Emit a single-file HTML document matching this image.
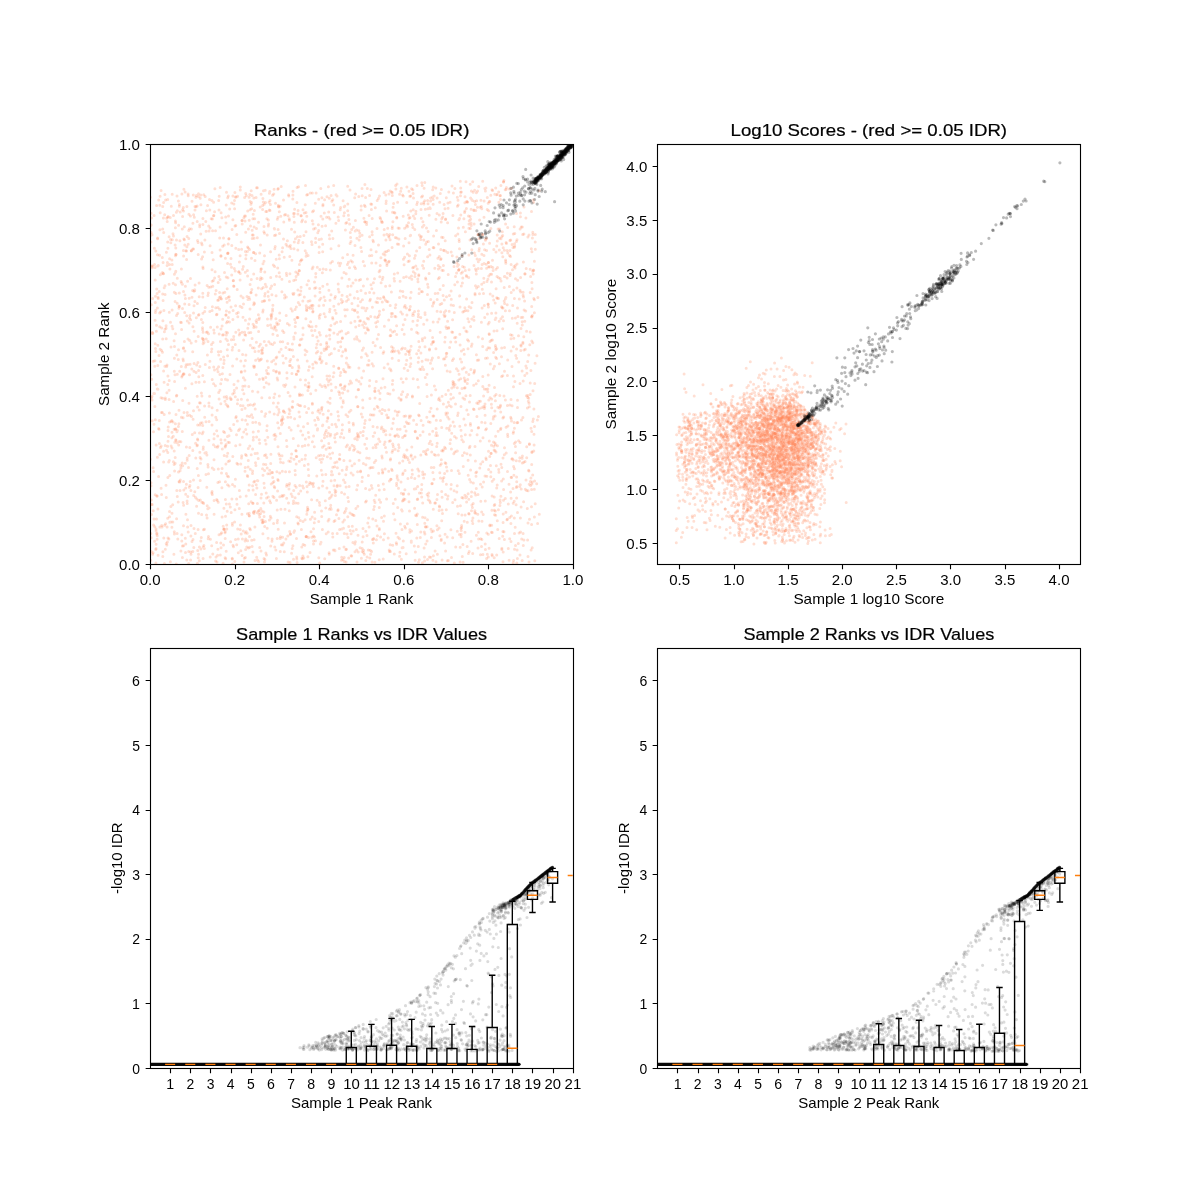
<!DOCTYPE html>
<html><head><meta charset="utf-8"><title>IDR plots</title><style>html,body{margin:0;padding:0;background:#fff;overflow:hidden}svg{display:block}text{font-family:"Liberation Sans",sans-serif}</style></head><body><svg width="1200" height="1200" viewBox="0 0 1200 1200" font-family="'Liberation Sans', sans-serif" fill="#000"><rect width="1200" height="1200" fill="#fff"/><defs><clipPath id="ca1"><rect x="150.00" y="144.00" width="422.73" height="420.00"/></clipPath><clipPath id="ca2"><rect x="657.27" y="144.00" width="422.73" height="420.00"/></clipPath><clipPath id="ca3"><rect x="150.00" y="648.00" width="422.73" height="420.00"/></clipPath><clipPath id="ca4"><rect x="657.27" y="648.00" width="422.73" height="420.00"/></clipPath></defs><g clip-path="url(#ca1)"><g fill="none" stroke="#ff7f50" stroke-opacity="0.25" stroke-width="3.0" stroke-linecap="round"><path d="M417.3 437.8h0M175.5 429.6h0M302.9 555.9h0M323.8 455.4h0M189.2 298.2h0M359.7 236.5h0M398.9 239h0M182.2 463h0M372.1 561.9h0M274 497.6h0M457.8 234.1h0M482.2 486.9h0M206.9 454.9h0M206.4 332.3h0M306.6 310h0M476.6 287.9h0M269.3 210.1h0M306.6 412.6h0M431.4 537.5h0M347.9 391.1h0M530.2 382.9h0M193.5 410.8h0M315.3 228.3h0M162.7 229h0M161.7 328.1h0M532.8 342.7h0M501.5 356.8h0M502.9 417.9h0M164.7 525.3h0M530.9 370.6h0M407.4 457.4h0M189.5 374.7h0M274.7 487.8h0M326.9 488.1h0M433.9 467.4h0M365.1 222.1h0M338.4 416.1h0M275.5 203.2h0M528 522.9h0M511.4 515.9h0M418.8 274.8h0M170.5 322.3h0M274.5 235.4h0M442.1 559.9h0M513.8 338.2h0M459.4 534.6h0M441.1 258.8h0M444.6 316.6h0M218.2 282.5h0M358.1 389.7h0M188.7 230.5h0M298.2 371.2h0M264 226.6h0M415.1 560.3h0M226.5 396.6h0M221.9 217.8h0M270.6 502.8h0M167.8 452.5h0M163.7 232.6h0M276.4 558.6h0M465.4 231.7h0M298.9 294.9h0M355.5 268.4h0M504 396h0M243.9 393.7h0M268.5 373.7h0M344 547.1h0M155.5 348.6h0M405.1 305.5h0M377.6 298.2h0M402.6 437.4h0M310.8 306.1h0M431.7 452.1h0M228.2 244.1h0M163.1 262.4h0M356.3 529.4h0M476.4 535.2h0M341.9 407.1h0M492.6 190.5h0M336.5 426.8h0M261 550.9h0M365.7 310.8h0M318.1 340.9h0M316.2 457.8h0M511.1 351.1h0M176 414.5h0M344.2 206.7h0M193.8 547.5h0M307.5 507.2h0M380.2 265.4h0M266.2 345.3h0M413.2 209.8h0M370.6 554.2h0M474.7 201.5h0M434.8 268.3h0M268.6 224.1h0M504.2 287.6h0M413.4 215.9h0M309.1 484.4h0M448 495.9h0M255 351.5h0M303 328h0M483.4 244.1h0M332.6 453.1h0M262.1 278.5h0M474.5 370.3h0M212.1 491.5h0M520.8 350.6h0M341.6 433.5h0M181.4 322.6h0M151 482.7h0M333.3 549.9h0M512.4 458.8h0M419.3 289.1h0M386.2 201.1h0M330.2 435.9h0M231 399.1h0M365.6 488.4h0M397.7 507.6h0M425.9 279.2h0M293.3 503.5h0M223.5 545h0M459.7 393.3h0M205.2 307.5h0M531.6 489.5h0M452.7 502.6h0M529 562h0M161.1 488.3h0M476.3 488.4h0M247.7 476.4h0M252.9 552.1h0M254 302.7h0M504.6 303.5h0M304.3 212.9h0M500.3 406.5h0M402.5 195.1h0M407.5 423.6h0M199.5 432.9h0M421.3 218.2h0M514.5 549.2h0M347 534h0M362.1 307.8h0M484.7 317.5h0M154.8 526.8h0M305.1 519.8h0M215.4 385.8h0M187.8 496.5h0M174.4 358.3h0M300.2 236.5h0M353 283.1h0M367.4 365h0M343.9 460.6h0M349.9 447.8h0M307.8 386.7h0M202.6 329.7h0M356.9 436.9h0M529.4 443.8h0M361.2 206h0M338.6 420.1h0M354.6 310.7h0M395.1 351h0M330.7 505.2h0M413.2 378.7h0M192 297.2h0M245 471.2h0M427.1 541.1h0M234.7 486.3h0M325.8 507.9h0M444.6 447.3h0M315.7 277.1h0M252.7 417.4h0M199.1 382.2h0M493.2 419h0M236.5 434.7h0M418.2 362.3h0M194.9 301.5h0M509.1 560.3h0M273.9 397.4h0M425.1 314.6h0M412.7 267.7h0M510.5 256.4h0M374.5 278.7h0M486.6 558.6h0M290 562.4h0M520.4 213.1h0M195.3 533.5h0M437.1 198.1h0M192.6 290.5h0M341.7 557.3h0M238.7 249.6h0M371.2 467.4h0M254.3 326.1h0M240.3 187.1h0M256.1 320.7h0M515.4 446.5h0M379.9 399.2h0M269.6 397.7h0M456.6 273.1h0M292.3 367.4h0M315.1 296h0M430.7 299.5h0M340.7 263.2h0M526 480.1h0M497.2 235h0M280.6 462.2h0M354.7 197.7h0M335.1 434.7h0M402 529.6h0M482.1 264.5h0M347.8 286.2h0M482.8 376.5h0M327 196.8h0M524 206.9h0M194 528.6h0M391.1 370.8h0M421.2 203.7h0M327 376.1h0M194.8 491.8h0M491.4 532.2h0M522.8 317.2h0M375 388.3h0M532.8 232.3h0M280.3 341.8h0M443.3 270.4h0M263 475.2h0M453.5 358.8h0M513.2 503.2h0M156.8 534.1h0M175.4 227.8h0M522.9 343.5h0M278.3 188.6h0M412.9 321.2h0M493.6 352.5h0M317.1 500.3h0M305.4 439.1h0M422.4 367.1h0M270.7 463.4h0M411.1 292.3h0M439.7 202.3h0M409.4 310h0M205.3 364.5h0M278.3 205.3h0M468.6 341.1h0M173.5 215.4h0M338.6 304h0M301.9 459.4h0M418.8 476.1h0M280.8 216.2h0M291 248.5h0M240.8 361.1h0M375.3 207.8h0M306.7 195.1h0M237.8 316.8h0M503.1 522.4h0M527.8 395.5h0M356.9 238.2h0M301.9 259.8h0M197.1 205.9h0M202.1 422.7h0M348.3 299.5h0M169.2 380.6h0M512.1 244.6h0M313.4 486.6h0M506.1 427.2h0M256.9 319.7h0M369.5 255.7h0M395.6 185.4h0M348.4 262.3h0M256.1 327h0M185.4 388.2h0M279.7 276.7h0M238.3 552.8h0M321 216.2h0M267.3 361.1h0M169.8 475.6h0M463.1 562.3h0M277.7 422.7h0M249.8 194.6h0M510.1 275.5h0M523.9 234h0M347.7 186.3h0M481.8 208.8h0M489.2 201.8h0M425 312.8h0M308.7 383.1h0M383.4 309.7h0M531.3 248.8h0M406.3 378.7h0M190.1 364.2h0M468.9 255h0M258.9 319.6h0M262.9 519.9h0M246.2 531.8h0M265.8 454.7h0M395.9 189.1h0M514.7 246.1h0M441.6 237.2h0M317.5 417.4h0M457.3 451.1h0M312.4 441.7h0M244.5 216.1h0M466.4 275.4h0M468.8 499.3h0M183.9 189.2h0M182.3 229h0M500.5 429.6h0M303 521.4h0M468.9 374.4h0M204.5 529.3h0M247.2 533.3h0M450.9 489h0M314.9 330.5h0M514.6 243.7h0M397.3 244.1h0M322.8 286.3h0M445.1 534.3h0M306.4 308.3h0M295.4 238.8h0M228.3 195.9h0M323 204.5h0M365.5 323.8h0M478 547.9h0M464.2 521.2h0M393.4 390.1h0M394.6 331.3h0M505.4 400h0M523.1 295.3h0M362.2 195.8h0M277.6 490.9h0M360.6 470.9h0M462.6 266.4h0M253.5 365.9h0M406.7 202.4h0M420.8 532h0M155.3 419.8h0M499.6 229.1h0M442.8 216.9h0M280.3 551.5h0M439.6 507.1h0M225.4 499.4h0M160.8 311.8h0M272.9 334.2h0M400.3 290.9h0M526.7 457.8h0M379.8 411.1h0M342.1 295.2h0M354.9 544.1h0M403.6 246.1h0M328.7 212.1h0M417.3 514.1h0M291.5 229.3h0M465 380.3h0M364.9 184.4h0M322.1 360.9h0M453.4 397.7h0M174.2 451h0M431 408.3h0M432.6 337.5h0M289.2 427.5h0M226.5 192.3h0M189.7 415.3h0M316.3 353h0M343.8 215.8h0M343 559.6h0M494.5 387.4h0M220.3 555h0M372.4 307.2h0M234.3 268.5h0M264.7 526.6h0M185.4 286.3h0M159.7 454.4h0M438.5 357.6h0M385 252.1h0M431.5 360.3h0M492.2 555.7h0M352 465.7h0M340.2 375.4h0M162.4 412.6h0M404.2 334.3h0M446 326.7h0M151.7 379.2h0M439.9 535.8h0M159.4 443.4h0M229.4 442.4h0M533.8 298.4h0M198.6 370.6h0M323.2 414.3h0M442.1 396.2h0M242.6 269.2h0M470.4 228.5h0M363.4 463.4h0M494.1 449.9h0M447.7 417.1h0M388.5 417.6h0M377.4 535.7h0M480.5 554.7h0M288.6 194.7h0M484.1 263.5h0M264 558.4h0M514.2 422.6h0M253.6 304.8h0M200.2 198.3h0M473.8 373.1h0M252.6 485.8h0M446.2 356.4h0M493.8 479.3h0M189.8 447.4h0M531.7 431.5h0M353.4 425.1h0M497 330.8h0M317.3 267.2h0M264 301h0M344.8 205.9h0M232.5 484.4h0M233.7 336.4h0M186.9 206.4h0M223.5 334.8h0M456.6 451.3h0M426.6 241.9h0M436.3 420.3h0M195.9 341.2h0M197 445.8h0M301.4 529.5h0M322.5 486.1h0M258.2 458.4h0M266.5 555.1h0M438.3 278.7h0M259.2 439.7h0M252.1 546.6h0M457.2 485.8h0M503.2 551.9h0M522.1 370.9h0M418 333.3h0M252.2 230.3h0M153.2 361.3h0M447.6 321.3h0M507.4 405.5h0M156.1 548.4h0M407.6 394.5h0M290.5 365.4h0M363.9 307.9h0M236.7 544.7h0M182.6 209.8h0M295.5 322.5h0"/><path d="M449.2 311.3h0M292.3 311h0M197.2 396.3h0M442 510h0M485.4 549.5h0M400.1 429.2h0M346.5 549.2h0M255.6 360.3h0M266.4 286.8h0M225 440.1h0M253.7 511.7h0M358.2 435.1h0M275.2 246.5h0M371.6 551.6h0M513.5 431.7h0M424.1 188.3h0M227.5 484.8h0M392.3 226.8h0M507.4 273.3h0M443.1 295.5h0M463 497.9h0M502.9 531.6h0M445.9 413.1h0M408.2 459.8h0M377.2 200.4h0M424.7 474.2h0M407.7 226.5h0M470.6 470.1h0M411.4 477.5h0M334.3 212.4h0M459.2 241.4h0M457.5 266.2h0M212.4 219h0M293.9 339h0M200.4 403h0M468.1 460.3h0M507.4 375.5h0M432.7 189.7h0M440.3 193.5h0M375.7 322.7h0M398 537.3h0M462.9 544.6h0M213.9 215.6h0M264.4 487.8h0M314.4 536.9h0M322.3 474.7h0M298.7 493.7h0M238.2 312.5h0M510.3 273.6h0M485.9 188.1h0M380 217.4h0M232.1 229.6h0M517.2 323.2h0M223.5 238h0M392.7 545.2h0M196.6 506.3h0M386.7 415h0M183.6 347.8h0M272.6 310.9h0M473.9 210h0M336.9 462.1h0M445.5 448.5h0M381.8 426.9h0M175.4 423.7h0M516.8 486.5h0M169.1 284.2h0M459.8 426.2h0M201.8 502.2h0M298.3 302.4h0M278 217.2h0M351.1 533.8h0M283.6 385.2h0M471.4 191.1h0M276.3 330.2h0M504.5 371.3h0M445.8 394.5h0M335.2 492.6h0M318.6 455.7h0M169.5 516.7h0M317.6 428.7h0M222.1 517.1h0M410.2 235.7h0M281.1 349.3h0M338.4 263h0M253.5 512.6h0M202.8 375.6h0M305.3 385h0M390.6 458.7h0M297.9 371h0M335 489.9h0M199.8 452.3h0M415.3 431.8h0M487.3 197.6h0M370.4 299.3h0M452.6 319.7h0M293.8 337.1h0M201.6 259h0M455.7 546.9h0M405.1 348.4h0M256.1 197.4h0M303.1 544.5h0M228.5 344.4h0M464.3 354.3h0M489.8 456.6h0M152 400h0M531.7 306.4h0M468.2 414.4h0M174.6 381.5h0M203.1 332.2h0M444.6 542.9h0M237.6 196.3h0M190.6 560.1h0M346.1 486.9h0M526.2 268.6h0M410.8 363.7h0M504.9 276.6h0M426.4 454.6h0M406.6 226.9h0M536.7 483.7h0M487.8 389.1h0M199.4 547h0M162 526.9h0M158.1 555.3h0M370.7 316.6h0M355.6 194h0M367.8 523h0M342.9 301.5h0M296.5 374.4h0M249.4 516.1h0M329.8 338.9h0M298.1 425.7h0M156.7 289h0M329.7 454h0M273.6 370.6h0M509.9 405h0M465 532.3h0M407.4 254.1h0M217 562h0M485.5 240.3h0M392.3 192.4h0M417.2 269.1h0M328.7 217.3h0M271.2 484h0M439.3 505.9h0M503.2 513.9h0M232.3 559.1h0M390.5 329.9h0M187.5 519.7h0M159.9 527h0M228.4 317.5h0M261.5 494.2h0M192.3 434.6h0M504.4 276.6h0M443.1 213.5h0M527.4 408.1h0M299.4 344.9h0M305.9 318.7h0M415.8 213.8h0M461 528.2h0M348.7 558.1h0M447.7 252.4h0M319.2 247h0M357.4 339.2h0M393.3 446.7h0M232.2 350.1h0M404.6 257.3h0M464.2 378.1h0M161.6 350.5h0M415.6 515.2h0M312.2 268.8h0M219.7 238h0M355.4 220.5h0M300.8 430.9h0M167.4 262.4h0M337.2 533.5h0M177 196h0M365.6 333h0M532.2 481.9h0M328.2 532.1h0M341.6 331.1h0M198.5 193.8h0M461.9 439.7h0M416.6 332.3h0M220.7 359.3h0M464.4 387.9h0M188.1 194.1h0M349.5 267.7h0M484.9 188.4h0M400.7 191.3h0M279.3 352h0M284.7 386.4h0M256.6 436.9h0M281.5 424.8h0M157.7 266h0M289.7 531.5h0M188.8 238.6h0M252.6 470.9h0M330.6 263h0M202.3 338.2h0M240.3 190h0M427.8 449.5h0M167.9 376h0M375 391.6h0M200.5 463.3h0M433.3 509.3h0M458.2 470.7h0M292.9 293.4h0M530.2 292.6h0M171.9 527.3h0M407.3 351.1h0M493.4 368.7h0M262.6 205.4h0M320 358.9h0M421.4 236.6h0M463.4 441.8h0M356.2 397h0M259.7 517.1h0M413.3 271.7h0M354.1 515.6h0M294.3 222.2h0M470.7 219.2h0M175.2 457.5h0M324.1 313.8h0M294 459.3h0M233.5 546.7h0M293.9 293.2h0M301.2 259.9h0M195 210.1h0M268.3 367.6h0M227.5 380h0M296.9 202.5h0M322.4 272.7h0M153.1 467.7h0M253.8 252.5h0M183.4 373.7h0M317.4 429.9h0M437.4 529.7h0M364.2 327.4h0M280.3 433.5h0M280.4 536.7h0M387.4 417.7h0M409.3 354.5h0M331.4 474.7h0M251.6 414.8h0M446.7 407.1h0M477.1 434.8h0M306 212.5h0M264.9 416.3h0M307.9 556.7h0M198.1 242.6h0M165.6 200.1h0M296.2 451h0M369.2 458.3h0M217.9 482.6h0M151.5 514.5h0M478.2 403.4h0M392.3 195.6h0M495.9 318h0M513 247.4h0M250.4 529.8h0M157.4 457.2h0M340.1 485.7h0M187.6 526.9h0M439.1 510.6h0M177.2 303.3h0M360.5 301.7h0M163.6 202.6h0M250.8 332.5h0M485.5 358.3h0M188.7 563.5h0M350 189.9h0M453.5 305.5h0M193.9 371.3h0M457.3 531.2h0M471.9 504.9h0M150.9 242h0M451.8 388.1h0M326 348.9h0M286.5 440.4h0M522.2 321.7h0M433.4 303.4h0M246.3 195.8h0M391.6 351.8h0M475.4 204.5h0M331.1 195.5h0M462.4 283h0M506.2 453.1h0M332.5 474.8h0M491.1 453.2h0M376.3 381.4h0M200.8 541.1h0M444.3 300h0M358.9 437.1h0M517.5 400.3h0M433.1 199.4h0M310 552.4h0M344.4 520.1h0M168.7 461.9h0M169.9 269.1h0M498.1 431.2h0M524.9 273.7h0M516.6 358.3h0M460.2 547.2h0M404.1 454.7h0M332.6 533.4h0M292.9 195.1h0M263.3 202.1h0M363.6 550.2h0M221.6 532.8h0M509.5 310.8h0M326.1 449.3h0M183 358.9h0M282.7 341.8h0M504.5 347.5h0M474.1 223.9h0M387.9 301.7h0M410.2 349.9h0M315.9 287.8h0M434.2 454.5h0M404.2 368.2h0M307.8 509.3h0M392.1 247.6h0M264.8 272h0M433.4 555.8h0M164.9 194.4h0M374.4 408.9h0M418 281.7h0M387.9 363.9h0M312.3 192.9h0M398.2 450.8h0M233.9 286.3h0M423.7 202.6h0M492.4 340.1h0M254.7 218.7h0M454.1 490.7h0M214.5 370.1h0M210.6 327.3h0M374.3 462.5h0M206 474.6h0M422.2 185.5h0M470.4 423.4h0M297.6 359.9h0M410.6 235.2h0M193.1 419.2h0M284.8 412.6h0M514.3 443.4h0M176.8 395.3h0M167.7 217.3h0M459.1 374.3h0M283.2 419h0M362.4 417h0M166.7 366.6h0M193.5 312.9h0M200.2 480.6h0M231.7 275.1h0M323 481.2h0M247.4 251.5h0M351 241.5h0M210.2 557h0M318.7 230.6h0M267.1 425.7h0M385.2 259.9h0M429.5 349h0M312.5 412.7h0M313.5 541h0M415.9 211.2h0M405 319.4h0M180.2 212h0M288.8 461.1h0M472 344h0M178.9 308.2h0M243.5 304h0M506.4 187.4h0M405.2 457.8h0M227.6 355.8h0M293 191.3h0M169.1 390.3h0M453.7 382.4h0M369.5 489.8h0M296.7 516.8h0M211.4 351.7h0M230.3 507.1h0M169.4 412.9h0M235.7 445.7h0M500.4 195.6h0M200.9 548.9h0M495.2 319.6h0M371.4 485.4h0M383.1 353.3h0M202.5 327.8h0M428.2 496.3h0M461.9 515.1h0M169.5 264.6h0M151.3 304.7h0M464.9 495.2h0M475.8 210.5h0M176.3 564h0M429.5 434.2h0M358 305.7h0M339.2 473.8h0M358.9 230.8h0M289.5 281.5h0M492 189.8h0M490.2 274.2h0M517.7 422.5h0M345.4 229.9h0M385.9 434.8h0M497.7 529.5h0M458.5 264.8h0M239.9 333.3h0M461.4 351.1h0M482.5 234.5h0M342.9 351.8h0M487 281.6h0M381.7 222.3h0M271.6 327.8h0M514.4 468.7h0M373.3 542.9h0M167.7 242h0M372.9 240.2h0M158.3 265.4h0M348.2 332.6h0M352.4 262.1h0M531.5 211.5h0M368.9 360.5h0M199.7 224.8h0M328.6 381.5h0M402.6 348.1h0M486.7 238.4h0M282.7 544.9h0M225.4 379.2h0M378.7 473.3h0M197.2 221.4h0M425.7 244.3h0M479.8 468.1h0M169.3 460.6h0M518.5 335.8h0M307.9 390.4h0M368.9 365.1h0M286.4 273.2h0M168 538.1h0M340.4 385.3h0M443.5 250.3h0M460 307h0"/><path d="M485.3 501h0M475 293.5h0M382.2 458.1h0M373.9 414.9h0M470.3 455.1h0M199.2 409.9h0M339.3 458.9h0M277.5 520.2h0M504.3 250.2h0M398.5 488.2h0M344.8 309.8h0M475.4 461.1h0M250.3 345.3h0M194.1 331.3h0M420.8 239.4h0M405.3 435.6h0M270 210.5h0M160.2 349.2h0M232.9 219.7h0M514 266.5h0M202.9 313.2h0M427 320h0M152.6 298.4h0M157.3 389h0M277.3 219.2h0M155.8 351.4h0M276.7 322.7h0M303.5 426.8h0M381.1 282.7h0M391.4 292h0M386.9 234.2h0M379.5 311.2h0M341.6 302.8h0M467 453.8h0M282.8 355.8h0M325.6 225.7h0M242.6 354.6h0M334.5 348.7h0M188.5 467.6h0M401 481.9h0M409.5 462.5h0M274.2 486.4h0M278.1 229.4h0M358.8 196.6h0M314.6 288.3h0M332 495.1h0M447.1 470.9h0M247.4 424.2h0M165 285.7h0M249.7 528.6h0M350.9 260.7h0M241.9 514.3h0M417.3 499.6h0M263 263.8h0M224.1 360.3h0M525.7 310.9h0M276 371.9h0M527.3 508.5h0M245.2 467.5h0M176.4 396.1h0M347.9 497.4h0M253.1 490.1h0M507.1 277.9h0M202.9 224.5h0M242.6 389.8h0M219.6 292.4h0M391.7 428.8h0M521.2 317.6h0M333.8 306.2h0M480.9 200.2h0M337.4 485.3h0M265.8 377.4h0M192 201.2h0M174.1 340.8h0M516.4 487.6h0M183.6 256h0M246.8 434h0M484 217.2h0M308.5 537.5h0M517.5 512.6h0M500.9 318.8h0M369.4 385.9h0M286.3 296.9h0M299.8 416.8h0M517 239.7h0M305.1 350h0M436 428.6h0M157.5 254.8h0M203.8 194.8h0M511.6 188.2h0M232.3 523.3h0M324.4 437.8h0M395.1 449.2h0M339 291.9h0M216.1 290.5h0M348.9 219.4h0M454.9 188.5h0M367.3 355.7h0M456.3 438h0M279.4 258.8h0M281.9 419.3h0M354.5 463.7h0M476.4 354.8h0M248.3 247.9h0M476.9 416.6h0M275.2 327.5h0M220.4 341.6h0M298.7 366.1h0M378.7 390.7h0M379.3 528.4h0M183.6 545.8h0M392.5 313.6h0M177.1 442.7h0M500.2 278.6h0M328.4 410.7h0M290.6 533.9h0M333.7 205.1h0M265.2 190.3h0M406.3 422h0M151.3 397.8h0M372.1 363.7h0M389.2 441.2h0M257.4 480.6h0M238.2 538.9h0M181.8 377h0M228.9 238.4h0M163.3 273.5h0M502.5 316.7h0M425.9 527h0M213.8 330.1h0M288.8 196h0M158 297.2h0M389.8 234.6h0M446.5 466.9h0M159.2 291.5h0M273.8 193.9h0M309.6 288.5h0M325.1 300.5h0M302.4 394.9h0M329.9 309.2h0M164.2 287.7h0M372.2 218.4h0M164.7 214.8h0M411.2 455h0M371.8 255.6h0M325.3 316.8h0M175.5 284.7h0M259.4 318h0M316.9 337h0M519.8 457.7h0M309.1 386.2h0M158.6 476.6h0M218.9 276.5h0M506.1 242.6h0M464.9 202.7h0M253.1 324.2h0M231.2 512.6h0M228.5 216.1h0M267.2 528.2h0M409.2 416.1h0M233.1 310.4h0M274.1 189.2h0M532.2 547.7h0M192.8 450.4h0M266.2 493.1h0M373.6 538.5h0M338.2 283.9h0M405.9 297.6h0M401.3 493.2h0M351.9 303.4h0M266 444h0M422.4 291.7h0M424.8 182.5h0M474 265.6h0M203 502.4h0M156.6 205.4h0M535.2 503.7h0M464.9 307.8h0M470.2 184.3h0M451.2 484.5h0M225.2 538.4h0M230 374.5h0M297.9 213.9h0M397.1 475.7h0M390.2 305.6h0M441.3 539.2h0M374.3 506.4h0M289.1 409.1h0M388.5 250.6h0M265.8 211.5h0M344.5 494.1h0M423.7 369.6h0M262.6 209.5h0M255.5 462.7h0M296.3 306.9h0M390.3 460.1h0M524 350.1h0M496.1 288.7h0M301.8 546.9h0M466.4 208.5h0M344.3 371.6h0M344.4 212.7h0M280.9 509.2h0M185.7 367h0M469.3 447.8h0M275.8 234.9h0M454.6 337.8h0M179.4 204.6h0M437.8 322.1h0M422.5 265.6h0M224.2 397h0M192.9 223.2h0M216.6 542.5h0M226.2 205h0M418.8 275.7h0M331.5 390.6h0M262.3 522.8h0M225.9 464h0M449 428h0M176.8 490.5h0M331.1 414.2h0M177.3 374.3h0M308.1 255.5h0M200.5 422.9h0M457.3 387.7h0M471.1 209.3h0M373.4 241.8h0M282.6 330.7h0M392.2 358.3h0M257.3 237.8h0M278.2 529.2h0M289.3 325.1h0M191.5 416.4h0M283.8 222h0M231.5 267.2h0M365.6 197.4h0M361.6 251.4h0M304.8 406.6h0M523.6 501.8h0M471.6 492h0M204.4 381.8h0M393.6 418.7h0M393.6 203.6h0M481.7 511.9h0M528 556.5h0M479 401.3h0M312.3 403.3h0M188.9 214.2h0M418.4 314.2h0M198.4 475.6h0M481.7 284.3h0M501.7 348h0M271.7 361.8h0M257.8 480.7h0M232.7 347.3h0M285.9 538.9h0M384.9 387.3h0M304.9 445.6h0M433.9 247.7h0M224.5 272.4h0M306.2 536.7h0M385.8 261.2h0M465.9 395.8h0M400.4 524h0M359.6 341h0M298.1 210.5h0M441.3 459.7h0M430.3 502.7h0M218.2 502.2h0M162.7 294h0M498.7 192.1h0M321.6 410.2h0M362 481.5h0M249.1 197.2h0M533.6 202.3h0M450.1 202.3h0M173 233.7h0M202.9 218.6h0M307.7 194.5h0M489.8 201.6h0M454.8 284.7h0M360.5 471.7h0M240.2 273.4h0M234.2 392.8h0M271.9 294.8h0M362.2 548.6h0M430.6 201h0M383.2 558.9h0M221.1 212.7h0M409.1 218.3h0M355 551.8h0M219.6 481.7h0M265.4 521.4h0M198.1 529.4h0M335.4 495.5h0M366.7 457.9h0M365.5 502h0M444.6 473.4h0M459.8 334.2h0M483.5 293.4h0M359.6 321.1h0M359.1 460.2h0M371 284.7h0M489.1 385.3h0M350.9 410.2h0M421 369.4h0M372.4 539.5h0M509.4 286.6h0M313.5 528.7h0M289 489h0M432.6 368.8h0M208.9 440.3h0M157.9 389.2h0M365.6 293.3h0M245.4 360.5h0M472.9 518.1h0M509.3 189h0M485.6 238.9h0M403.4 500.6h0M302.7 434.9h0M159 355.4h0M263.5 464.2h0M211.2 218.8h0M269.7 412h0M447.2 371h0M416.6 515.8h0M328.8 443.4h0M337.4 467.7h0M244.9 334.4h0M489.2 322.2h0M410.3 298h0M196.3 317.8h0M274.8 248.7h0M226.5 322.7h0M424.9 533.9h0M396.6 483.3h0M167.6 446.2h0M187.1 236.4h0M287.8 343.5h0M245.1 408.2h0M257.5 559.9h0M499.3 249.9h0M518.6 440.8h0M439.3 256.4h0M391.6 469.3h0M154.8 366.3h0M357.8 506.3h0M449.2 405.4h0M525.3 489.2h0M256.2 484.8h0M433.8 416.1h0M262.7 352.9h0M296.2 463.9h0M388.8 409.8h0M450.4 425.7h0M259.7 443.3h0M328.4 186.7h0M229.3 312.2h0M180.6 465.2h0M488.2 304.6h0M376 447.4h0M287 378.3h0M228 442.3h0M444.8 341.9h0M466.3 372.2h0M484.3 305.5h0M364.6 265.7h0M465.9 330.9h0M288.5 503.1h0M207.6 205.4h0M364.4 205.3h0M529 471h0M179 306.1h0M504.5 447.8h0M501.8 236.8h0M272.9 305.2h0M497 276.5h0M448.5 328.3h0M500.3 502.4h0M290.4 245.4h0M330.3 330.1h0M304.4 465.4h0M364.3 554.2h0M486.8 476.2h0M417.4 202.2h0M365.9 464.7h0M210.4 539.3h0M315.5 540.7h0M514.3 518h0M437.2 443.2h0M221 328.9h0M208.5 536.4h0M286.9 484.6h0M225.2 531.5h0M219.9 390.3h0M184.3 226.8h0M244.6 332.3h0M222.7 246.2h0M409.3 261h0M263.5 190.7h0M398.9 397.9h0M192 541.5h0M279.3 396.1h0M511.2 292.6h0M313.4 483.3h0M240.2 496.8h0M446.7 428.2h0M438.4 455h0M311.1 483.2h0M175 374.7h0M229.6 460.7h0M363.2 431.5h0M392.1 452.2h0M262.3 350.5h0M523.1 533.4h0M162.8 556.6h0M503.6 181.7h0M155.2 494.7h0M385.5 430.7h0M402.8 291.5h0M175.5 333.8h0M370.8 203.9h0M254.8 511.3h0M322.4 529.6h0M242 307.5h0M359.9 452.7h0M287.1 246.1h0M328.1 384.9h0M186.7 315.7h0M163.4 217.9h0M345.4 511.1h0M276.1 295.8h0M460.1 345.1h0M320.7 344.4h0M153.5 431.7h0M236.8 358.9h0M183.8 490h0M401.2 378.7h0M476.2 270.7h0M292.6 407.2h0M294 248.7h0M397.7 273.1h0M530.2 269.3h0"/><path d="M157.1 495.9h0M443.1 237.5h0M275.8 550h0M233.7 424.4h0M512 366.4h0M399.5 297.4h0M176.5 315.5h0M165.3 397.9h0M191.8 369h0M342.2 470.2h0M326.1 269.4h0M538.4 416.4h0M279.4 373.6h0M260.5 359.8h0M411.8 447.1h0M222.5 334.9h0M381.2 388h0M511.1 498.2h0M530.9 478.1h0M212.1 310.4h0M241.4 399.3h0M269.3 299.9h0M423.6 478h0M214 438.8h0M452.9 381.4h0M245.9 354.9h0M452.7 332.3h0M475.8 472.7h0M290.7 359.5h0M296.7 456.4h0M235.3 196.9h0M433.4 530.9h0M412.3 474.3h0M311 531.7h0M384.9 410.5h0M489.9 525.7h0M355.7 279.9h0M343.3 402.8h0M389.6 368.7h0M172 448.1h0M495.7 357.3h0M217.4 447.3h0M357.2 291.5h0M445.5 251.1h0M241.7 455.7h0M163.6 451.2h0M249.5 249.4h0M402.4 313.9h0M195 206.6h0M175.7 439.7h0M535.2 242.1h0M480.1 207.3h0M260.7 277.8h0M502.3 231.7h0M335 520.4h0M268.3 220h0M362.3 350.3h0M494.7 396.1h0M419.3 234.9h0M389.9 394h0M521.7 539h0M523.8 462.3h0M168.9 539.1h0M163.9 310.6h0M337 196.1h0M334.7 323.7h0M254.5 303.7h0M203.4 529.8h0M330.4 447.7h0M503.5 320.7h0M322.7 251.7h0M206.2 339h0M481.7 422.3h0M437.1 311.2h0M184.7 303.9h0M208.9 403.1h0M365.8 560.6h0M395.3 237.6h0M490 341.5h0M241.6 249.2h0M322 407.2h0M320.7 455.3h0M418.6 415h0M494.8 194.2h0M427.5 294.4h0M197.5 439.1h0M232.9 196.1h0M270.4 288.5h0M167.9 248.2h0M286.9 372.7h0M257.4 187.8h0M185.7 494.3h0M277.7 268.1h0M271.7 472.4h0M451.7 433.2h0M475.5 268.9h0M443.3 285.5h0M493.8 446.2h0M361.8 377.8h0M444.2 250.4h0M463 398.1h0M347.2 309.7h0M383.2 254h0M333.7 185.5h0M202.9 267h0M299 368h0M517.9 316.5h0M235.8 417.7h0M489.6 243.3h0M159.8 205.2h0M175.8 271.3h0M191.4 229h0M326.6 342.6h0M496.7 297.8h0M461 406.5h0M537.6 523.4h0M239.3 508.4h0M520.7 292.1h0M415.1 273.6h0M252.7 503.3h0M495.8 349.8h0M165.1 294.4h0M224.2 455.4h0M338.1 509.7h0M152.2 266.1h0M461.2 273.3h0M482.6 234.6h0M282.6 247.8h0M362.1 235.2h0M367 308.2h0M220.5 296.8h0M453.2 385h0M365.2 206.6h0M469.1 306.7h0M476.4 192.7h0M175.6 272.1h0M188.2 531.9h0M416.8 537.9h0M520 383.6h0M293.7 280.5h0M290.4 461.4h0M499.2 538.4h0M155.7 310.2h0M258.4 431.2h0M183.9 238.9h0M329.2 554.3h0M235 225.9h0M298.1 503.3h0M249.1 515.5h0M222.9 367.4h0M226 444.6h0M298 317.4h0M342.7 257.7h0M377.6 302.4h0M385.3 300h0M283.5 238.9h0M251.1 292.2h0M327.8 402h0M157.8 345.3h0M274.6 266.6h0M483.6 482.1h0M511.8 459h0M221.3 299h0M161.4 412.4h0M417.7 499.1h0M240.7 464.1h0M315.8 390.3h0M169.6 258.7h0M248.4 548h0M368.3 549.9h0M430.1 330.4h0M483.6 406.4h0M342.7 393.1h0M269.1 202.3h0M305.5 379.9h0M397.6 202.3h0M497.2 484.9h0M352.1 445.2h0M318.4 419.4h0M403.6 493.5h0M235.3 344.6h0M264 483.3h0M462.3 369.1h0M268.3 226h0M418.8 341.6h0M433.2 204.2h0M238.9 271.8h0M227.1 302.2h0M218.3 351.7h0M308.4 307.4h0M467.6 202.1h0M496.4 194.8h0M295.3 474.8h0M520.6 531.9h0M211.5 344.4h0M340.7 346.8h0M274.9 434.2h0M313 311.3h0M249.6 319.1h0M261 498.1h0M250.9 204.2h0M340.7 398.1h0M325.3 500.7h0M212 252.6h0M361.3 413.9h0M390.4 369.2h0M220.8 351.5h0M223.9 363.5h0M289.8 256.6h0M481.8 254.2h0M226.9 398.7h0M513.3 459.9h0M243.3 531h0M160.1 196.2h0M497.5 267.6h0M309.3 366.7h0M516.5 213.6h0M383.6 296.8h0M422.5 340.7h0M345.7 350.8h0M333.9 372.8h0M346 414.8h0M452.3 255.7h0M268.9 383.9h0M298.3 445.8h0M254.1 539.7h0M251.5 258.3h0M396.6 544.2h0M307.7 423.4h0M470.2 395.4h0M417.8 468.9h0M358.6 389.6h0M155.8 549.5h0M505.6 223.9h0M409 191.2h0M466.8 409.9h0M156.3 384.5h0M385.9 240h0M156.5 325.2h0M384.9 260h0M365.9 353.8h0M185.3 463.3h0M394.2 212.5h0M166 485.2h0M487.3 554.3h0M312 305.3h0M264.5 561.9h0M222.7 319.3h0M208.1 466.9h0M520.4 216.7h0M454.5 436.6h0M440.5 420.5h0M255 560.6h0M390.2 544.8h0M358.2 552h0M363.4 552.5h0M198.2 336.6h0M171.8 420.5h0M158.2 298.5h0M395.9 316.7h0M447.6 413.1h0M458.9 219.8h0M336.1 194.7h0M423.5 451.6h0M293.5 213.6h0M337.6 334.3h0M369.8 300.8h0M359.1 280.2h0M255.7 422.2h0M407.8 370.5h0M475.3 255.4h0M183.3 360.8h0M259.8 424.2h0M328.5 346.7h0M308.2 464.3h0M360.6 320.8h0M459.6 218.5h0M253.8 197.9h0M534.1 445h0M499.8 395.4h0M411.8 279.3h0M415.4 552.1h0M464 327.8h0M392.9 221.7h0M481.9 539.4h0M223.7 529.2h0M264.7 296.1h0M363.4 285.9h0M219.6 309.3h0M433.7 341.6h0M534.8 560.8h0M186.6 259.6h0M421.6 489.4h0M379.8 276.7h0M166.5 450.2h0M211.8 348.9h0M247.6 540.8h0M500.9 428.2h0M390.1 239.8h0M402.7 391.8h0M463.3 466.5h0M219.2 196.2h0M504.3 454.8h0M197.3 445.1h0M307.9 509.6h0M508.3 503.9h0M435.2 293.4h0M353.2 531h0M355 245.5h0M282.6 537.2h0M408.5 222.8h0M256.9 488.1h0M430.8 557.2h0M197.7 424.9h0M154.4 248.2h0M403.7 499h0M253.8 482.1h0M279.5 233.5h0M349.1 486.5h0M273.9 329h0M374.9 562.3h0M257.1 278.4h0M471 223h0M161.2 446h0M260.5 244.9h0M470.6 326.4h0M169.3 312.2h0M409 242.8h0M201.4 393.1h0M389.4 480.9h0M337.1 486.5h0M252.5 391.2h0M298.5 186.8h0M532.4 315.5h0M261.8 397.7h0M176.8 354.9h0M397.3 415.2h0M456.9 257.1h0M183.6 505.3h0M340.2 209.7h0M367 535.6h0M475.5 285.7h0M264.3 341.5h0M195.1 285.1h0M322.1 226.3h0M219.9 374.6h0M291.6 454h0M306.5 536.4h0M218 371.8h0M539.3 190.7h0M189 403.3h0M178.5 349.8h0M283.9 495.3h0M209.1 507.9h0M178.9 423.8h0M532.6 270.9h0M364.7 423.5h0M368.6 318.9h0M297.8 273h0M385.5 447.6h0M295 485.4h0M192.7 249.1h0M193.6 214.8h0M253.2 440h0M457.4 282h0M429.2 215.3h0M346.1 562h0M470.9 307.8h0M482.7 181.3h0M512.1 405.8h0M248.4 229h0M344.2 557.6h0M180.3 480h0M385.8 194.9h0M390.1 335.7h0M243.9 217.7h0M324.1 296.9h0M202.6 256.7h0M423.7 261.3h0M172.8 522.1h0M182.3 431.6h0M239 350.4h0M236.6 313.5h0M293.9 216.5h0M183.1 417.7h0M310 300.8h0M504.4 539.4h0M289 349.4h0M207.1 285.5h0M416.7 353.7h0M173.6 401.5h0M155.3 302.5h0M207.8 508.8h0M363 435.4h0M231.8 245.5h0M411.1 346.2h0M242.4 539h0M182.7 465.7h0M206.1 231.3h0M162.3 257.4h0M288 215.8h0M429.9 254.9h0M384.1 192.6h0M417.7 320.6h0M388.2 538h0M188.7 551.6h0M174.3 371.3h0M329.2 329.4h0M431.3 467.4h0M210.1 245.8h0M472.8 523.6h0M175.6 222.7h0M262.9 533.8h0M285.6 214.5h0M268.3 497.1h0M157.4 308.1h0M157.6 237.9h0M396.7 217.3h0M506.4 243.4h0M501 238.7h0M423.7 324.2h0M303 209.7h0M289.4 220.3h0M492.3 532.4h0M259.2 423.2h0M405.6 416.1h0M151 485.7h0M191 554.2h0M240.8 550.7h0M495.2 302.9h0M440.2 465.2h0M154 519h0M440.4 477.9h0M410.8 211.1h0M507.8 436.4h0M321.3 470.2h0M339.3 548.4h0M161.7 525.5h0M180.5 322.3h0M162.5 352.2h0M460.1 562h0M401.3 188.3h0M338 342.3h0"/><path d="M512.5 269.8h0M495.6 347.2h0M315.6 242.6h0M468 348.7h0M406.8 225.3h0M409.4 417.7h0M323.6 305.3h0M244.6 197.5h0M238.7 272h0M165.3 399.5h0M339.9 392.9h0M247.5 400.1h0M458.2 513.7h0M293.3 438.6h0M175.1 301.5h0M377.5 444h0M403.4 259.3h0M289.3 413.8h0M424.8 523.2h0M350.3 380.9h0M264.7 300.7h0M437 213.4h0M439.1 528h0M210.1 228.1h0M484.3 389.1h0M190.2 481.6h0M341.5 560.3h0M502.7 235.6h0M170.9 506.4h0M458.6 270.2h0M308.8 387.5h0M363.2 261.4h0M380 393.3h0M225 532.7h0M167 365h0M429.8 501.1h0M404.3 306.9h0M206.8 487.2h0M515.6 442h0M315.8 273.6h0M377 526.1h0M290.7 417.3h0M181.4 268.9h0M450.7 342h0M209 230.9h0M426 359.7h0M213.7 367h0M297.5 317.7h0M260.9 269.3h0M530.4 481.5h0M313.5 543.9h0M319.7 563h0M458.2 205h0M390.4 440.7h0M352.5 309.4h0M384.3 515.9h0M453.4 192.9h0M360.5 432.5h0M215.5 230.7h0M197.4 303.5h0M185.8 543.9h0M531.9 484h0M218 446.1h0M246 255.1h0M160.3 274.8h0M522.9 417.4h0M173.5 235.9h0M520 555h0M220.7 383.8h0M214.1 514.2h0M255.6 253.7h0M499.5 238.3h0M447.3 560.7h0M224.8 292.3h0M329.6 238.8h0M163.6 461.9h0M427.6 256.7h0M168 430.5h0M195.6 443.2h0M266.5 370.4h0M455.1 384.5h0M466.6 276.6h0M530.6 276.6h0M320.2 335h0M274.2 414h0M213.2 259.7h0M432.4 357.9h0M385 442h0M150.7 560.3h0M425 517.8h0M184.8 245h0M298.2 242.7h0M374.7 432.7h0M300.7 491h0M174.1 464.5h0M486.3 264.3h0M488.8 276.1h0M186.9 246.8h0M367.3 318.2h0M331 294.7h0M302.9 242.5h0M423.9 225.2h0M330 300.3h0M297.1 562.4h0M224.6 432.6h0M468.1 493.7h0M403.1 473h0M234.5 200.6h0M369.6 236.7h0M351.1 555.8h0M308.4 445h0M409.8 532.2h0M488.1 347.8h0M183.5 210.9h0M495 443.1h0M391.5 316.5h0M319.4 318.3h0M188 339.1h0M438.4 268.9h0M243.3 266.6h0M152.2 332.4h0M155.2 343.8h0M217.3 500.6h0M263.1 521.9h0M447.6 222.7h0M334.7 550.1h0M293.5 559.2h0M328.7 447.7h0M217.2 368.9h0M160.5 447.6h0M280.2 206.3h0M487.4 314h0M503.5 182.1h0M391.3 313.4h0M159.7 312.9h0M466 181.8h0M379.3 499.8h0M308.7 325.4h0M522.4 456h0M482.8 386.4h0M406.9 315.1h0M404.6 228.2h0M527.7 397.5h0M321.6 408.6h0M478.3 337h0M193.6 248.9h0M394.3 554.1h0M286.7 275.5h0M181.3 366.4h0M209.1 421.4h0M350.1 294.7h0M437.4 435.6h0M162.9 551.8h0M212.8 553.9h0M256.5 228.5h0M349.2 411.9h0M160.6 361.4h0M179.4 306.4h0M300.8 290.9h0M420.8 455.1h0M495.4 400.7h0M496.7 555.1h0M534.7 383.4h0M227.2 288.7h0M521.2 489.1h0M313 223.9h0M490.8 472.1h0M178.6 225.2h0M406 364.5h0M382.8 472.1h0M259.2 510.6h0M234.6 208.8h0M305.5 185.6h0M407.9 478.4h0M472.4 507.5h0M173.3 436.3h0M344.4 389.5h0M409.4 255.8h0M535.1 363.3h0M363.9 218.3h0M490.1 397.8h0M159.3 420.6h0M428.7 493.1h0M515.2 527.2h0M185.3 538.3h0M289.4 471.7h0M251.3 279.4h0M185.5 552.5h0M178.4 426.6h0M177.8 539.1h0M468.2 475.2h0M303.9 235.6h0M259.2 514.5h0M514.5 533.6h0M273.4 402.9h0M349 422.5h0M254.5 404h0M357.6 485.2h0M441.7 450.7h0M286.6 486.3h0M197.2 468.6h0M427.5 519.8h0M488.4 307h0M395.2 436.1h0M451.1 291h0M341.6 492.6h0M505.4 310.8h0M271.6 286h0M388.7 235.9h0M167.1 265.5h0M415.8 266.1h0M199.5 402.8h0M398.2 351.1h0M248.1 466.9h0M208.8 287.3h0M367.4 279.1h0M493.1 270.6h0M245.4 320.2h0M219 534.8h0M187.1 500.9h0M249.8 446.1h0M327.1 436.3h0M178.2 502h0M479.2 408.8h0M520 290.3h0M495 450.7h0M360.9 247.4h0M424.3 531.9h0M226 222.9h0M151.3 500h0M485 476.1h0M207.9 464.6h0M232.8 456.4h0M513.6 466.5h0M263.3 287.5h0M321.2 362.7h0M202.7 425.5h0M272.7 477.5h0M479.8 259.5h0M464.9 211h0M441.2 222.1h0M482 521.2h0M521.2 227.1h0M532 451.7h0M435.1 551.1h0M209.8 311.4h0M500.5 199.6h0M431 529.3h0M253.4 437.2h0M270.3 516.3h0M236.1 197.1h0M198.7 500.4h0M371 189.5h0M290 396.1h0M220.9 439.8h0M532.4 238.1h0M225.7 558.8h0M233.7 286.1h0M176.1 440.6h0M276.2 259.2h0M320.3 314.6h0M392.6 332h0M449.4 430.3h0M474.6 190.2h0M346.2 273.7h0M519.5 461.1h0M439.8 472.7h0M259.7 547.4h0M156.1 445.1h0M283.9 332.6h0M522.7 234.4h0M433 342.5h0M473.3 482.9h0M215.3 446.7h0M531.6 524.6h0M329.6 492.3h0M330.3 270h0M272.6 195.2h0M465.3 434.7h0M199.9 366.4h0M173.9 554.3h0M424.5 557.1h0M455.7 342h0M209.4 367.6h0M498.7 469.6h0M366.7 438.6h0M501.9 252.7h0M233.9 204h0M241.9 409.5h0M217.7 300.3h0M420.9 352.9h0M235.8 225.5h0M296.7 556.9h0M284.6 298h0M433.2 247.5h0M453.8 453.8h0M285.8 384.7h0M350 512.9h0M360.6 279.5h0M515.6 452.8h0M350.1 243.4h0M464.3 267.2h0M327.2 379.2h0M258.7 351.2h0M322.8 219h0M306.8 514.3h0M435.5 502.9h0M172.7 504.8h0M469.6 479.6h0M157.1 293.5h0M218.8 354.9h0M306.9 351.4h0M199.8 425.1h0M302.6 486.1h0M233.4 280.4h0M371.8 288.7h0M316.8 476h0M311.5 241.7h0M213.6 383.8h0M238.7 330.1h0M337.9 510.8h0M242.3 437.2h0M245 221.1h0M362.2 542.1h0M202.1 244.7h0M161.1 190.6h0M461.1 536.7h0M339.5 394.4h0M488.8 400.1h0M239.4 490.6h0M297.8 250.1h0M181.8 540.9h0M212.4 306.7h0M448.4 402.3h0M231.1 430.5h0M314.3 446.8h0M254.8 481.3h0M326.3 363.6h0M287.8 536.1h0M479.3 248.6h0M509.5 255.6h0M382.3 302h0M536.9 355.7h0M331 248.7h0M440.8 249.5h0M314.8 420.2h0M267 373.3h0M458.8 380.1h0M285.6 471.7h0M311.6 499.8h0M233.7 339.4h0M436.7 446.5h0M305.2 250.7h0M305.2 354.8h0M166.3 497.5h0M317.8 232.7h0M330.7 458.2h0M475 446.5h0M268.1 538.3h0M452 186.1h0M238.5 430.4h0M350.3 232.4h0M331 383.9h0M254.1 367.4h0M499.9 505.5h0M428 360h0M516.4 241.5h0M497.3 520.7h0M422.4 226.9h0M230.5 264.3h0M198.2 254.6h0M480.3 441.1h0M194.1 363.6h0M211.8 493h0M285 509.2h0M291 308.7h0M258.5 222.2h0M301.7 221.8h0M326.2 533.8h0M306.2 305.8h0M319.3 332.5h0M174.4 274.3h0M258.7 561.4h0M338.2 216.9h0M226 404.3h0M474.1 409.5h0M382.4 409.6h0M326.7 343.9h0M460.3 359h0M390.4 551.6h0M245.3 532.9h0M291.1 458h0M449.6 347.6h0M241.9 220.6h0M152.3 333.6h0M513.5 386.8h0M220.9 256.1h0M376 262.9h0M252.5 473.5h0M303.4 487.9h0M277.7 380h0M396.8 218.1h0M477.8 234.7h0M462.8 277.9h0M316.1 326.2h0M359.1 325.4h0M524.8 375.6h0M489.9 525.1h0M214.1 500.4h0M443.9 477.6h0M438.3 265.4h0M525.3 349.3h0M294.6 209.2h0M507.1 250.6h0M523.9 539.9h0M335 550.7h0M328.9 427.4h0M496.7 246h0M262.8 378.3h0M430.1 422.3h0M329.4 509.2h0M203.1 343.7h0M247.4 513.7h0M535.3 249.2h0M227.7 453.2h0M186.1 364.8h0M199 314.6h0M189.1 304.5h0M275.9 436.3h0M461.3 286h0M187.3 321.1h0M329.5 376.1h0M498.5 298.4h0M456.8 492.1h0M219 210h0M283.5 410.7h0M239.4 262h0M503.3 478.9h0M488.3 534.2h0M291.6 553.3h0M243.6 339.9h0M500 195.7h0M398.6 444.7h0"/><path d="M505.7 261.5h0M326.3 430.5h0M425.3 209.2h0M451.5 470.6h0M318.7 409.8h0M216.7 430.7h0M283.5 200h0M398.7 360.6h0M205.8 221.4h0M182.2 375.8h0M463.6 349.4h0M422.8 474.5h0M240.2 529.6h0M162.7 206.5h0M373.1 447.8h0M237.7 399.8h0M252.6 449h0M257.3 453.3h0M484 255.6h0M497.9 407.2h0M153.1 552.8h0M310.3 193.1h0M282.6 423.1h0M346.2 508.4h0M393.4 351.7h0M245.7 335.2h0M260.8 271.6h0M283.2 462.8h0M295.8 503h0M435.9 348.8h0M242.2 224.1h0M459.1 239.4h0M254.9 527.1h0M245.7 429.6h0M270.6 251.8h0M446.3 197.7h0M251.7 540.2h0M283.8 543h0M215.8 417.2h0M322.5 447.3h0M191.3 250.7h0M203.1 268.4h0M242.2 220.5h0M339.7 454.5h0M218 307.6h0M451.4 448.9h0M513.5 376.1h0M169.6 421.9h0M188.2 244.2h0M203.9 545.5h0M430.4 441.2h0M468.7 277.6h0M378.5 244.9h0M496 251.9h0M319.2 316h0M237.2 289.4h0M369.8 558h0M232.9 319.6h0M168.2 426.9h0M399.6 556.2h0M229 486.1h0M239.7 429h0M290.2 534.2h0M253.8 327.6h0M186.8 560.1h0M426.5 228h0M324.7 385.5h0M425 346.8h0M509.7 538.8h0M487.8 391.7h0M491.5 282h0M345.8 474.8h0M198.2 557.8h0M187.4 415.6h0M183.5 525.7h0M412.7 459.1h0M513.2 562.8h0M468.9 228.2h0M185.7 488.1h0M414.5 258.2h0M439.2 397.9h0M234.8 561.5h0M438.5 244.1h0M217 314.2h0M525 274h0M373.1 342.5h0M164.1 382.3h0M229.4 322.1h0M255 260.4h0M463.9 419.1h0M314.9 518.7h0M274.8 547.1h0M467.3 522.3h0M335.9 491.5h0M232.6 366.1h0M332.4 261.6h0M326.6 217.3h0M231.7 203h0M442.8 478.7h0M410.7 357.9h0M437.4 554.2h0M289.9 273.7h0M254.1 238.3h0M392.2 228.4h0M248.3 448.6h0M494.2 497h0M183.5 291.4h0M263.8 503h0M346.1 333.8h0M515.5 545.5h0M220.8 403.7h0M281.9 279.3h0M386.6 211.1h0M302.3 446.2h0M293.4 356.6h0M465 196.8h0M191 525.6h0M435.8 187.9h0M465.7 310.6h0M465.1 515h0M388.7 319.9h0M262.5 468.8h0M315.1 361.9h0M394.9 213.1h0M242.8 386.2h0M496.6 358.6h0M424.1 548h0M507.9 426h0M368.6 518h0M332.9 238.4h0M273.6 523.5h0M295.1 470.4h0M479 250.7h0M284.3 551.7h0M260.8 508.5h0M202.9 339.1h0M238 380.9h0M526.7 446.7h0M522.3 324.9h0M502.8 375.7h0M478.7 360.1h0M342.3 430.1h0M173.2 283.2h0M307 284.8h0M190.4 216.1h0M264 261.2h0M312.8 312.1h0M338.9 518.6h0M225.7 217h0M419.3 415.8h0M239.3 334.9h0M254.6 366.3h0M531.9 452.4h0M151.4 504.6h0M417.5 379.4h0M376.4 539.7h0M495.4 444.8h0M150.5 235.4h0M460.7 378.8h0M388.6 261.9h0M381.3 428.8h0M165.3 549.3h0M227.3 476.1h0M452.9 215.6h0M153.6 525h0M170.6 239.5h0M152.8 333h0M277 324.7h0M386.7 301.5h0M298.8 517.8h0M307 486.6h0M167.4 542.1h0M456.5 368.7h0M397.4 429.2h0M402.7 474.6h0M195.8 458h0M429.8 207.7h0M220.1 226.9h0M212.2 379.5h0M429.5 349.9h0M417.6 438.6h0M445.2 337.3h0M489.1 548.2h0M393.6 513.7h0M340.8 372.5h0M295.1 309.6h0M280.2 538.4h0M163.1 300.4h0M367.3 188.5h0M351.9 514.3h0M227.7 197.7h0M157.9 508.9h0M156.9 533.2h0M413 313.4h0M432.6 196.9h0M371.7 263.1h0M181.8 534.8h0M335.9 223.3h0M282.6 416.8h0M253.1 405.2h0M503 561.7h0M451.3 299.2h0M321.9 197.8h0M227.7 253.4h0M268.8 341.8h0M272 541.2h0M485.9 458h0M311.8 537.2h0M432.3 483.6h0M431.9 531.8h0M299.3 461.3h0M435.8 435.6h0M369.9 398.6h0M279.8 496.7h0M307.2 361.1h0M383.9 297.8h0M319.8 359.2h0M218.7 392.4h0M309.7 326.7h0M392.7 380.4h0M411.5 329.3h0M345.7 372.1h0M214.9 188.7h0M362.2 551.6h0M241.3 371.6h0M179.7 371.2h0M301.8 558.3h0M199.3 560.7h0M214.2 333h0M477.8 514.2h0M232.4 525.3h0M507.4 519.2h0M224.2 244.9h0M346.9 467.1h0M411.6 188.7h0M428.1 287.3h0M192.9 326.7h0M477.4 207.3h0M292.5 350.1h0M171.1 446h0M319.7 505.3h0M427.9 208.8h0M173 422.1h0M451.8 332h0M158.7 200h0M401.4 394.5h0M433.6 235.9h0M173.4 461.8h0M176.9 431.8h0M445.5 219.6h0M447.9 203.1h0M244.1 365.9h0M461.2 530.4h0M155.1 267.5h0M184.4 239.7h0M263.1 310.1h0M226.4 310.9h0M327.3 456.7h0M296.3 374h0M392.4 384.3h0M481.5 546.6h0M503 458h0M377.2 339h0M390.8 479.2h0M393 423.2h0M246.4 455.5h0M194 291.2h0M496.3 465.7h0M257.9 392.1h0M272.6 308.9h0M424.7 200.7h0M193.7 495.5h0M258.6 331.4h0M252.4 347.7h0M276.9 407h0M410.7 415.9h0M198.5 196.4h0M366.4 501h0M175.9 293.4h0M163.4 273.8h0M256.4 342.3h0M334.8 462.7h0M505.2 189.8h0M255.9 465.4h0M440 289.4h0M421.8 484.4h0M319.8 269.6h0M224.9 401.3h0M440.2 332.3h0M355 309.9h0M383.3 429.5h0M357.3 439.8h0M289.8 361.4h0M357.9 406.7h0M202.8 293.2h0M498.5 277.8h0M269.8 191.6h0M421.3 493h0M201.3 537.4h0M497.4 298.3h0M317.8 351.4h0M185.1 192h0M307.1 511.2h0M249.2 513.2h0M376 302h0M217.7 436.1h0M215.3 293.9h0M422.4 562.8h0M341.2 299.5h0M501.9 243.9h0M342.3 338.4h0M319.9 412.9h0M523.3 545.4h0M264.6 470.4h0M277.5 335.4h0M261.6 411.6h0M510.9 523.4h0M521.1 507.1h0M271.9 313.9h0M180.9 551h0M487.9 279.2h0M422.7 471.9h0M279.1 412.3h0M180.1 470.7h0M446.3 509.8h0M290 410.7h0M458 370.7h0M384 235.1h0M347.8 204h0M261.3 268.8h0M161.6 494.4h0M241.2 534.1h0M430.3 208.4h0M520.6 277.5h0M294.7 231.9h0M429.4 557h0M225.9 315h0M299.4 270.7h0M476.2 383.8h0M377.3 317.7h0M302.5 219.9h0M384.4 533.7h0M476.7 472.1h0M374.9 316.9h0M427 374.2h0M200.8 195.1h0M389.2 550.1h0M255.1 453.5h0M296.2 487.3h0M299.4 405.6h0M338.8 350.5h0M467.1 202h0M195.9 197.3h0M247.4 270.4h0M412.2 470h0M272.6 472.5h0M375.7 495.2h0M380.9 257.7h0M500.7 411.9h0M534.4 261.3h0M269.4 193.3h0M351.5 383.1h0M484.8 406.7h0M218.6 300h0M184.1 373.9h0M318.7 521.5h0M423.6 268.2h0M529 235.1h0M404.1 264.7h0M486.6 268.3h0M172 513.2h0M419.8 247.4h0M490.8 195.2h0M262.2 301.6h0M221 298.4h0M426.8 417.2h0M494.5 366.2h0M358.2 317.1h0M476.3 273.9h0M217.6 555.2h0M496.7 348.8h0M379.3 529.7h0M513.3 346.8h0M279.7 472.9h0M373 426.5h0M495.9 313.1h0M425.6 453.6h0M367.1 327.9h0M470.8 481.9h0M289.6 483.6h0M244.9 379.9h0M314.6 512.3h0M253.7 274.1h0M432 444.6h0M344.3 533.6h0M193.3 195h0M199.2 296.7h0M211.7 545.8h0M488.6 469.6h0M387.7 228.3h0M151 213.3h0M296.5 538.6h0M215.1 271.7h0M301.1 287.2h0M297.4 236.8h0M511 399.4h0M179.2 482h0M457.3 197.3h0M212.2 281.3h0M445.4 365.2h0M298.9 240.3h0M513.5 290.1h0M177.4 430.5h0M492.8 267.5h0M256.6 322.6h0M503.9 180.4h0M420.2 435.2h0M346.3 363.1h0M429.8 411.8h0M434.2 196.1h0M403.3 196h0M252.9 218.8h0M347.8 416.4h0M448.1 208.3h0M434.4 386h0M221.5 473h0M285.9 358.2h0M462.5 455.6h0M179.9 482.1h0M433 415.9h0M463.9 218.8h0M174.1 429.3h0M395.8 304.7h0M274.6 284.6h0M348 537.6h0M227.2 511.2h0M489.3 441.1h0M280.2 458.9h0M163.8 537.9h0M170.4 561.8h0M478.3 286.6h0M152 234.8h0M423.9 203.9h0"/><path d="M501.9 548.3h0M256.4 374.4h0M213 342.4h0M369.7 380.5h0M278.8 453.8h0M155.9 563.1h0M207.2 505.7h0M520.3 484.7h0M327.3 284.3h0M199.7 226.7h0M419.4 492.9h0M247.8 328.2h0M505.9 512.3h0M421.3 291.4h0M463.3 227.3h0M261.5 350.3h0M483 437.8h0M415 456.9h0M454.3 312.4h0M482.1 307.9h0M270.4 204.4h0M254.4 210.4h0M398.7 244.3h0M349.9 367.2h0M289.4 365.4h0M228.3 297.3h0M389 194.1h0M422.6 196h0M478.3 261.8h0M389.4 551.5h0M455.9 337.3h0M362.6 325h0M271 518.1h0M448.7 327.5h0M525.9 217.9h0M394.5 281h0M231 258.6h0M226.4 473.5h0M196.9 499.1h0M267.8 473.7h0M388.7 471.2h0M330.7 434.3h0M473.8 316.8h0M506.9 519.8h0M277.2 522.7h0M322 386.5h0M387 263.7h0M312.2 376.8h0M475.7 513.3h0M292.8 198.9h0M446.1 414.8h0M189.6 318h0M425.9 450.9h0M409.5 511.1h0M258.4 314.7h0M443.5 358.9h0M270.9 454.3h0M396 533.3h0M234 384.6h0M213.4 280.5h0M465.1 387.8h0M503.7 416.9h0M234.9 509.8h0M495.6 436.3h0M326.6 349.1h0M383.5 521.3h0M166.9 392.7h0M339.6 529.4h0M154.1 215.4h0M467.7 379.5h0M467.3 383.4h0M345 386.1h0M345.8 223.2h0M444.4 312.2h0M406.3 276.7h0M322.5 459h0M245.6 420.2h0M200.9 204.8h0M182.4 546h0M182.4 284.3h0M403.2 216.2h0M450.5 439.8h0M320.8 188.4h0M226.8 529.1h0M167.8 384.4h0M223.9 508.2h0M362 188.5h0M171.3 206.2h0M468.7 513.5h0M334 485.7h0M472 302.6h0M235.8 248.3h0M383 378.8h0M323.2 269.1h0M481.4 206.5h0M491.4 404.3h0M402.4 501.1h0M295.8 272h0M395.3 307.8h0M513.2 433.2h0M396.3 542.8h0M422.1 361.3h0M378.4 198.5h0M531.8 341.1h0M404 416.2h0M497.3 241h0M334.7 437.7h0M335.3 441.9h0M399.6 194.3h0M517 263.9h0M253.2 235h0M413.6 420.2h0M468.5 216h0M278.8 207h0M223.6 357.1h0M516.7 481.8h0M514.8 233.4h0M355.7 326.9h0M375.8 460.6h0M377.7 321.5h0M197.4 563.3h0M446.5 296.7h0M399.5 538.8h0M264.1 516.5h0M343.5 480.1h0M523.8 336.7h0M534.4 517h0M517.4 558.5h0M491 453.6h0M172.2 264.4h0M425.7 543.9h0M171.3 421.6h0M181.6 282.9h0M316.9 344.2h0M295.3 333h0M488.4 262.5h0M478.3 532.2h0M523.2 380.9h0M385 255h0M338.8 368.5h0M532.8 421.6h0M409.8 196.2h0M347.4 445.1h0M227.4 321.6h0M329.6 311.7h0M471.8 319h0M449 419h0M153.2 510.8h0M445.1 315.7h0M330.7 507.9h0M517.5 407.6h0M316.3 347.8h0M511 338.7h0M444 314.7h0M421.8 182.8h0M478.6 539h0M203.3 447.1h0M331.2 509.3h0M182.4 557.6h0M417.8 279h0M177.3 496.4h0M329.3 498.6h0M284.5 523.1h0M465.4 425.1h0M234.9 192.5h0M529.5 519.2h0M371.4 209.5h0M308.9 437.3h0M185.4 298.5h0M480.7 464.1h0M319.1 252.5h0M487.2 209.6h0M325.7 387.3h0M485.2 543.9h0M384.2 367.8h0M423.1 425.2h0M227.6 405.8h0M409.1 423.4h0M288.9 485.2h0M433.9 302.1h0M457.5 506.3h0M408.1 261.5h0M465.1 381.5h0M529.4 444.6h0M408.7 351.8h0M208.3 292.9h0M461.6 361.9h0M521.5 419.9h0M279.3 372.3h0M167.9 477.6h0M455.5 403.9h0M157.2 535.8h0M363 528.4h0M301.9 339h0M226.2 277.1h0M247.2 416h0M522.3 462.9h0M409.9 529.7h0M462.3 556.6h0M396.8 237.9h0M189.1 322.9h0M519.7 486.5h0M299.4 394h0M491.7 407.7h0M495.7 187.9h0M247 296.4h0M372.1 352.3h0M200.7 234.1h0M250.1 209.8h0M322.7 244.2h0M294.5 530.8h0M154.5 393.4h0M302.4 558.8h0M533.9 409.1h0M397.4 412.3h0M353 514.9h0M394.8 316.3h0M227.3 349.8h0M240.5 405.4h0M406.9 450.1h0M439.4 277.4h0M232.4 564h0M454.3 563.1h0M521 328.6h0M322.5 425.8h0M174.3 292.2h0M212.6 230.8h0M416.6 424.6h0M170.2 217.5h0M269.7 500.7h0M533.8 450.9h0M400.1 281.3h0M470.1 435h0M187.2 458h0M375 398.1h0M469.2 551.5h0M240.4 525h0M305.1 459h0M382.3 279.6h0M365.8 531.3h0M241 296.1h0M214.6 211.7h0M300.3 520.6h0M251.2 454.8h0M261.4 359h0M236.6 499h0M162.6 398.3h0M212 425.1h0M419.3 559.8h0M509.7 517.6h0M179.3 206.3h0M491.7 525.3h0M373.9 293h0M441.8 218.7h0M311.6 330.6h0M445.6 551h0M340.6 321.6h0M394.9 435.9h0M297.9 523h0M350.6 237.6h0M154 424.3h0M497.2 194.6h0M492.5 260.2h0M334.7 466.7h0M197.8 439.9h0M329.6 335.2h0M170.8 242.7h0M511.2 418.8h0M336.5 514.7h0M448.8 191.9h0M377.3 427.2h0M231.4 339.8h0M345.3 316.1h0M399.9 552.2h0M322.9 205.8h0M446.4 484.3h0M514.4 428.2h0M372.2 414.9h0M217.9 549.3h0M431.4 395.1h0M227.5 436.6h0M515.8 355.6h0M162.7 338.9h0M516.3 460.8h0M297.8 404.6h0M296.3 456.4h0M499.4 363.7h0M494 330.9h0M331.1 480.8h0M440.7 311.7h0M474 320.3h0M166.9 545.1h0M259.1 346.3h0M427.1 494.5h0M229 435.8h0M248.8 386.6h0M174.8 442.3h0M334.8 298.3h0M329.9 219h0M156.1 530.9h0M496 269.2h0M403.3 540.9h0M472.2 520.8h0M526.4 395.7h0M306 231.8h0M184.9 295.1h0M380.3 298.6h0M290.3 349.7h0M384.2 444.6h0M497.4 445.7h0M520.9 345h0M233.2 280.7h0M278.8 409.6h0M218.3 469.1h0M470 446.3h0M250.1 201.4h0M324.3 213h0M209.8 209.9h0M422.3 338.8h0M433.9 479.3h0M445.6 494.5h0M208.5 473.8h0M175.5 255.8h0M418.6 350.6h0M486.5 428.8h0M445.2 240.8h0M501.8 467.5h0M303 334.7h0M255.2 409.1h0M282.4 496.4h0M524.1 310h0M339.7 265.7h0M194.7 432.8h0M411.5 531.1h0M389.8 285.7h0M201.4 319.6h0M493.5 416.8h0M206.4 210.8h0M154.5 264.4h0M355.9 508.6h0M372.8 519h0M414.8 229.4h0M245.7 539h0M384.4 326.2h0M376.2 251.7h0M461.6 525.5h0M187.6 281.3h0M485.4 191.1h0M366.7 222.2h0M404.7 526.2h0M511.6 477.4h0M351.7 229.5h0M263 522.3h0M319.8 288.6h0M399.5 463h0M305.2 204.7h0M243 405.7h0M350 460.7h0M252 195.4h0M277.8 479.4h0M294.7 319.5h0M288.1 392.6h0M328.1 521h0M363.9 322.1h0M306.8 216.3h0M332.6 317.4h0M153.8 393.4h0M183.4 250.6h0M533.2 274h0M250 309.1h0M281.2 186.6h0M412.9 227.5h0M445.7 310.8h0M356.6 229.9h0M150.9 374.8h0M306 536.5h0M511.5 421.1h0M514.9 381.6h0M345.4 349.3h0M198.5 513.2h0M292.2 548.4h0M222.9 292.9h0M206 421.7h0M322.8 424.9h0M369.9 468h0M414.3 546h0M488.6 266.7h0M485 404.1h0M263.9 231.8h0M167.7 199.4h0M167.2 221.6h0M295.8 450.6h0M312.2 516.9h0M437.2 409h0M236.9 463.3h0M259.5 379.3h0M202.8 297h0M329.1 552.7h0M268.2 296.2h0M492.1 496.1h0M400.8 312h0M221.3 443.1h0M364.3 427.5h0M157.6 238.8h0M488.2 375.1h0M457.4 206.2h0M394.1 278.6h0M362.4 299.8h0M469.2 220.8h0M348.5 501.6h0M313 305.6h0M276.6 500.3h0M266.9 218.8h0M293.9 532.3h0M515 268.1h0M265.1 293.4h0M351.1 286h0M409.4 277.8h0M343.1 200.8h0M501.6 306.8h0M185.8 250.7h0M342.9 521.9h0M437.9 258.3h0M329.3 235h0M347.1 296.5h0M312.5 211.8h0M345.8 549.4h0M156.5 519h0M152.1 266h0M471.8 249.7h0M483.8 278.2h0M450 443.6h0M312.7 335.5h0M217.2 410.2h0M471.1 541.2h0M460.8 215.1h0M380 270.2h0M418.3 316.8h0M186.4 447h0M253.5 252.6h0M355.2 231h0M175.8 247.9h0M270.9 314.9h0"/><path d="M206.5 514.9h0M331.3 353.4h0M386.6 499h0M413.1 193.4h0M209.9 361.3h0M190.7 319.7h0M225.4 481.7h0M256.5 187.7h0M242.1 332.2h0M507.6 434.2h0M403.3 324.8h0M526.6 490.4h0M532.1 288.7h0M354.4 298h0M368.6 330.1h0M529 403.3h0M417 325.3h0M442.5 513.5h0M424.6 561h0M490.2 294h0M308.3 469.6h0M500.1 499.9h0M162.4 272.5h0M333.2 376.8h0M372.2 234.8h0M477.3 360.3h0M382.9 277.2h0M489.3 334.5h0M334 521.4h0M337.8 411.8h0M398.1 480.1h0M381.5 221.1h0M225.5 446.1h0M464.3 452.7h0M237 504.2h0M254 513.6h0M277.2 378h0M349.4 429.6h0M379.3 489.9h0M191.9 383.8h0M200.1 457.5h0M479 238.5h0M490.8 423.4h0M341.8 356.1h0M338.7 391.7h0M205.2 196.6h0M525.9 366h0M224.2 529.1h0M192.8 551.6h0M513.6 560.5h0M313 368.1h0M412.4 396h0M294.4 213.6h0M245.4 557.6h0M452.7 537.8h0M162.9 320.8h0M171.9 437.7h0M184.7 312.5h0M367.1 557h0M155.4 312.6h0M270 200.5h0M343.1 400.7h0M161.9 273.1h0M222.1 326.1h0M347.7 210.7h0M273.9 481.5h0M187.3 412.6h0M346.2 446.8h0M369.6 195.4h0M178.7 445h0M306.8 310.2h0M493.5 441.9h0M204.9 240h0M254.2 348.1h0M486.7 349.7h0M392.5 212.2h0M319.9 292.3h0M306.1 256.2h0M163.6 371.1h0M483.9 282.4h0M415.8 488.8h0M274.5 229h0M286.2 315.5h0M362.3 477.2h0M381.9 456.1h0M397.2 478h0M228 406.7h0M210.8 287.1h0M350.2 530.5h0M298.3 524h0M405.7 354.3h0M276 358.1h0M219.2 297.4h0M245.3 272.2h0M361.4 558.3h0M273.7 360.3h0M150.7 225.6h0M471.4 346.2h0M393.2 347.9h0M330.2 379.8h0M201.7 514.5h0M515.5 278.8h0M245.6 549.6h0M213.5 444.8h0M373.7 509.4h0M419.6 346.9h0M314.3 522.8h0M356.7 489.7h0M425.3 377.6h0M353.4 227.3h0M331.7 230.9h0M427.1 526.7h0M298.1 274.4h0M520.4 518h0M151.1 537.8h0M362.9 407.7h0M242.2 419.8h0M150.3 459.3h0M384.2 489.6h0M418.5 562.3h0M312.5 484.2h0M528.7 355h0M368.4 475.4h0M295.2 326.5h0M244 561.9h0M240.1 280.1h0M240 444.8h0M458.5 227.9h0M166.1 325.7h0M504 531.7h0M235.3 396.7h0M354.5 266.7h0M155.8 251h0M166.2 338.7h0M263.2 379.6h0M274.4 342.8h0M482.7 461.8h0M433.2 322h0M509.9 250.6h0M262.9 198.5h0M181.4 417.2h0M478 494.5h0M458.1 412.9h0M527.7 361.4h0M159.1 429.3h0M208.5 333.7h0M503.5 500.3h0M264.5 255.8h0M151.2 225h0M226.7 524.9h0M204.9 452.9h0M152.3 267.8h0M334.7 480.3h0M203.1 558.4h0M264.9 559.4h0M204.6 406.1h0M183.3 207.4h0M443 451h0M432.8 341.7h0M430.5 363.3h0M371 249.7h0M312.3 220.7h0M198.8 376.7h0M236.2 416.6h0M527.9 236.9h0M404.9 499.2h0M274.8 394.1h0M332.8 536.9h0M171 347h0M473.4 409h0M172.1 326.3h0M247.6 247h0M466.6 201.6h0M440 400.6h0M308.5 370.2h0M272.7 344.5h0M349.5 449.7h0M189.2 455.4h0M483.6 396h0M237.7 529.1h0M166.7 218.2h0M467.2 546.4h0M412.3 224.4h0M261.7 353.2h0M227.6 263.4h0M531.9 251.8h0M249.7 299.2h0M443.4 265.4h0M292.4 343.9h0M413.5 197.9h0M314.5 282h0M152.2 504.6h0M522.2 560.6h0M299.4 395.6h0M300.3 261.3h0M359.1 240h0M520.1 229.1h0M226.1 332.3h0M385.6 286.2h0M317.9 411.3h0M409.4 352h0M264.2 204.2h0M414.6 311.6h0M435.9 219.3h0M344 272.5h0M187.2 460.3h0M471.7 199.5h0M398.6 436.6h0M470 240.1h0M450.8 394.2h0M406.4 396.9h0M302.8 301h0M300.9 215.7h0M243.4 377.7h0M495.7 515.2h0M500.9 496.3h0M453 383.7h0M215.8 307.8h0M349.2 279.3h0M204.7 311.6h0M304.8 545.3h0M327.8 417.4h0M414.9 276.4h0M225.5 516.3h0M488.6 210.8h0M473.9 210.4h0M277.2 538.4h0M516.1 504.8h0M405.1 470.5h0M179.3 441.5h0M228.2 461.6h0M229.2 296.7h0M252.2 238.5h0M478.7 186.6h0M531 428.2h0M390.8 335.6h0M461.2 534.2h0M381.8 413.5h0M197.9 362.4h0M534.4 312.8h0M517.6 280.2h0M446.8 353.3h0M476 476.3h0M514.2 501.2h0M515.4 318h0M267.2 235.1h0M278.2 480.5h0M369.7 419.7h0M275 439.3h0M199.1 283h0M492 554.6h0M448.2 274.5h0M531.1 550h0M234.6 522.1h0M174.3 531.8h0M154.9 360.8h0M340.7 341.8h0M374.2 500.3h0M331.9 201.2h0M229.4 504h0M493.8 249.5h0M449.4 295.5h0M489.7 348.1h0M353.1 255.2h0M245.1 541h0M436.9 525.8h0M274.3 228.4h0M288.1 561.9h0M511.1 477.2h0M379.4 314.6h0M486.6 250.5h0M241.2 242.1h0M496.1 394.4h0M337.1 433.4h0M329.3 198.2h0M193.5 479.9h0M470.6 198h0M312.5 308.6h0M513.9 475.3h0M265.9 553.1h0M431.8 483.8h0M509.9 240.6h0M265.2 440.2h0M413.7 267.2h0M437.9 293.3h0M278.2 403h0M308.1 301.2h0M418.4 310.9h0M282 495.5h0M468.9 321.7h0M512.1 335.3h0M235.2 271.1h0M333.7 366.2h0M248 299.4h0M482.9 554.6h0M253.6 512.6h0M179.9 240.7h0M335.8 387.3h0M516.9 288h0M151.1 232.4h0M462.1 255.7h0M450.1 371.7h0M349.6 224h0M321.2 353.1h0M370.4 414.7h0M382.6 472.9h0M390.2 191.1h0M300.3 294.6h0M427.5 559.6h0M490.5 465.5h0M512.7 305.4h0M178.4 201.1h0M356.7 336.7h0M403.3 494.6h0M396.7 334.6h0M451.1 304.9h0M475.7 495.1h0M276.4 276.2h0M309.9 482.4h0M252.8 422.5h0M206.2 452.5h0M451.5 557.5h0M478.3 234.6h0M480.4 401.3h0M359 381.4h0M482.5 338.8h0M353.2 423.2h0M264.5 233.2h0M428.2 499.8h0M488.3 556.9h0M245.5 216.1h0M344.3 561.5h0M427.1 396.5h0M473.2 192.2h0M308.3 432.6h0M313.6 229h0M159.9 229.8h0M358.9 368.1h0M184.9 351.1h0M178.5 472h0M516.8 563.1h0M284.5 215.1h0M533.3 419.1h0M378.4 485.5h0M286.7 498.3h0M414.7 218.6h0M440.1 304.5h0M330.9 325.5h0M366.6 224.6h0M525.1 461.4h0M411 456.3h0M156.4 331.2h0M415.2 431.2h0M356.5 380h0M223.5 431.5h0M534.5 426.6h0M532.7 475h0M478.6 427.5h0M216.4 314.7h0M306.4 253.3h0M179 410.2h0M217.3 327h0M464.6 212.4h0M504.2 301h0M183.1 502.4h0M194.3 217.2h0M417.3 524.6h0M476.8 403h0M292.3 496.4h0M386.9 265.6h0M172.1 309.9h0M212.3 494.5h0M446.7 328.6h0M529.2 484.3h0M289.2 218.7h0M164.2 414.5h0M486.8 532.9h0M297.1 187.6h0M293.5 501h0M516.6 349h0M250.9 292.7h0M467 331.8h0M175.7 428.8h0M373 467.4h0M528.7 398.2h0M532.9 234.6h0M427.6 200.6h0M465.3 270.5h0M399 411.7h0M522.3 227h0M346.5 469.4h0M220 279.4h0M325.4 432.4h0M330.1 398.2h0M281.9 291.8h0M524.6 301.1h0M248.6 324h0M429.2 249.4h0M494.8 504.4h0M214.2 433.9h0M172.8 328.8h0M412.8 189.8h0M342.1 388.2h0M265.3 284.2h0M271.4 316.1h0M408.3 214.9h0M505.6 260.1h0M189.7 340.6h0M393.1 207.3h0M229.7 209.1h0M432.7 431.3h0M401.6 509.7h0M150.3 197.3h0M485.1 415.2h0M472.5 200.6h0M291.1 430h0M159.8 326.7h0M270.5 325h0M462 388.4h0M377.1 406.2h0M283.4 411.6h0M227.9 277.7h0M429.1 273.6h0M402.2 510.9h0M164.4 563.6h0M246.8 547h0M481.7 407.7h0M241.3 372.3h0M383.3 484h0M373.2 436.2h0M447.5 499h0M526.6 367.9h0M454.9 452.1h0M386.5 452.2h0M303.8 558h0M414.3 489.1h0M459.2 269.3h0M327 421.3h0M471.7 430.4h0M354.9 321.2h0M282.1 251.8h0M488.1 304h0M269.4 520.1h0"/><path d="M156.9 495.9h0M182.7 400.5h0M155.5 296.3h0M437.5 494.5h0M218.7 200.6h0M203.5 339.6h0M394.3 274h0M406.1 431h0M489.1 333.8h0M174.5 346.4h0M201.5 242.9h0M354.6 339h0M169.1 399.6h0M381.6 517.6h0M192.7 351.8h0M203.6 503.5h0M187.9 364.4h0M474.3 371.8h0M157.1 539.2h0M245.8 258.8h0M207.9 295.6h0M420.5 237.1h0M348 365h0M226.3 298.6h0M191.3 250.7h0M307.3 492h0M304.3 297.1h0M319 305.8h0M237.4 403.7h0M186.4 484.2h0M460.5 195.8h0M372.1 231.7h0M526.6 331.2h0M271.5 317.3h0M442.9 481.2h0M354.8 438.8h0M252.1 338.5h0M155.2 280.1h0M411.5 275.9h0M299.7 304.7h0M354.1 446.6h0M181.1 281.5h0M491 266.5h0M404.7 426.6h0M245 386.1h0M289.3 510.8h0M415.3 255.4h0M161 397.7h0M320.9 298.3h0M486.2 459.5h0M279.7 313.1h0M475.1 294.8h0M401.5 349.3h0M392.7 234.7h0M248.7 490.2h0M451.2 252.1h0M450.9 529.7h0M446.3 353.4h0M276.8 357h0M228.5 476.7h0M474.4 253h0M278 446.7h0M183.5 481.5h0M251.2 190.8h0M172.2 194.2h0M342.4 424.7h0M267.2 467.9h0M336.7 322.2h0M470.1 216.6h0M435.5 455.2h0M194.8 290.4h0M485.1 422.7h0M502.8 256.7h0M420.3 537.4h0M308.5 280.8h0M185.9 514.2h0M421.1 420.4h0M272.1 539h0M468.4 553.6h0M416.6 251.1h0M427.6 284.3h0M402.8 461h0M262.8 312.1h0M312.4 404.3h0M507.5 471.5h0M422.7 502.9h0M455.6 235.7h0M392.7 450.6h0M464.7 399.2h0M256.1 294.9h0M291.9 373.5h0M488.5 451.3h0M226 314.9h0M534.6 480.9h0M424.8 337.8h0M343.8 437.7h0M262.7 348.1h0M519.3 298.9h0M494.2 557.7h0M195.4 497.2h0M495.3 510.9h0M220.1 250h0M267.5 319h0M426.8 384.4h0M445.1 462.8h0M324.6 199.8h0M299.7 485.5h0M175.1 245.1h0M370.2 550.3h0M287.4 323.4h0M492.2 481.3h0M174.6 470.9h0M194 305.7h0M329.4 354.7h0M499.2 321.3h0M484.6 249.7h0M265.5 202.6h0M389 237.2h0M184.4 341.4h0M216.7 499.5h0M503.6 489.5h0M348.7 526.4h0M165.6 523.7h0M284.6 295.1h0M310.1 308.3h0M409 501.8h0M462.5 272h0M212.8 286.3h0M175.7 254.3h0M498.9 472.3h0M262 511h0M490.8 476.8h0M448.3 390.3h0M401.1 399.3h0M324.6 434.7h0M436 561.7h0M513 488.5h0M299.1 270.6h0M377 228.6h0M347.8 516.7h0M249.6 416.5h0M443.2 449.7h0M481.4 322.2h0M351.1 472.9h0M464.2 367.7h0M481.4 268.4h0M278.5 324.1h0M318.8 557.7h0M436.4 432.7h0M502.1 307.7h0M383.8 351.7h0M330 403.3h0M399.2 353.1h0M500.9 185.6h0M517.1 549.9h0M327.8 418.5h0M300.3 339.7h0M216.7 419.8h0M305.5 455.3h0M391.6 192h0M276.4 371.3h0M297.9 290h0M213.5 215.7h0M422.9 221.8h0M212.1 407.8h0M445.7 218.9h0M459.5 248.8h0M423 431.8h0M358.1 435.9h0M379.3 507.6h0M189.5 228.7h0M332 424.6h0M473.2 503.6h0M452.4 360.6h0M242.1 555.5h0M289.5 246.7h0M419.7 403.5h0M420.8 317.5h0M441.4 189.5h0M223.1 563.2h0M508.3 548.6h0M182.6 216.4h0M236.6 388.1h0M467.5 339.8h0M421 209.5h0M194.7 289.7h0M363.5 348h0M221 547.8h0M507.7 360.1h0M226.3 335.1h0M516.6 498h0M472.7 553.6h0M417.6 486.5h0M379.1 271.7h0M277.8 189.3h0M500.5 405.2h0M436.4 230.4h0M391 479.3h0M251.1 501.7h0M458.6 269.9h0M416.8 204.6h0M488.2 323.9h0M281.6 420.2h0M464.1 311.2h0M353.6 450.3h0M164.4 331.8h0M401.4 559.3h0M281.4 544.7h0M494.9 411.1h0M444.1 204.6h0M403.7 277.4h0M313 266.9h0M272.9 496.2h0M166.4 252.2h0M379.2 559.7h0M534.3 489.3h0M530.6 485.5h0M208 341.4h0M357.6 471.8h0M336.1 313.3h0M190.9 490.6h0M324.7 558.8h0M346.8 222.4h0M394.9 519.8h0M279.6 455.6h0M247.7 211.1h0M179.3 293.1h0M321.7 516.6h0M491.5 445.2h0M357.4 433.5h0M434.8 503h0M419.8 368.9h0M399.3 228.2h0M152 396.2h0M432.9 560.3h0M245.7 193.5h0M406.7 360.2h0M272.9 482.8h0M406.3 308h0M515.4 265.6h0M261.6 288.7h0M473.7 385.2h0M273.9 435.2h0M490.9 228.4h0M186.5 251h0M167.1 527.1h0M240.1 255.8h0M460.7 188.1h0M469.1 514.1h0M501.6 481.1h0M297 317.3h0M428.4 421.7h0M519.1 533.1h0M250.1 284.4h0M299.9 345h0M316.6 363.1h0M260.6 513.4h0M243 317.3h0M531.5 506.7h0M517.5 308.1h0M344.5 387.1h0M346.6 358.1h0M300.5 394.9h0M167.7 518.2h0M456.8 263h0M441.7 491.5h0M487.4 358h0M231 306.9h0M150.8 533.5h0M489.4 266.9h0M286 244.3h0M480.5 484.3h0M291.9 260.3h0M287.9 417.3h0M488.4 262.6h0M171.9 260.1h0M230.1 397.8h0M172.3 239.8h0M245.5 454.5h0M386.7 251.4h0M225.4 258.3h0M295 387h0M509 484.2h0M328.9 290.2h0M207.4 355.1h0M375 502.6h0M265.7 413.7h0M295.7 279.7h0M283.4 363h0M190.8 551.9h0M209.6 396.3h0M406.9 186.9h0M361.1 210h0M395.3 499.2h0M202.3 433.7h0M266.9 211.4h0M510.6 492h0M496 452.1h0M499.5 407.9h0M358 535.3h0M277.8 414.7h0M428 203.7h0M405.2 238.6h0M396.6 485.4h0M375.2 345.8h0M351.7 555.9h0M266.6 498.1h0M522.9 342.3h0M430.5 198h0M352.3 526.2h0M469.1 269.8h0M296.1 276.6h0M343.5 369.4h0M422.6 517.2h0M175.2 463.2h0M234.3 390.3h0M498.4 509.8h0M214.6 278h0M374.7 391h0M461.4 192.1h0M152.6 554.2h0M486.1 389.2h0M312.8 364.3h0M324.2 350.4h0M378.5 334.5h0M248.8 332.7h0M406.2 553.7h0M198.4 315.2h0M457.6 415.6h0M261.7 520h0M533.7 270.4h0M249 297.2h0M397 183.9h0M404.3 436.1h0M221.9 487.7h0M190.5 278.4h0M324.1 445.8h0M526.9 373.3h0M514.4 298.4h0M180.9 468.1h0M245.7 232.2h0M237.8 464.2h0M432.5 306h0M153.6 471.4h0M428.3 241.4h0M184 412.4h0M460.3 181.3h0M159.6 255.2h0M264.1 387.3h0M330.9 497.1h0M363.6 370.9h0M531.9 282.6h0M246.2 496h0M347.4 264.4h0M200.3 500h0M176.5 240.1h0M405.4 456.1h0M156.1 544.2h0M227.7 253.3h0M247.6 276.1h0M216 556.9h0M332.8 199.7h0M490.3 364.1h0M379.5 196h0M182.5 308.5h0M201.9 396.1h0M501 281.1h0M215.6 561.1h0M520.1 442.5h0M338.8 245.7h0M319.1 239.6h0M165.2 445.4h0M201 458.9h0M165 329.2h0M436.9 499.4h0M232.7 393.9h0M474.8 512.8h0M373.3 539.3h0M410.1 366.5h0M258.4 511.1h0M491.9 510.3h0M179.1 481.6h0M258.1 358.8h0M495.1 416.1h0M444.8 358.8h0M467.9 318.8h0M224 529.2h0M222.4 373.8h0M247.3 475.6h0M461.9 497.5h0M344.3 512.8h0M203.2 449.3h0M296.8 559.1h0M189.3 487.2h0M270.7 277.6h0M269.7 470.2h0M491.6 274.3h0M471.3 496.5h0M349.4 431.5h0M393.3 503.4h0M523.5 297h0M248.2 405.3h0M534.4 299.7h0M461.4 436.3h0M326.6 346.7h0M459.3 473.5h0M441.7 520.7h0M477.6 191h0M441.8 303.4h0M498.1 229h0M208.7 226.1h0M359.8 233.3h0M531.5 316.4h0M172 432.3h0M177.1 533.6h0M432.9 472.6h0M221 256.1h0M324.1 349h0M435.7 389.7h0M164.9 366.2h0M399.1 447.5h0M285.9 347.6h0M319.9 459.4h0M221.6 379.4h0M423.8 239.9h0M325.8 474.6h0M466.6 299.1h0M291.2 494h0M403.2 296.3h0M361.4 357.2h0M318.8 487.9h0M249.6 547.2h0M169.1 236.7h0M471.5 510.7h0M451.2 406.7h0M308.7 475.6h0M231 399.6h0M321.4 238.9h0M533 390.8h0M501.8 549.6h0M313.6 210.8h0M484.1 201.1h0M442.1 497.2h0"/><path d="M369.1 527h0M454.1 387.1h0M476.6 200.7h0M516.6 477h0M418.6 357.7h0M402.1 329.5h0M329 519.2h0M453.1 421.9h0M251.6 202.4h0M339.8 459.3h0M176.2 254.4h0M275.9 318.8h0M168.2 216.4h0M482.7 346.5h0M190.9 535.9h0M494.5 514.7h0M193 539.6h0M362.7 400h0M471.2 225.6h0M485.6 429.7h0M466.6 502.1h0M331.6 471.6h0M259.2 360.8h0M310.6 321.8h0M342.4 337.8h0M507.7 227.5h0M491.2 340.3h0M292.7 401.5h0M419 293.6h0M346.5 301.3h0M300.7 405.7h0M535.3 234.6h0M396.6 325.7h0M488.2 203.3h0M357.7 406.4h0M528.1 490.7h0M445 208.7h0M537.9 297.4h0M273.3 265.1h0M367.6 329.7h0M437.2 299.5h0M245.4 251.4h0M404.9 489.8h0M195.9 382.2h0M413.4 315.3h0M421.5 196.9h0M235.6 305.8h0M341.9 277.9h0M266.8 430.5h0M372.1 488.3h0M250.5 225.9h0M222.3 449.1h0M218.6 366.7h0M270.7 546.1h0M249.2 485.1h0M369.6 292.6h0M251.7 208.7h0M418.9 470.9h0M409.8 309.5h0M387.8 393.5h0M505.8 263.2h0M450.9 399.1h0M197.6 406.9h0M198.5 554.2h0M460.4 505.8h0M319.4 502.4h0M448.4 560.5h0M171 522.1h0M501.6 376.6h0M378.4 316.5h0M312 244.5h0M539.3 514.3h0M441.1 540.5h0M248.7 503.7h0M522.1 458.2h0M533.4 199.7h0M235.4 479.2h0M349.2 384.1h0M439.3 214.9h0M365.2 420.5h0M375.8 520.5h0M466.6 496.8h0M414.8 478.5h0M461 430.3h0M202.8 322.5h0M204.3 548.6h0M523.4 262.1h0M397.2 434.7h0M190 315.5h0M411.3 541.1h0M271 319.1h0M410 217.4h0M169.5 511.4h0M277.2 509.9h0M378 407.4h0M358 298.6h0M364.8 444.2h0M459.7 295.7h0M253.1 503.2h0M250.3 469.2h0M531.7 464.5h0M510.7 417.2h0M151.4 217.9h0M321.6 440.7h0M232.2 558.3h0M373.4 282.7h0M514.4 247.3h0M168 441.3h0M494.3 510.3h0M498.8 202.2h0M439.1 318.9h0M214 459.7h0M253.2 432h0M348.5 367.2h0M408.7 494.1h0M332.8 467.2h0M279.3 211.7h0M229.9 428.6h0M263.9 512h0M480.8 501.2h0M347.5 254.6h0M528.3 401.3h0M180.9 441.7h0M299 412.1h0M160.2 212.8h0M502.7 328.7h0M260.3 279.7h0M392.9 444.5h0M320.1 356.7h0M299.4 264.5h0M494.2 505.5h0M502.7 536.3h0M183.2 374.4h0M305.5 221.7h0M348.4 215.3h0M169.8 522.2h0M237.3 421.1h0M496.7 487.9h0M480.7 538.7h0M260.2 207h0M483.2 514.4h0M156 529.1h0M510.7 240h0M530.2 332h0M152.2 420.8h0M384.2 229.6h0M379.9 441.6h0M421.7 496.9h0M203.4 341.6h0M229.5 300.2h0M266.3 382.7h0M356.7 550h0M196.1 372.4h0M313.4 536h0M503 307.9h0M357 562.1h0M253.2 214.3h0M240.1 306.3h0M517.1 422.8h0M366.6 448.4h0M479.5 293.7h0M308.6 408.5h0M469 223.9h0M264.5 455.4h0M495.4 345.5h0M254.1 227h0M417 185.5h0M341.8 529h0M212.3 468h0M518.7 362.1h0M411.3 542.3h0M292.9 545.8h0M318.7 199.3h0M512.3 318.2h0M319.6 299.9h0M418.3 546.6h0M191.2 342.9h0M177.3 278.2h0M213.9 469.4h0M380.6 536.9h0M363.1 536.8h0M470.9 369.6h0M158.6 428.4h0M375.4 444.9h0M440.1 267.2h0M249.2 220.3h0M196.7 365.1h0M514.2 226.7h0M267.8 437.2h0M203.2 546.9h0M431.5 344.2h0M306.3 481.9h0M440.6 259.6h0M166.2 543.4h0M478.2 268.6h0M279.2 255.1h0M441.9 270.2h0M460.6 192.3h0M154.9 406.6h0M227.5 332.8h0M443.4 404h0M157.8 365.6h0M244.9 371h0M223.2 526.2h0M278.4 206.6h0M230.6 541.7h0M251.8 289.4h0M243.8 431.9h0M294.3 242.1h0M474.9 510.8h0M405.4 527.9h0M166.1 328.3h0M315.6 238.3h0M479.6 220h0M168.5 436.6h0M400.9 400.3h0M175.4 220.9h0M492.8 296.1h0M320.3 543.9h0M233 545.2h0M256.7 557.2h0M270.6 343.7h0M505.4 298.7h0M235.8 332.3h0M316.1 192.9h0M261.1 194.2h0M338.3 289.2h0M284.2 257.3h0M176.4 212.2h0M429.2 443.6h0M181.6 329.4h0M226.9 456.2h0M294.6 418.7h0M472.7 181.7h0M220.9 534h0M371.7 204.2h0M318.4 224.8h0M279.8 320.6h0M226.2 551.3h0M380.6 502.2h0M412.4 397h0M267.7 325.5h0M392.6 350.6h0M382.2 469.8h0M360.8 384.1h0M189.9 485.6h0M250.4 404.8h0M425.3 526.7h0M410.3 306.5h0M537.4 420.1h0M310.4 519.3h0M310.7 393.7h0M181.9 193.9h0M354.8 448.9h0M511 541.5h0M482.3 289.3h0M333.9 332.9h0M154.7 541.3h0M523.1 292.2h0M507.2 304.8h0M197.7 550.6h0M209.1 406.2h0M386 203.4h0M361 290.6h0M380.6 218.7h0M227.4 340.6h0M249.5 536.5h0M282.3 471.3h0M510.5 334.7h0M445.9 463.4h0M339.5 332.1h0M390 434.7h0M455 499.8h0M534 434.2h0M352.9 542.6h0M328.3 433.3h0M207.3 332.1h0M268 291.7h0M345 482.4h0M414.6 508.3h0M197.5 240.6h0M241.5 458.1h0M459.6 296.1h0M257.3 512.8h0M441.3 463.8h0M228.1 253.1h0M188.2 195.7h0M338.6 220.6h0M220.2 187.4h0M278.7 428.1h0M455.5 276.4h0M360.1 547.7h0M281.4 421h0M326.4 335.9h0M315.3 203.3h0M395.2 411.1h0M403.1 547.6h0M155.1 320.2h0M265.8 464.6h0M301.3 215.8h0M209.5 199.4h0M410.8 196h0M269.9 473.7h0M293.7 490.5h0M259.7 253h0M213.6 202.3h0M275.7 364.1h0M385.1 468.9h0M204.4 251.9h0M503.2 247.7h0M343.5 528.3h0M389.1 261.3h0M465.8 497.7h0M266.8 457.6h0M340.6 207.6h0M198.1 487.6h0M392.2 470.4h0M353.1 474.9h0M248.3 460.5h0M391.6 346.7h0M518.3 543.4h0M207.1 518.1h0M521.1 346.1h0M151.4 551.5h0M226 339h0M300.4 379.7h0M187.2 503.6h0M177.7 313.6h0M491.6 313.3h0M355.4 541.7h0M402.1 547.8h0M418.3 387.3h0M433.2 186.9h0M176.6 518.8h0M357.5 312.3h0M428.1 231.4h0M407.3 523.8h0M467.9 310.7h0M530.2 394.6h0M203.1 432.1h0M477.1 259.1h0M461.6 527.6h0M507.8 253.1h0M225.1 447h0M533.4 270.1h0M204.7 417.2h0M178.3 359.6h0M383.6 431.8h0M531.9 317.1h0M340.4 437h0M295.1 497.8h0M292.1 407.1h0M524.8 321.3h0M211.9 200.4h0M244.3 558.3h0M196 206.8h0M403 382.2h0M447.2 537h0M491.7 399.1h0M506.2 189.3h0M321 542.3h0M293.4 294.6h0M315.8 425.1h0M425.6 278h0M180 490.4h0M513.3 234h0M469.5 401.9h0M398.1 227.9h0M529.3 406.8h0M212 269.8h0M382.5 222.2h0M478.2 428.1h0M478.3 380.7h0M511.1 264.5h0M335.4 424.3h0M335 310.3h0M454 266.5h0M236.8 234.4h0M369.1 215.5h0M380.6 347.4h0M321.5 511.1h0M376.4 326.7h0M196.4 195.6h0M219.1 398.9h0M177.3 210.7h0M286.9 446.4h0M335.4 296.4h0M454.5 426.2h0M276.9 471.7h0M258.3 287.9h0M392.7 444.1h0M462.8 311.9h0M332.9 319h0M222.1 468.6h0M378.7 439h0M174.4 533.9h0M350.9 322.8h0M228.9 239.1h0M282 455.8h0M274.6 326.4h0M320.1 384.8h0M501 464.2h0M231.9 499h0M235.5 539.4h0M279.2 272.7h0M204.1 342.3h0M313.6 436h0M527.6 539.9h0M260.4 344.2h0M338.7 368h0M321.3 462.3h0M478.8 521.1h0M438.5 399.4h0M252.3 234.9h0M183.3 348.5h0M357.7 451.8h0M312 326.7h0M220.8 543.1h0M287.4 240.7h0M470.5 425.2h0M257.4 503.5h0M493.7 300.1h0M219.2 334h0M441.7 427.4h0M243.1 297.8h0M255.6 494.5h0M383.5 539.8h0M403.5 456.8h0M373.4 366.1h0M412.7 315.5h0M225.1 557.8h0M529.8 344.7h0M505.9 297.4h0M505.3 498.4h0M208.2 538.8h0M458 200.2h0M364.7 221.7h0M484.4 408.6h0M340.7 384.6h0M212.1 415.1h0M528.6 470.2h0M226.3 504h0M474.8 492.7h0"/></g><g fill="none" stroke="#000" stroke-opacity="0.27" stroke-width="3.2" stroke-linecap="round"><path d="M564 150.3h0M572.1 144h0M568 148h0M536.2 179.4h0M551.9 164.2h0M559.8 157.9h0M542.7 174.2h0M562.8 152.2h0M527.6 179.2h0M559.5 158.7h0M553.7 163.8h0M543.6 173h0M552.7 165.5h0M553.8 161.9h0M564.9 151.2h0M546.3 171.5h0M535.9 180h0M546.3 170.6h0M462 256.4h0M560.8 154.2h0M566.6 149.4h0M552.9 162.6h0M549.9 166.8h0M549 164.3h0M561.8 155.4h0M559.1 157.3h0M562.4 157.1h0M567.7 150.2h0M499.7 231.1h0M542.3 175.3h0M541.8 175.8h0M561.8 154h0M566.8 151.2h0M554.3 162.4h0M552.2 166.3h0M523 176.6h0M539.6 177.4h0M536.4 178.3h0M533.4 184.3h0M565.6 151.4h0M562.9 155.8h0M571.6 144h0M503.4 215.6h0M546.5 170.9h0M555.9 161.6h0M552.6 163.2h0M547.3 169.7h0M570.4 148h0M564.3 152.7h0M558.4 157.3h0M557.8 159.3h0M560.3 157.8h0M559.2 157.6h0M563.1 154.9h0M540.5 177.9h0M570.4 146.2h0M523.2 204.8h0M571.3 146.1h0M536 180.2h0M561.6 153.6h0M544.1 172.8h0M534 181.6h0M546.6 168.8h0M541.6 176.2h0M556.3 163.5h0"/><path d="M555.4 156.1h0M547 169.8h0M558.9 158.8h0M481.2 224h0M540.5 177.8h0M559.9 157h0M553.9 161h0M558.5 157.6h0M537.1 179.1h0M559.8 158.2h0M524.6 194.8h0M553.9 161.6h0M565.2 153.2h0M560.3 155.8h0M555.9 164.1h0M545.9 170.2h0M565.8 152.6h0M558.9 157.7h0M545.3 191.7h0M566.6 148.9h0M556.1 160.7h0M561.1 154.8h0M548.4 166.3h0M549.6 166.2h0M545.7 170.2h0M535.1 178.3h0M506.5 215.5h0M550.2 167.5h0M560.6 158.1h0M565.3 154.1h0M568.1 148.5h0M532.1 189.1h0M561.9 155.8h0M564.1 153.7h0M571.9 145.4h0M543.7 170.5h0M563.8 154.4h0M543.4 174.4h0M560.6 155.8h0M567.1 148.5h0M572.1 144.6h0M542.2 174h0M521.3 189.6h0M538.7 178.3h0M547.6 167.6h0M549.3 165.3h0M571.3 145.1h0M564.1 152.8h0M558.6 160.5h0M505.3 215.4h0M564.8 150.5h0M553.2 162.2h0M539.1 178.5h0M554.2 163.7h0M525.7 169.4h0M556.6 160.2h0M553.7 163h0M559.8 159h0M557.6 160h0M542.6 174.7h0M561.5 151.7h0M541.3 173.7h0M549.7 166.5h0M572.2 145.4h0M544.7 174h0"/><path d="M554.2 163.2h0M530.1 187.5h0M550.6 164.3h0M556.5 159h0M571.4 147.2h0M561.7 156.4h0M545.7 172.7h0M549 166.7h0M564.7 149.9h0M564.6 153.1h0M567.7 147.6h0M563.2 153.7h0M556.8 162.2h0M537.8 177.6h0M547.7 169h0M515.1 208.6h0M514.1 193h0M549 167.8h0M542.2 189.2h0M536.9 184.5h0M536.7 178.6h0M548.9 168.9h0M569 148.8h0M542.3 175h0M556.8 158.8h0M569.1 148.5h0M557.5 159.4h0M544.9 170.3h0M471.6 239.3h0M570.2 147.5h0M557.3 156.1h0M480.4 238h0M513.4 213.2h0M537.7 177.5h0M570.9 146.5h0M504.6 218.8h0M565.5 151.3h0M559.6 157.1h0M563.6 153.1h0M545 171.9h0M539.6 177h0M554.1 163.2h0M541.4 174.8h0M553.3 163.5h0M537.3 177.8h0M535.3 182.9h0M561.8 156.6h0M545.4 170.1h0M565.7 151.3h0M536.2 180.3h0M560.3 159.6h0M565.3 154.6h0M485.5 233.9h0M550.8 162.4h0M540.3 175.5h0M549.4 167.4h0M557.3 156.3h0M561.5 151.6h0M499 214.9h0M556.1 161h0M560.9 156h0M523.4 178.5h0M557.5 158.8h0M545.8 169.3h0M549.8 165.8h0"/><path d="M547.3 169.4h0M537.8 179.7h0M556 162.7h0M564.6 152h0M552.2 163.8h0M556.4 161h0M531.9 192.9h0M556.9 156.9h0M538 178.1h0M552.3 164.1h0M550 166.2h0M542.2 174.5h0M518.3 183.6h0M568.4 147.1h0M561.4 155.5h0M572.3 144.1h0M544.5 173h0M506.5 202.8h0M533.4 181.8h0M541.7 176.1h0M530.2 182.3h0M557.8 158h0M543.2 174.1h0M555.3 162.4h0M563.5 153.9h0M551.4 163.4h0M547.9 168.6h0M548.5 168.7h0M572.6 144.5h0M571.2 144.5h0M570.7 146.2h0M561 156.8h0M561.2 158.2h0M542.5 172.8h0M564.6 153.6h0M552.6 167.3h0M536.5 180.7h0M556.8 158.6h0M549.6 167.4h0M563.3 152.7h0M556.8 159.2h0M547.5 169.7h0M531.6 193.3h0M550 166h0M549.5 167.7h0M568.1 149.9h0M544.1 171.4h0M556.9 161.4h0M549.8 165.5h0M556 160.8h0M566.6 150.8h0M565.9 151h0M567.8 149.6h0M566 150.3h0M550.8 169.1h0M540.8 174.8h0M569 147.1h0M564 153.1h0M513.9 205.1h0M536.3 180.5h0M559.9 157h0M509.2 204.5h0M541 175.2h0M568 149h0M535.8 180.4h0"/><path d="M562.7 153.4h0M570.4 145h0M561.7 154.5h0M472.9 238.2h0M563.7 159.6h0M512.5 210.5h0M545.2 170.7h0M563.9 152.7h0M558.4 156.7h0M562.5 157.4h0M555.5 159.4h0M552 163.5h0M473.2 243.6h0M476.9 242.7h0M555.1 162.3h0M553.3 163.5h0M548.8 168.7h0M562.3 154.8h0M570.5 146.6h0M547.3 167.7h0M564.9 151.4h0M549.4 167.4h0M571.9 146.4h0M535.2 194.7h0M531.6 182.4h0M565.3 151.9h0M548.6 164.2h0M556 162.7h0M535.9 180.2h0M568.5 147.6h0M558.4 159.7h0M558.3 160.3h0M560.2 155.1h0M561.3 160.9h0M560.5 151.3h0M545.6 172.6h0M550.9 167.5h0M562.7 151.1h0M566.6 152.9h0M540.7 185.4h0M551.4 164.5h0M552.2 165.9h0M546.8 169.8h0M553.5 164h0M545.1 170.4h0M556.1 160.7h0M565.8 149.6h0M552.5 168.8h0M549.8 166.9h0M543 173h0M543.9 171.7h0M549.4 167.1h0M535.9 182.6h0M560.8 154.8h0M489.8 231.2h0M555.7 160.3h0M556.8 159.6h0M556.2 161.3h0M537.9 178.2h0M569.3 147.3h0M546.8 171.3h0M558.7 157.9h0M494.3 222.3h0M561.4 155.5h0M551.8 165h0"/><path d="M542.1 174.8h0M556.9 158.9h0M537.9 176.7h0M558.2 158.8h0M525.3 180h0M546.4 171.5h0M545.2 171.2h0M572.4 145h0M537.3 179.5h0M536.7 180.3h0M570.4 146.9h0M562.2 154.9h0M541.1 177.8h0M546.6 169.5h0M558.2 156.3h0M548.8 166.1h0M539.2 177.5h0M557.1 157.5h0M547 165.1h0M476.6 241.4h0M556.4 160.1h0M481.3 237.3h0M524.3 191.2h0M544.6 170.6h0M457.8 260.7h0M542.6 172.5h0M567.4 149.5h0M550.7 164.3h0M553.6 162h0M481.7 233.3h0M547.4 167h0M551.3 167.8h0M562.5 152.7h0M566.9 151.5h0M536.8 179.6h0M551 165.5h0M567.6 146.8h0M548 168.4h0M549.6 164.5h0M485.2 230.9h0M554.6 164.1h0M560.8 155.5h0M531.1 175h0M537.2 204.1h0M536.2 178.3h0M546.1 171.9h0M476.2 239.8h0M553.8 164.4h0M560.8 152h0M546.4 168.7h0M542.1 175.6h0M515 204.5h0M561.1 159.3h0M547 168h0M544.3 167.4h0M533.5 181.8h0M515.5 199.3h0M556.1 160.2h0M543.9 171.7h0M571.1 144.7h0M535 183h0M539.8 174.8h0M559.2 155.6h0M462.2 254.5h0M549.6 168h0"/><path d="M545.9 170.8h0M558.1 160.6h0M568.8 149h0M551.4 165.8h0M534.5 182.4h0M568.9 145.5h0M539.3 177.4h0M557.1 159.4h0M524.9 201.1h0M542.5 174.4h0M569.4 147.6h0M533.8 180.5h0M538.1 179h0M564.2 152.5h0M561.2 153.8h0M546.1 170.5h0M552.5 162.8h0M561.3 155.6h0M547.8 161.7h0M536.9 179.9h0M535.8 180.9h0M556.6 161.4h0M548.8 166.5h0M559.7 156.6h0M571.2 147.1h0M535.4 182.3h0M560.6 155.4h0M548.5 172.1h0M508.6 210.2h0M558.6 159.1h0M534.9 188.3h0M569.8 145.8h0M566.2 152.2h0M568.1 148.9h0M551 167.6h0M540.8 174.9h0M553.7 162.8h0M528.6 188.8h0M524.7 186h0M563.5 151.8h0M546.1 170.9h0M549 167.5h0M538.2 177.8h0M568 145.9h0M499.2 205.1h0M546.1 170.7h0M537.7 178.7h0M561.9 153.6h0M538.6 177.6h0M555.4 162.3h0M538 190h0M570.5 147.2h0M569.3 146.1h0M531.5 184.2h0M570.9 146.4h0M536.6 179.8h0M541.7 175.6h0M548.5 168.7h0M567.2 149.6h0M539.1 177.3h0M537 181.1h0M549.1 169.3h0M544.5 173h0M551.8 164.1h0M567.7 147.3h0"/><path d="M515.1 206.6h0M539.1 178.2h0M572.5 145.9h0M539.2 178.5h0M555.9 160.5h0M563.7 152.1h0M566.1 151.3h0M549.3 163.1h0M560.7 155.1h0M537.2 178.6h0M501.6 212.9h0M555.2 158.3h0M482.8 237.2h0M555.3 160.5h0M569 145.7h0M567.1 150.5h0M566.1 151.6h0M557.9 160.3h0M557.5 156.2h0M540.3 176.3h0M542.5 172.8h0M551.6 166h0M548.9 167.4h0M563.4 153.3h0M566.9 150h0M554.9 163.4h0M554.7 162.7h0M529 201.2h0M546.8 170.8h0M560.3 157.8h0M546.4 170.2h0M568.8 150.2h0M544 172.4h0M563.1 154h0M548.1 167.3h0M552.8 162.8h0M570.7 145.8h0M556.5 160.7h0M549.8 167.4h0M518.7 195.3h0M535.3 179.3h0M539 176.8h0M562.2 152.4h0M565.7 150.1h0M530.5 200.9h0M554.2 163.1h0M550.3 169h0M549.5 163.7h0M570.7 146.4h0M556.6 161.1h0M563.2 153.4h0M559.9 159h0M539.2 196.5h0M553.5 162h0M521.9 195.4h0M553.1 164.8h0M539.1 179.7h0M568.5 145.9h0M565.3 153.6h0M555 161.2h0M514.8 200.5h0M554.9 165.8h0M571.5 147h0M558.7 160.2h0M540.5 175.6h0"/><path d="M548.4 166.9h0M570.1 147.8h0M542.2 173.1h0M541.9 174.4h0M541.7 191.2h0M534.3 182.5h0M531.7 182.3h0M563.5 154.2h0M567.4 148.8h0M571.3 144.9h0M540.9 176.3h0M558 158.7h0M555.3 161.5h0M547.5 168.7h0M549.9 164.2h0M568.9 145.5h0M511.1 195.2h0M538.2 177.6h0M516.8 183.3h0M572.7 144.4h0M549 169.5h0M548 168.4h0M549.1 168h0M554.8 163.4h0M539.8 175.9h0M552.7 163.4h0M538.9 178.6h0M552.6 165.4h0M548.5 164.6h0M566.1 149h0M570.1 146.5h0M552.5 163.1h0M535.6 181h0M549.1 164.3h0M548.7 170h0M546.7 168.6h0M543.7 173.5h0M560.6 155.5h0M546 170.9h0M561.5 155h0M563.5 153.7h0M565.8 151.8h0M530.2 188h0M525.6 179.3h0M545.1 172.9h0M549.9 163.5h0M554.9 163.4h0M535.2 179h0M504.1 214.3h0M548 169.3h0M490.5 222.1h0M495 207.8h0M559.2 158.6h0M551.7 166.5h0M560.2 159.3h0M536.8 181.5h0M553.9 162.5h0M541.7 176h0M520.5 194.2h0M555.6 160.3h0M572.3 144h0M554.4 161.6h0M565.8 150.1h0M557.7 158.7h0M537.8 178.5h0"/><path d="M567.5 149.8h0M563.1 152.6h0M535.6 181.2h0M541.7 178.8h0M538.8 177.3h0M557.5 161.3h0M551.4 163.2h0M570.8 146.5h0M551.9 166.9h0M546.1 166.3h0M567.3 149.1h0M566.6 148.6h0M553.4 165h0M535.8 181h0M565.1 154h0M543.8 174.1h0M541.2 175h0M559 157.5h0M535.3 181.5h0M558.1 158.5h0M549 167.7h0M551.7 164.3h0M555.6 161.6h0M535.2 181.1h0M471.8 253.1h0M563.9 154.7h0M568.5 148.2h0M503.2 205.6h0M535.9 181h0M535.9 181.4h0M561.1 155.4h0M543.7 174.2h0M567.9 146.3h0M559.6 156.6h0M544.8 171.9h0M563.2 157.4h0M549.8 166.2h0M500.2 207.3h0M551.5 163.9h0M454 262.4h0M559.7 156.9h0M562.7 151.9h0M569.7 148h0M545.7 169.5h0M550.3 168h0M571.9 145.1h0M565.2 151h0M561.5 154.8h0M536.9 179.3h0M479.7 235.3h0M535.7 180.5h0M528.4 188.6h0M510.9 188.4h0M549.6 167.2h0M556.3 156.3h0M569.2 148h0M545 172.8h0M529.8 193.3h0M550.8 167.1h0M571.2 146.4h0M540.3 177h0M537.9 178.2h0M562 150.9h0M535.9 182h0M563.4 156.8h0"/><path d="M554.1 159.5h0M459.5 258.5h0M562.7 155.3h0M559.5 156h0M535 183.4h0M546.5 171.5h0M570.7 147.2h0M550.8 166.8h0M554.6 201.7h0M543.3 170.4h0M566.3 148.1h0M562.1 153.6h0M485.6 232.9h0M546.6 172.1h0M546 172.2h0M561.9 154.5h0M569.9 147.4h0M562.2 156.5h0M554.1 164.4h0M550.8 164.3h0M559.1 156.7h0M520.3 192h0M541.3 175.5h0M537.2 180.5h0M548.6 168.7h0M562 155h0M552.2 167.3h0M568.5 146.7h0M515.4 202.1h0M566.9 150.3h0M557.2 160h0M539.5 177.4h0M562.3 155.3h0M534.6 199.5h0M564.5 152.3h0M560.3 157.2h0M562.7 155.5h0M541.1 176.8h0M532 203h0M539.7 178h0M554.5 163.1h0M562.3 155.7h0M538.3 177.9h0M566.7 149.8h0M534 190h0M564.8 152.9h0M569.9 147.5h0M489.2 221.5h0M548.6 167.3h0M514.4 201.9h0M555.6 160.5h0M563 154.7h0M539.3 177.3h0M544.9 170.3h0M554.6 161.5h0M557 159.2h0M549.3 167.2h0M510.8 214.1h0M538.3 180.7h0M563.6 151.7h0M558.1 155.5h0M503.1 207.7h0M536.1 180.8h0M547.9 169.4h0M529 184.5h0"/><path d="M562.4 154.5h0M568.4 148.6h0M569 147.5h0M562.2 153.7h0M538 191.1h0M548.3 168.1h0M499.3 216h0M560.8 155.8h0M552 165.9h0M554 161.2h0M561.8 156.2h0M548.2 167.8h0M556.9 159.2h0M551.1 163.9h0M557 157.5h0M570 147.2h0M570.9 146h0M549.8 165.5h0M565.7 149.3h0M536.5 178.2h0M519.8 201.2h0M571.3 146.6h0M545.4 171.8h0M556.4 159.7h0M522.7 187.8h0M504 200h0M507.8 210.7h0M476.9 230.8h0M553.4 162.2h0M566 152h0M563 152.3h0M571.9 145.6h0M568.7 148.7h0M570.6 146.8h0M537.4 179.9h0M559.1 158.4h0M493.6 212.9h0M569 146.9h0M557 156.3h0M565.5 151.5h0M537.4 179.2h0M560.1 156.2h0M560.5 153.6h0M548 173.9h0M559.4 152.1h0M569.2 147.2h0M558.1 160.1h0M534.6 182.4h0M548.2 168.9h0M518.3 193.1h0M556.3 159.9h0M540.5 174.3h0M560.3 155.7h0M560.8 156.7h0M567.4 150.1h0M534.8 183.1h0M569.2 145.9h0M498.3 219.9h0M551.3 163.8h0M557.1 159.7h0M478.7 234.7h0M564.8 152.1h0M551.9 163.1h0M560.9 154.8h0M554.7 163.4h0"/><path d="M561.8 157.6h0M501.2 204.5h0M568.6 150.8h0M553.7 161.8h0M543.4 173.2h0M541.4 175.8h0M564.3 153.6h0M562.3 153.8h0M530.4 191.5h0M538.1 176.9h0M549.3 166.8h0M516.3 196.1h0M553.7 162h0M496.1 221h0M538.9 178.1h0M536.9 182h0M567.9 148.4h0M561.4 155.7h0M513.9 191.3h0M564.3 153.6h0M542.7 171.2h0M547.4 170h0M552.1 165h0M533.1 178.2h0M453.6 261.7h0M480.8 236.6h0M558.1 157.5h0M567.1 148.2h0M556.6 160.7h0M566.3 150.4h0M544 171.6h0M509.4 199.8h0M538.6 176.6h0M475.1 238.5h0M547.9 171.6h0M545.3 172.2h0M526 192.2h0M546.7 170.6h0M503.8 215.9h0M540.6 175.1h0M569.4 147.2h0M548.5 168.1h0M495.8 219.5h0M475.8 239.7h0M545.5 170h0M569.1 146.6h0M550.7 167.2h0M537.6 180.7h0M486.2 237.7h0M562.7 153.1h0M543.7 172.1h0M553 167h0M565.7 149.9h0M558.4 157.8h0M555.7 160.8h0M551.1 165h0M572.7 144.3h0M559.1 157.4h0M558.1 157.6h0M536 180.6h0M564.2 151.5h0M530.2 200.6h0M558.8 156.6h0M523.2 198.9h0M564.7 155.1h0"/><path d="M541.5 174.7h0M479.4 233.8h0M554.5 161.2h0M569 152.3h0M552.8 165.2h0M549.4 164.5h0M554.8 161.9h0M553.6 163.5h0M543.5 171.7h0M558.2 159.3h0M554.4 161.7h0M510.7 192.9h0M558.8 158h0M554.2 167.1h0M553.1 163.2h0M549 169.2h0M559 156.7h0M559.4 156.5h0M548.5 168.4h0M533.8 182.2h0M543.3 174.1h0M494.4 220.2h0M488.2 232.6h0M560.6 156.1h0M539.6 177.5h0M570.1 145.6h0M571.6 146.8h0M552.6 163.6h0M559 157.3h0M553.3 163h0M566 148.5h0M557.8 159.7h0M536 183.4h0M557.4 155.9h0M550.1 168.2h0M513.4 187.2h0M559.8 152.4h0M533.7 181.6h0M521.3 195.7h0M548.6 170.4h0M554.3 161.6h0M565.1 150.8h0M563.8 153.8h0M487.2 225.5h0M561.9 155.1h0M548.7 167.9h0M516 206.4h0M515.6 211.1h0M535.6 179.6h0M527.6 181.9h0M564.4 153.8h0M556.7 161.6h0M464.9 253h0M558.6 156.2h0M548.9 167.5h0M546.5 168.6h0M548.9 169.6h0M530.8 181.2h0M540.4 176.3h0M516.6 205.7h0M565 152.1h0M512.8 211.2h0M550.4 166.1h0M539.5 177.9h0M560.2 151.3h0"/></g></g><g clip-path="url(#ca2)"><g fill="none" stroke="#ff7f50" stroke-opacity="0.25" stroke-width="3.0" stroke-linecap="round"><path d="M772.7 477.2h0M798.3 434.3h0M777 470.8h0M787.9 454h0M790.8 503.3h0M736.4 504.6h0M778.1 451.3h0M742.8 401h0M769.6 447.2h0M796.5 450.3h0M784.2 438.4h0M779.2 492.6h0M780.3 400.1h0M810.3 421.6h0M762.3 442.3h0M730.5 494.2h0M790.7 468h0M778.2 396.8h0M780.5 454.7h0M778.9 455.7h0M817.5 441.2h0M752.3 423h0M808.6 452h0M764.5 386.1h0M759.8 510.9h0M718 406.3h0M688.2 521.3h0M808 440.7h0M757.9 466.6h0M800.7 474.1h0M756.9 450.7h0M806.2 429.5h0M730.2 533h0M687.8 492.6h0M736.4 417.5h0M683 414.3h0M758.5 454.8h0M737.7 516h0M753.6 439.8h0M753.9 543.9h0M765.8 477.5h0M790.4 419.6h0M748 510.7h0M687 469.2h0M757.6 455.7h0M752 451.3h0M755.6 424.1h0M742 444.9h0M783.8 459.5h0M786.5 437.4h0M819.3 434h0M738.1 423.6h0M784.2 468.1h0M784.1 457.4h0M718.3 458.7h0M704.7 472.9h0M767 513h0M763.2 373.2h0M778.5 467.8h0M794.1 524.5h0M775.4 470.4h0M793.9 449.7h0M731.8 437.2h0M748.9 467.2h0M790.5 489.8h0M787.9 521.3h0M759.1 432.3h0M802.2 420.2h0M807.3 432.3h0M750.4 397.2h0M789.1 480.3h0M709 482.4h0M777.3 501.8h0M744.5 484.9h0M781.3 513h0M793.1 422.4h0M813.8 476.1h0M738.7 483.5h0M756.2 485h0M765.9 463.8h0M762.4 423.2h0M771.4 475h0M789.1 442h0M773.8 440.5h0M736.4 442h0M704.2 522.6h0M741.1 418.2h0M773.9 450.6h0M749.4 461.3h0M757.7 521.7h0M810.4 446.2h0M799.7 460.4h0M762.7 404.6h0M765.2 408.9h0M777 419.9h0M734.9 489.4h0M796.8 374.6h0M729.3 465h0M782 487.7h0M773.8 482.4h0M722.6 466.5h0M689.1 422.2h0M802.2 431.2h0M773.2 494.8h0M691.7 428.2h0M698.2 443.7h0M735.8 433.2h0M686 428.2h0M787.3 450.5h0M767.8 423.8h0M781.5 451.3h0M775.1 406.6h0M768.9 464.4h0M808.5 487h0M791.5 530.6h0M755.2 428.8h0M767.4 503h0M802.7 481.7h0M717.8 515.2h0M800.2 483.7h0M681.3 444.8h0M787.6 415h0M805.2 421.8h0M781.2 459.9h0M799.6 471.5h0M740.5 420.4h0M769 527.7h0M801.7 444.3h0M761.6 436h0M743.8 411.2h0M786.3 403.7h0M746.5 415.6h0M750.7 497.2h0M800 449.4h0M804.1 487.3h0M756.8 403.4h0M736.7 428.3h0M699.2 447.8h0M787.2 478.9h0M791.9 485.2h0M813.9 534.4h0M791.7 425.5h0M768.7 494.2h0M771.2 436.6h0M793.9 422.8h0M767.1 425.4h0M744 488.7h0M788.2 407.3h0M705.4 412.3h0M763.6 450.9h0M780.7 492.6h0M800.8 482.3h0M701.9 450.5h0M756 418.5h0M790.1 414.6h0M796.9 430.9h0M813.6 434.7h0M798 459h0M760.3 456.1h0M822.9 457.7h0M743.4 442.7h0M813.7 446.8h0M755.9 422.5h0M731.2 450.6h0M730.7 491.5h0M786.9 432.5h0M777.9 508.4h0M691.3 432.8h0M781.2 443.7h0M811.8 442.9h0M780.6 406.5h0M763.6 427.6h0M791.7 432.7h0M745.3 471.3h0M808.3 459.3h0M811.1 500.2h0M745.3 444.3h0M791.5 488h0M772.3 464.7h0M787.2 508.6h0M692.5 517.4h0M776.3 427.8h0M784.7 489.3h0M809.5 471.1h0M762.5 422.5h0M794.3 458.4h0M794.4 474.3h0M773.2 471.8h0M781.3 471.3h0M779.2 418.8h0M790.9 484.3h0M812.8 416.5h0M729.9 493.2h0M746.7 446.5h0M739.4 448.5h0M806.3 477.5h0M786.1 436.2h0M797.5 433.5h0M782.8 429.1h0M783 445.7h0M788 463.8h0M714.2 444.8h0M799 468.9h0M688.3 464.1h0M775.2 433.7h0M807 497.2h0M818.9 437.2h0M705.5 498.3h0M786.7 520h0M810.1 458.5h0M787.5 412.3h0M819.8 508.6h0M756.6 409.4h0M773.9 424.2h0M750.5 381.9h0M771.8 411.6h0M761.1 409.4h0M737 412.8h0M763.7 485h0M780.5 412.1h0M750.3 507.5h0M780 430.4h0M803.1 448.8h0M691 472.8h0M796.2 496.3h0M784 452h0M738.4 445.2h0M765.6 440.7h0M789.8 416.7h0M778.3 457.1h0M766 496.9h0M720.4 463.2h0M748.9 445h0M698.8 434h0M750.8 442.4h0M730.9 414.5h0M791.5 415.7h0M787.5 473.5h0M752.7 435.3h0M768.8 455.4h0M776.6 388.9h0M807.6 413.7h0M784.2 462h0M747.2 417.6h0M778.9 473.9h0M765.7 455.2h0M738.2 459.8h0M696 433.4h0M681.8 435.6h0M683.8 420.8h0M762.7 513.6h0M745.2 442.8h0M816.1 422.8h0M772.2 425.6h0M777.8 440.7h0M749.7 414.9h0M794.3 498.5h0M730.8 446.6h0M760.5 447.8h0M775.2 464.4h0M721.3 434.2h0M781.8 497.6h0M810.4 439.1h0M738.5 423.9h0M777.2 409.8h0M770.6 429h0M752.9 424.1h0M776.7 477.5h0M727.7 456.6h0M728 424.3h0M757.4 432.5h0M771.9 436.5h0M771.4 419.2h0M802.5 512.2h0M780.9 476.2h0M727.8 418.2h0M821.2 431.9h0M722.6 463.5h0M807.4 469.1h0M756.4 478.3h0M784.3 495.3h0M722.8 482.9h0M773.2 456.9h0M716.3 467h0M762 518.3h0M793.1 463h0M679.2 430.6h0M786.6 479.9h0M792.4 443.8h0M749.1 435.9h0M794.6 421.8h0M755.2 418.2h0M785 447.9h0M815.9 437.7h0M783.1 524h0M748.8 402.5h0M759.6 415h0M809.8 445.2h0M740.6 417.9h0M808.5 464.6h0M747 478.7h0M756.2 502.6h0M754.4 499.9h0M735.6 416.1h0M790.8 443.6h0M809.1 422h0M701 414.8h0M718.3 450.6h0M742.6 461.3h0M769.4 507.4h0M748 454.3h0M766.4 427.5h0M681.9 452.5h0M690.6 493.7h0M795.2 458h0M734.5 418.1h0M724.4 448h0M781.5 512.4h0M794.3 428.7h0M806.9 527.7h0M811 462.2h0M743.2 505.6h0M766.9 448.7h0M696.2 430.2h0M706.8 460.8h0M788.7 419.8h0M759.3 489.7h0M805.7 449.9h0M807.6 457.4h0M745.4 453.3h0M798 438.7h0M764.9 436.9h0M771.9 435.8h0M764.7 445.5h0M774.1 473.2h0M772.7 462.6h0M803.7 446.4h0M778.6 463.8h0M759.9 428.7h0M796.3 433.8h0M796.4 483.3h0M753.5 445.7h0M770.3 425.2h0M792 509.4h0M753.7 424.2h0M798.3 523h0M841.1 428.4h0M729.3 444h0M815.4 449.3h0M802.3 432.4h0M755 429.4h0M754.5 471.7h0M796.9 454.7h0M743.7 415.5h0M781.2 485.8h0M789.9 475.2h0M800.5 489.8h0M767.3 506.2h0M775.5 471.9h0M808.3 496.3h0M796.3 478.7h0M763.2 402h0M816 431.5h0M809.4 453.4h0M742.6 494.9h0M726.8 426.8h0M765 405h0M793.2 464.4h0M746.8 465.9h0M808.4 438.4h0M722.6 438.9h0M807.9 429.9h0M793 443h0M790 514.1h0M792.3 450.3h0M731.6 449h0M758.5 474.4h0M803.7 530.7h0M726.1 404.8h0M774.2 487h0M774 441.5h0M793.8 493.5h0M769.8 464h0M748.7 433.8h0M815.4 469.9h0M782.7 433h0M784.9 512.1h0M756.1 523.6h0M735.8 416.3h0M742 450.9h0M757.2 435.1h0M767.9 431.8h0M753.9 414.3h0M796.6 394.5h0M745.3 472.8h0M804 487.2h0M815.8 463.4h0M804.4 432.4h0M778.5 436.4h0M820.9 504.5h0M778.2 402.9h0M792.1 494.7h0M695.4 414.8h0M791.1 423h0M734.8 436.4h0M759.2 486.4h0M749.7 469.4h0M798.9 421.2h0M762.4 474.5h0M777.4 430.2h0M776.1 458.3h0M794.1 470.7h0M725 471.3h0M711.6 476.1h0M752.1 436h0M721.6 434.8h0M775.4 518.9h0M760.2 458.3h0M727.8 422.1h0M795.9 471.6h0M773.5 432.5h0M730.2 423.8h0M750.2 438.8h0M822.8 439.6h0M767.2 481.1h0M770.9 465.4h0M752.1 454.5h0M785.8 399h0M688.4 442.9h0M776.2 478.9h0M759.9 406.7h0M791.6 407.2h0M712.5 452.3h0M760.7 466.9h0M763.9 481.9h0M771.7 428.6h0M780.2 442.9h0M771.6 506.5h0M688 419.8h0M752.7 500.4h0M718.9 494.6h0M756.4 449.4h0M773.5 468h0M732.9 447.9h0M766.9 484.7h0M737.3 404.1h0M810.1 526.9h0M770.5 408.5h0M760.1 440.5h0M758.3 453.9h0M733 431h0M698 449.7h0M773.8 521.5h0M804.9 451.3h0M801.6 507.8h0M815.6 424.2h0M804.9 450.3h0M756.3 437.3h0M760.6 447.8h0M790 476.2h0"/><path d="M747.9 483.3h0M779.1 448.3h0M840.2 460.7h0M776.1 509.2h0M723.9 419.3h0M791.5 489.9h0M779.4 419.1h0M769.5 461.5h0M740 445.3h0M789.2 417.9h0M798 440.5h0M805 471.3h0M798.8 410.8h0M746.3 477.2h0M790.1 471.8h0M747.4 430.7h0M769.2 451.4h0M778.3 459.5h0M751.3 442.6h0M810 522.5h0M794.7 441.2h0M722.6 455.6h0M697.7 417.6h0M804.5 445.7h0M721.7 423.2h0M775.2 426.8h0M696.6 450.4h0M786.3 452.5h0M763.3 413h0M770.4 418.5h0M786.2 417.5h0M759.6 469.2h0M767.8 513.8h0M767.1 403.3h0M820.3 450.4h0M801.8 416.2h0M786.5 447.1h0M765.2 454h0M766.3 430.2h0M732.1 406h0M764.8 437.8h0M693.3 498.5h0M771.6 486.9h0M767 427.8h0M761 470.2h0M799.6 414.5h0M763.9 438.2h0M769.5 484.4h0M759.8 473.3h0M798.1 540.1h0M751.3 478.7h0M764.6 409h0M743.9 417.5h0M806 413.4h0M777.9 417.7h0M775.2 444.3h0M783.6 483h0M763.4 490.5h0M764.2 434.7h0M804 468.9h0M716.1 399.4h0M759.5 375h0M725.9 457.9h0M767.9 481h0M737.9 429h0M747.9 509.7h0M725.3 421.9h0M703.3 444.1h0M756.6 489.7h0M791.5 464.9h0M753.8 406.9h0M746.5 454h0M740.2 441.2h0M805.8 418.4h0M770.2 450.5h0M790.6 416.2h0M821.9 473.2h0M756.1 461.7h0M786.9 426.9h0M681.6 452.3h0M773.9 494.4h0M764.3 425.3h0M780.2 499.6h0M713.8 474.5h0M785.5 414h0M762.3 432.6h0M733.3 476.1h0M789.3 421h0M808.1 464.7h0M818.2 491.1h0M729.2 460.3h0M732.4 518.8h0M790.7 406h0M773.4 436.9h0M790.3 436.7h0M747 440.8h0M706.5 430.1h0M821.6 434.1h0M787.4 469.1h0M787.6 384.9h0M755.2 448.9h0M797.2 411.3h0M815.7 443.1h0M719.8 456.5h0M769.2 444.4h0M746 442.1h0M784.9 464.5h0M755.7 411.4h0M788.5 465h0M746.7 487.6h0M732.8 456.9h0M746.5 511.9h0M767.5 432.4h0M783.4 416.3h0M821.7 430.4h0M803.4 446.8h0M795.1 490.7h0M834.8 448.4h0M790.1 413.9h0M797.2 478.1h0M773.5 435.1h0M747.8 411.2h0M743 519.6h0M751.8 521.5h0M760.3 441.4h0M788.4 458.9h0M790 394.6h0M759 464h0M785.3 423.8h0M763.2 531h0M740.2 426.9h0M788.8 391.2h0M805.1 434.6h0M728.3 453h0M790 528h0M692.8 419.6h0M791.8 459.8h0M793 443.1h0M702.6 458.8h0M783.7 517.9h0M790.2 462.4h0M797.6 403.1h0M776.2 408.1h0M798.6 422.8h0M779.4 454.9h0M795 472.2h0M718.6 462.5h0M773.8 506.9h0M819.3 430.8h0M739.5 433.6h0M706.4 501.1h0M723.9 423.8h0M799.6 469h0M795.6 427.8h0M799.2 431.2h0M778.4 462.6h0M701.4 426.4h0M760.3 390.4h0M777.8 424.3h0M780.5 419.7h0M763.4 449.5h0M702.5 423.1h0M754.8 436h0M684.3 462.3h0M806.6 445.2h0M815.4 453.8h0M762.9 482.9h0M792.1 500.4h0M826.2 459.3h0M780.2 429.7h0M728 421.5h0M778.4 476.3h0M754.6 392.6h0M753.7 474.2h0M738.8 418.9h0M714.3 481h0M690.9 439.3h0M762.5 399.9h0M745.6 469h0M739.3 429.2h0M773.3 534.8h0M734 448.7h0M796.5 503.8h0M760 435.2h0M715.7 462.3h0M790.6 404.4h0M786.4 388.4h0M797.1 473.3h0M764.7 542.9h0M760 517.4h0M776.7 432h0M803.7 419.1h0M693.2 418.8h0M785.7 478.2h0M818.1 481.6h0M750.4 439.7h0M783.2 430.2h0M803.8 492.3h0M783.1 456.9h0M792.7 478.5h0M793 432.5h0M744 421.1h0M699.5 424.8h0M766 454.6h0M781.5 418h0M760.9 435.2h0M790.7 430.1h0M780.5 429.8h0M771.8 441.6h0M824.5 493.3h0M772.2 470h0M799.5 449.9h0M774.4 463.2h0M762.4 463.7h0M705.3 458.4h0M738.5 427.3h0M693.6 458.4h0M695.1 504.5h0M762.6 476.5h0M809.3 476h0M726.4 444.6h0M794.4 424.6h0M812.2 473.7h0M763 412.9h0M753.8 463h0M716 420.6h0M721.8 462.4h0M804.2 410.2h0M694.6 417.9h0M688.3 425.9h0M759.3 463.3h0M812.6 495.2h0M783.3 453.4h0M676.6 454.9h0M766.7 439.6h0M815.1 495.4h0M778.2 488.5h0M823.1 471.2h0M751.5 453.4h0M750.5 446.4h0M802.2 433.8h0M801.1 469.1h0M764.6 453.8h0M744.7 513.6h0M779.4 530.8h0M739.5 535.8h0M808.7 486.3h0M788.2 480.1h0M799.1 449.5h0M772.5 469.9h0M794.3 481.6h0M785.7 436.3h0M764.5 438.2h0M789 504.7h0M771.3 417h0M742.3 487h0M753.4 468.3h0M729.2 445.9h0M779.5 470.6h0M737.7 426.6h0M754.3 428.9h0M746.9 496.2h0M704.4 466.5h0M815.6 454.3h0M795.6 448.4h0M705.6 447.6h0M758.6 432.8h0M724.5 489.7h0M745.7 433.3h0M784.7 417.8h0M791.4 481h0M745.9 422.1h0M746.3 502h0M723.6 471.5h0M696.4 452.8h0M713.7 468.7h0M715 451.3h0M737.8 432.4h0M776 533.3h0M782.4 412.2h0M781.6 405.4h0M792 480.7h0M702.7 484.3h0M778.4 454.8h0M773.8 439.9h0M764.5 420.1h0M801.9 435.1h0M761.4 449.2h0M779.3 461.3h0M721.2 402.9h0M731.3 413.2h0M812.6 441.3h0M812.6 453.7h0M795.3 444.6h0M774.2 490.7h0M705.7 439.7h0M811.6 460.3h0M705 437.2h0M769.7 478h0M811.6 432.4h0M801.2 474.2h0M741.4 467.4h0M806.3 508.9h0M765.4 423.8h0M809.4 456.9h0M773.8 462.4h0M753.2 429.7h0M807.6 454.1h0M780.6 409.7h0M810 444.6h0M788.6 477.5h0M786.9 479.3h0M770 463.5h0M754.4 417.7h0M698.3 456.4h0M754.4 496.1h0M804.1 468.7h0M816.4 453h0M761.1 422.4h0M816.5 477.8h0M776.3 410.6h0M725.2 509.1h0M762.7 435.7h0M794.8 514.8h0M791.2 467.1h0M774.4 521.6h0M721 434.1h0M773.4 485.1h0M785.5 494h0M756.7 511h0M728.1 411.3h0M727.8 437.6h0M817.3 448.6h0M738.8 437.7h0M798.7 450.9h0M790 455.4h0M734 476.5h0M747.9 448.4h0M766.1 482.6h0M753.6 456.3h0M735.9 468.3h0M721.9 446.8h0M691 430.7h0M746.8 416.8h0M739.8 473.2h0M731.8 475.9h0M791.9 416h0M696.4 444.8h0M788.2 471h0M794.4 486.3h0M790.1 425h0M747 459.2h0M823.6 460.6h0M789.4 433.6h0M748.6 415.7h0M804 462.7h0M787.2 407.4h0M765.8 463.4h0M739.4 411.5h0M751.8 443.5h0M723.2 443h0M733.8 443h0M794.5 424.2h0M795 415.1h0M754.1 442.8h0M758.7 428.4h0M797.8 427.2h0M807.3 412.3h0M764.3 447.8h0M801.2 469.4h0M743 396.7h0M766.1 476.6h0M757.5 425.4h0M725.1 537.9h0M751.9 461.1h0M806.1 449.3h0M755.4 493.5h0M784.2 411.6h0M747.6 496.7h0M800.6 439.1h0M734.4 422.2h0M718.6 412.9h0M769.2 437.9h0M724 440.6h0M767.2 431.3h0M797.7 457.4h0M765.6 462.9h0M792.4 429.9h0M820.2 489.2h0M751.1 507.6h0M745.3 478.3h0M681 445.3h0M794.3 465h0M781.6 439.7h0M764.4 454h0M709.5 487.5h0M777.8 447h0M744 393.6h0M788.6 532.7h0M802 414.4h0M812.8 445.3h0M696.6 453.4h0M780.1 464.9h0M776 436h0M814.7 424.1h0M783.8 445.8h0M770.4 498h0M771.8 437.8h0M797.8 485.6h0M771.1 453.2h0M792.4 483.6h0M796.3 438.6h0M793.9 462.4h0M689 463.9h0M804.9 416.3h0M682.5 474.2h0M804.8 440.4h0M764.5 424.3h0M830.7 474.8h0M800.9 454.6h0M783.6 497.2h0M783.5 408.5h0M774.8 433.7h0M755.5 491.9h0M800.1 465.2h0M799.2 455.2h0M760 488.2h0M802.1 409.7h0M790.7 422.7h0M799.1 435.1h0M744 457.1h0M768.5 420.9h0M765.1 534.9h0M765 484.7h0M796.5 423.1h0M701.7 452.4h0M777.2 441.4h0M720.7 477h0M786.5 414.5h0M789.3 406.5h0M773.9 420.1h0M743.2 469.8h0M731.7 485.4h0M800 476.1h0M782.8 435.9h0M719.5 464.9h0M775 416.2h0M823.2 437.1h0M795.2 458.1h0M783.4 475.4h0M800.1 405.2h0M794.6 500h0M823.6 443.2h0M753.8 438.4h0M751.7 481.9h0M756.1 473h0M777 514.3h0M783.6 444.3h0M704.1 434.9h0M775.2 412.5h0"/><path d="M806.6 436.7h0M767.2 469.5h0M767 419.9h0M773.4 501.1h0M785.7 435h0M746.7 450.6h0M747 428.7h0M795.3 496.3h0M783.6 399.7h0M799.3 464.3h0M774.9 446.1h0M775.4 437.1h0M715.8 474h0M800 451h0M781.1 449.1h0M735.2 448.5h0M801 438.4h0M756.5 427.7h0M767.2 483.6h0M789 462h0M772.3 439h0M727.3 437.3h0M763.5 413.1h0M786.6 516.1h0M749.5 430.4h0M776.6 443.2h0M774.4 462.2h0M787.4 421.1h0M762.1 437.2h0M771.8 487.2h0M762.3 474.4h0M780.3 450.3h0M735.1 493.2h0M806.8 496.3h0M677.9 495.2h0M767.4 485.5h0M808.4 541.1h0M789.7 470.5h0M739.6 421.7h0M807.2 471.9h0M799.3 462.7h0M783.4 445.8h0M823.1 454.9h0M689.1 461h0M763.3 462.7h0M793.1 520.9h0M792.1 443.9h0M802 474.6h0M785.1 415.9h0M812.6 457.2h0M762.3 424.9h0M789 457.9h0M713.7 488.8h0M766.5 441.1h0M784 413.4h0M753.5 529.3h0M820.2 536.1h0M810.2 493.7h0M754.5 464.2h0M775.7 415.3h0M802.8 486.2h0M785.9 457.5h0M732.6 452.9h0M783.6 427.3h0M775.4 504h0M747.1 463.1h0M832.4 464.8h0M791.4 426.2h0M790.4 434.3h0M784.3 407.8h0M794.2 441.3h0M772.5 489.2h0M756.2 421.9h0M811.3 435.8h0M790 482.5h0M684.1 373.9h0M770.5 418.9h0M775.3 447.5h0M760.2 508.1h0M761.6 493.4h0M723.3 429.8h0M753.9 439.8h0M828.4 436.9h0M761.1 415.8h0M775.9 447.7h0M786.3 421.8h0M781.7 424.8h0M778.8 472.8h0M730.6 469.4h0M739.7 461.1h0M748.8 447.5h0M760.2 534.6h0M829.6 438h0M785.6 496.8h0M794.8 415.4h0M795.9 395.4h0M710.2 482.8h0M762.6 507.4h0M767.1 418.7h0M705.4 423.8h0M763.1 457.8h0M775.7 529.8h0M769.1 494.7h0M791.2 397.9h0M742.4 442.5h0M787.5 469.5h0M777.4 419.6h0M770 416.7h0M789.7 540.3h0M761.4 512.6h0M796.4 407.4h0M723 435.6h0M678.8 444h0M717 459.1h0M772.2 452.4h0M775.9 448.4h0M779.6 456.5h0M803.9 466.8h0M793.4 398.3h0M802 469.2h0M792.3 399.8h0M712.1 420.3h0M781.3 471.7h0M769.9 457.3h0M808.8 422.5h0M739.2 434.3h0M701.3 435h0M780.1 486.4h0M794.3 406.7h0M758.9 466.4h0M738.7 532.6h0M786.9 443.2h0M686.4 480.5h0M779.8 460.9h0M782.9 418.1h0M700.6 456.4h0M706.7 481.7h0M728 440.4h0M778.2 443.2h0M706.8 472.7h0M781.5 419h0M778 465.9h0M772.5 450.3h0M689.4 452.6h0M772.9 531.8h0M760 454.5h0M775 467.4h0M788.6 473.3h0M804.7 416.7h0M781.4 445h0M770.6 435.5h0M754 460.8h0M735.5 522.6h0M763.3 440.1h0M757.8 473.7h0M755.7 439.9h0M799.8 425.2h0M791.1 508.8h0M794.2 445.2h0M759.4 490.1h0M698.7 460.4h0M786.6 391.3h0M783.5 380h0M769.4 397.1h0M802.7 448.1h0M764.8 463.8h0M785.7 454.6h0M816.4 455.4h0M762.5 462h0M740.1 440.1h0M782 445.8h0M786.8 456h0M772.7 409.2h0M809.9 501.4h0M727.9 434.1h0M785.5 450.3h0M765.2 467.6h0M688.3 459.7h0M784.5 492.7h0M731.9 385.2h0M799.9 469.5h0M779 529.5h0M787.7 489.9h0M780.2 496.6h0M785.9 497.5h0M792.1 438.3h0M804.5 436.1h0M785.8 439.8h0M791.3 416.3h0M821.1 448.7h0M758.3 480.5h0M790.7 470.8h0M787.9 444h0M736.7 428h0M794.7 464.8h0M792.9 445.4h0M808.1 461.1h0M747.5 424.1h0M759.5 431.7h0M782.8 411.9h0M799.7 536.8h0M778.8 484.9h0M774.7 411.7h0M789.3 405h0M731.1 423.3h0M762.7 524.1h0M839.7 429.8h0M765.3 421.4h0M690.6 450.3h0M775.4 470.4h0M782.1 459.2h0M785.9 461.2h0M759.9 435.5h0M812.6 455.4h0M731.2 405h0M805.9 448.4h0M728.5 471.1h0M799.6 481h0M814.9 450.7h0M743 475.7h0M805.4 515.3h0M726.9 488.6h0M713.8 425h0M722.1 458.4h0M780.3 466.5h0M777.1 490.5h0M761.8 434.7h0M761.4 517h0M804.8 513h0M732.9 396.6h0M792.8 530.3h0M773.2 389.9h0M777.8 456.4h0M718.4 430h0M696.7 486.4h0M779 505.3h0M788.1 434.3h0M763.4 432.5h0M790.5 438.1h0M808.6 422.2h0M803.5 424.7h0M769.1 434.7h0M800.2 434.3h0M761.8 456.6h0M834.9 461.4h0M757.9 497.4h0M806.8 445.1h0M764.7 417.8h0M781.9 428.6h0M791.6 447.8h0M787.3 469.7h0M747.2 436.9h0M791.2 432.6h0M735.5 456.7h0M787 518.7h0M793.4 428.2h0M775.4 510.1h0M764.7 521.3h0M757.8 415.1h0M781.8 498.9h0M798.4 456.4h0M776.4 470.7h0M757.6 466.1h0M819.3 455.8h0M796.5 447.5h0M778.2 421.7h0M746.3 456.6h0M782.6 539.2h0M782.2 464.3h0M786 451.4h0M738.1 403.4h0M785.8 472h0M784.6 476.4h0M772.6 458h0M800.7 409.8h0M776.1 445.1h0M805.5 533.1h0M740.1 397.7h0M796.2 504.8h0M678.8 447.6h0M770.4 424.3h0M697.2 453h0M785 516.8h0M780.2 466h0M757.7 513.3h0M686.3 465.6h0M812.2 463.3h0M773.2 473.7h0M753 445.7h0M781.8 435.3h0M794.8 462.5h0M723.8 478.1h0M787.9 443.4h0M800.7 437.9h0M772.1 413.3h0M773 488.9h0M749.7 411.3h0M775.6 532.2h0M787.3 475.8h0M807.5 444.6h0M748.1 488.9h0M777.7 459h0M705.4 447.1h0M777.6 510.2h0M807.4 462h0M776.5 443.4h0M690.3 424.2h0M778.7 406h0M781.2 442h0M733.2 418.5h0M784.5 543h0M796.7 531.6h0M764.4 441.9h0M711.7 472h0M813.4 427.7h0M800.8 468.5h0M764.1 474h0M750.4 481h0M824.1 429.2h0M761.5 453.2h0M773.6 421.3h0M770.6 449.1h0M715.8 441.1h0M801.8 436.4h0M726.9 413.8h0M799.3 422.9h0M735.5 413.7h0M786.9 450.4h0M769.3 428.7h0M711.4 446.5h0M725 433.5h0M717.2 429.9h0M788.7 419.9h0M741.5 481.2h0M746.9 448.5h0M764.4 491.1h0M769.7 425.4h0M789.4 535.8h0M785.5 434.5h0M783.2 442h0M739.9 455.8h0M751.6 449.8h0M802 514.8h0M744.4 403.3h0M812.6 437.9h0M775 460.3h0M766.2 542.2h0M712.9 406.9h0M796.1 408.9h0M757.6 412.8h0M787.8 429h0M791.5 449.8h0M719.9 441.3h0M722.7 437.3h0M759.3 496.9h0M720.7 453.9h0M796.8 463.4h0M775.3 433.2h0M774.4 420.8h0M791.9 485.6h0M786.2 470h0M754.3 496.6h0M777.9 418.9h0M801.1 433h0M760.1 473.1h0M792.7 440.8h0M767.4 430.9h0M786 416h0M783.7 542.1h0M779.3 442.3h0M804.6 420.5h0M767.5 461h0M789.2 427h0M772.9 499.5h0M749.4 432.2h0M756.1 478.2h0M783.1 454.9h0M757.5 427.7h0M795.1 432.5h0M742.2 415h0M706.4 418h0M692.2 451.2h0M793.9 432.3h0M710.6 453.4h0M743 541.6h0M739.3 427.4h0M751.7 429.9h0M774.7 477.5h0M756.4 457.6h0M781.3 504.7h0M791.7 478.6h0M793.7 418.5h0M740.2 519.2h0M761.9 447h0M782.3 414.9h0M817.8 496.9h0M806.9 444.9h0M693.1 472h0M800.9 424.3h0M771.7 453.9h0M832.6 478.1h0M757 455.4h0M763.9 443.6h0M743.1 421.2h0M775.2 485.6h0M745 411.7h0M792.3 414.3h0M753.8 432.7h0M768.1 446h0M774.8 474.4h0M784.5 425.8h0M759.5 428.5h0M677.5 460.2h0M780.3 420.5h0M788.9 466.8h0M707.6 493.8h0M709.9 498.8h0M712.2 453.3h0M786.1 437.6h0M746.7 455h0M766 434.8h0M779.9 376.5h0M772.4 454.9h0M789 453.4h0M789.6 436.5h0M783.5 402.8h0M801.6 439.1h0M735.8 409.7h0M735.8 455.3h0M825.4 535.7h0M810.5 512.7h0M726.6 448.3h0M777.5 406.2h0M771.5 432.6h0M791.6 418.4h0M773.8 442.7h0M749.4 499.3h0M793.4 454.1h0M807.7 450.1h0M688.4 420.8h0M753.7 414.9h0M726 463.9h0M745.2 452.2h0M810.4 423.7h0M717.6 432.3h0M789.1 478.8h0M778.2 481.3h0M789.5 403h0M799.5 468.8h0M774.3 477.5h0M783.3 463.6h0M746 469.4h0M771.7 453.9h0M722.3 471.3h0M791.6 512.3h0M787.4 444.1h0M791.1 449.1h0M784.9 398.8h0M743.2 512.2h0M795.5 480.5h0"/><path d="M687.9 428.7h0M777 417.4h0M799.9 439.2h0M751 517.1h0M763.7 397.4h0M733.1 406.4h0M785.1 402h0M768.5 425h0M801.3 423.2h0M803.7 436.6h0M784.3 440.1h0M816.8 484.2h0M725.7 432.7h0M800.4 438.1h0M805.1 481.7h0M794 449.1h0M751.5 491h0M724.1 457.7h0M782.2 456.7h0M779.3 434.9h0M779.4 431.4h0M793.1 452.2h0M743.9 439.8h0M752.3 441.3h0M746.8 438.3h0M741.1 541.7h0M751 427.1h0M803.9 477h0M765.4 442h0M806.9 415.5h0M803.9 457.6h0M770 399h0M759.4 494.4h0M798.2 479.3h0M766.7 409.2h0M799.1 535.5h0M717.7 458.2h0M739.9 529.2h0M755.3 451.4h0M822.8 486.7h0M742.3 422.2h0M819.9 450.2h0M783.7 531.5h0M771.9 410.3h0M782.4 537.1h0M751.4 434.1h0M786.5 439.4h0M777.6 446.8h0M708.6 457.3h0M770.2 522.8h0M804.2 439.7h0M761.9 420h0M740.4 410.4h0M732 445.8h0M763.3 459.1h0M792.6 424h0M766.4 440.9h0M776.9 395.8h0M813 484.4h0M782.4 526h0M787.2 458.6h0M772.3 393.7h0M799.3 458h0M778.3 446.8h0M696.3 444.2h0M774.6 429.6h0M791.8 460.6h0M769.2 498.5h0M788.3 426.4h0M772.2 394.8h0M708 463.4h0M801.5 462.9h0M807.4 493.7h0M726.8 450h0M715.5 501.5h0M808.1 427.1h0M677.6 475.7h0M776.7 434h0M722.4 418.9h0M783.4 408.5h0M811 448.5h0M788.5 459.4h0M822.6 471.8h0M796 419.2h0M685.9 484.2h0M761.3 466.1h0M733 406.7h0M784.9 444.7h0M778.7 484.7h0M780.2 458.8h0M773.1 420.3h0M783.7 464.5h0M765.9 517.9h0M773.1 454.8h0M806 504.7h0M720.2 445.2h0M797.9 468.2h0M784.2 459h0M782 417.8h0M813.4 446.9h0M765.1 437.5h0M807.6 447.2h0M746.7 460.4h0M766.2 456.6h0M754.9 455.2h0M801 417.5h0M790.5 417.8h0M700.5 500.8h0M765.3 439.9h0M697.9 482.5h0M798 470.5h0M775 414.6h0M804.7 448.7h0M789.5 465h0M803.8 413.1h0M740.1 531.2h0M768.9 538.1h0M786.4 540.7h0M824.7 489.5h0M764.6 475.6h0M800 426.5h0M725.3 433.6h0M736.3 478.8h0M783.4 472.7h0M787.2 416.9h0M766.9 511.7h0M761.8 413.7h0M777.6 458.4h0M740.9 501.7h0M773.4 446.4h0M802.8 432.9h0M720.7 424.7h0M756.1 458.3h0M775.6 498h0M793 425.7h0M786.7 469.6h0M790.4 412.8h0M768.1 515.4h0M781.6 424.7h0M750.1 480.1h0M765.6 435.7h0M727.2 459h0M758.6 479h0M734.1 485.5h0M774.1 420h0M822.6 460.6h0M807.6 428.9h0M820.7 498.4h0M781.2 482.7h0M793.1 448.5h0M746 434.2h0M737.7 489.3h0M796.3 428.6h0M779.9 465.6h0M786 454.6h0M771 369.1h0M703.5 456.9h0M782.4 468.8h0M819.9 427.3h0M734.8 443.4h0M766.8 433.1h0M768.7 500.3h0M684 417.7h0M774.6 421.6h0M825.7 427h0M739.1 534.3h0M755.5 426.7h0M797.9 440.8h0M781.1 493.8h0M777.1 438.6h0M764.2 414.7h0M795.2 518.1h0M772.4 446h0M794.6 459h0M795.3 434.4h0M783.8 403.6h0M744.9 539.7h0M787 411.8h0M806.1 487.1h0M763 466.5h0M769.6 519.7h0M761.2 441.7h0M807.5 437.1h0M768.9 493.9h0M798.3 488h0M761.6 414.2h0M777.8 452.3h0M762.9 456h0M721.7 414.6h0M710.5 453.9h0M724.7 413.4h0M802.7 439.1h0M702.7 509.7h0M720 469.3h0M782.6 515.8h0M768.7 427.5h0M768.6 441.1h0M801.3 448.2h0M785.8 396.9h0M796.4 441.8h0M687 527.4h0M782.2 437.7h0M744.4 470.6h0M756.8 432.9h0M784.4 441.9h0M752.4 467.6h0M773.8 494.5h0M756.1 525.1h0M737.6 470.1h0M801.8 489.4h0M792.2 447.2h0M796.2 418h0M787 430h0M784 472.8h0M710 438.1h0M784.1 445.6h0M799.7 531.5h0M783.6 439.6h0M716.9 472h0M763.1 425.4h0M760.4 473.7h0M780.9 456.7h0M723.9 475.2h0M762 414.1h0M707 529.8h0M683.8 433.1h0M770.4 402.9h0M818.7 439.5h0M797.6 527.6h0M685.5 456.3h0M787.4 390.3h0M792.1 473.3h0M756.6 510.5h0M728.2 422.1h0M728.8 439.3h0M784.9 470h0M770.7 440.1h0M800.6 412.9h0M765.1 454h0M811.9 467.3h0M812.3 540.1h0M699.4 451.1h0M751.7 416.8h0M808 537.6h0M789 409.4h0M772.1 444.5h0M785.1 448.9h0M742 428.1h0M771.3 423.2h0M780.3 471.9h0M748.2 520.6h0M779 418.2h0M676.3 518.8h0M771.6 475.6h0M750.1 425.7h0M728.2 479.9h0M761.8 439.4h0M818.3 453.5h0M760.1 437.2h0M820.9 456.4h0M799.5 387h0M786.3 446.4h0M781.4 474.5h0M809.7 493.3h0M812.3 480.5h0M785.9 446.8h0M783.9 502.3h0M753.7 448.6h0M786.4 434.6h0M746.3 418.1h0M765.6 441.7h0M796.8 397.3h0M821.3 450.8h0M753.5 446.6h0M711.4 514.7h0M764.1 535.4h0M751 430h0M797.9 447.6h0M687.8 418h0M807.6 443.1h0M789.2 499.2h0M774.3 519.2h0M794.6 442.2h0M742.3 424.6h0M761.8 465.9h0M758 497.8h0M802.7 522.8h0M689.2 454.3h0M800.5 490.8h0M805.5 469.4h0M781 521.9h0M812.6 463.2h0M795 478.4h0M770.4 412.8h0M773.1 461.2h0M751.6 456.1h0M793 416.4h0M746.4 477.5h0M749.3 439.5h0M786 499.5h0M801.4 439.5h0M741.2 472h0M797.6 469.7h0M818.8 469.1h0M685.2 491.9h0M768.6 447h0M763.9 425.1h0M705.4 511.5h0M702.5 467.1h0M758.7 428.4h0M798.3 459.6h0M799.7 487.9h0M735.9 415.1h0M831.8 477.9h0M703.9 481.3h0M765.9 509.3h0M798.6 427.6h0M758.2 423.8h0M721.2 436.9h0M805.2 488h0M772.6 449h0M783.4 401.1h0M758.2 433.5h0M815.5 423.2h0M761.6 463.1h0M793.5 457.5h0M777.5 432.7h0M776.2 458.8h0M773 460.7h0M768.4 508.5h0M765.8 445.9h0M761.9 473.2h0M801.3 467.9h0M800.2 480h0M698.1 425.3h0M779.6 405.7h0M763.5 448.5h0M774.5 468.9h0M816 437.5h0M763.2 461.2h0M782.8 446.6h0M799.8 481.5h0M803.2 425.9h0M734 486h0M782.5 445.3h0M807.9 466.7h0M793.4 422.1h0M790.9 420.6h0M777.5 422.5h0M735.3 477.4h0M794.7 433.6h0M797.8 410h0M777.4 456h0M759.8 407.6h0M801.2 434h0M691.6 425.6h0M791 461.7h0M718.9 444.7h0M821.3 469.1h0M785.6 425.8h0M713.5 435h0M780.5 524.4h0M757.4 441.9h0M771.6 436h0M767.4 404.6h0M769.8 482.3h0M781.7 434.2h0M745.3 466h0M720.3 425.9h0M796.6 465.1h0M816 464.5h0M785.3 490.3h0M728.3 409.9h0M724.6 451.1h0M785.8 448.3h0M713.7 451.7h0M793.8 439.2h0M791.1 417.1h0M741.2 442.8h0M763.1 454.1h0M800.4 490.4h0M686.3 436.8h0M758.2 424.5h0M787.9 441.7h0M746.2 368.2h0M794.2 406h0M789.1 472.5h0M711.2 485.6h0M760.6 427.7h0M811.5 466.1h0M785.4 439.7h0M809.9 429.1h0M786.9 398.8h0M766.3 370h0M738.7 528h0M793.4 412h0M748 478.7h0M816.1 448.4h0M801.3 471.1h0M751.1 501h0M825.3 447.8h0M756.7 450.8h0M801.2 469.1h0M802.6 450.9h0M760.2 466.3h0M747.1 505h0M732.9 502.9h0M775.3 414.4h0M765 390.3h0M795 482.1h0M742.5 425.3h0M700.9 428.4h0M797 437.1h0M787.5 441.9h0M803.8 439.5h0M779.8 449.9h0M801.1 468.7h0M757.6 435.1h0M739.2 437.5h0M728.7 481.4h0M764.4 518.3h0M802 471.3h0M795.3 486.8h0M738.2 480.9h0M739 412.7h0M789.8 430.4h0M769.2 506.9h0M794.8 467.5h0M795 426.1h0M780 441h0M771.6 454.2h0M772.1 470.2h0M780.9 387.3h0M805.3 426.3h0M808.9 475.5h0M727.4 472.4h0M735.6 426.5h0M703.4 474.9h0M783.4 427.2h0M696.1 478.9h0M738.2 502.9h0M790.9 428.1h0M772.1 438.5h0M788.1 420h0M751.9 468.9h0M772.2 416.7h0M758 498.2h0M798.4 439.3h0M732.1 453.1h0M689.4 431.3h0M761.6 440.1h0M689.7 422.6h0M703.5 459.7h0M801.9 511h0M690.1 461.2h0M768.8 492.5h0M777.9 423.1h0M778 448.6h0M682.7 532.6h0M738.4 523.6h0"/><path d="M806.6 425.9h0M764.1 441h0M763 423.5h0M704.6 493.3h0M762 503.8h0M686.2 452.2h0M687.4 494.8h0M792.3 420.6h0M783.2 459.9h0M709.4 446.2h0M796.5 424h0M793.5 509h0M807.8 543.4h0M749.5 424h0M788.9 439.7h0M817.1 514.8h0M789.4 462.6h0M772.4 459h0M755.6 480.2h0M745.8 500.4h0M782.5 436.2h0M807.5 431.1h0M777.9 420.9h0M774.7 432.9h0M782.1 417.2h0M779.8 419.8h0M787.5 394.4h0M796.6 425.8h0M783 395.2h0M780.6 434.1h0M797.3 443.3h0M707.7 480.2h0M749.2 426.9h0M688.5 426.8h0M798.4 424h0M800.7 460h0M684.2 439h0M716.2 439.1h0M728.9 451.7h0M756.5 504.6h0M765.6 490.7h0M783.6 415.9h0M783.1 476.7h0M717 464.9h0M746.7 451.8h0M751.1 530.2h0M768.8 423.4h0M770.6 455.4h0M763.9 435.2h0M720.8 470.3h0M734.9 506.4h0M783.5 440.4h0M809.2 421.2h0M788.3 478.5h0M798.5 431.2h0M762 480.5h0M785.3 513.6h0M700.7 413.1h0M738.6 433.9h0M692.5 472.3h0M750.1 496h0M776.7 527.1h0M793.8 491.8h0M711.4 437.4h0M732.9 462.2h0M757.6 484.2h0M746.9 419.3h0M785.3 468.4h0M749.4 469.4h0M762.2 420.3h0M778.3 434.7h0M796.3 461.6h0M783.8 426.2h0M760.3 415.2h0M793.2 456.8h0M729.7 466.9h0M679.3 473.8h0M765.8 407.8h0M771.4 466.1h0M735 437.7h0M750.7 445.8h0M760.3 403.5h0M787.8 436.2h0M799.5 439.7h0M797.7 490.2h0M781.5 420h0M780.3 471.8h0M760.7 526.6h0M706.9 414h0M716.3 449h0M792.6 493.8h0M767 410.6h0M751.6 399.6h0M781.8 421.3h0M814.1 441.8h0M754.4 449.8h0M679.1 448.9h0M782.7 471.4h0M792.4 451.1h0M780 472.3h0M803.3 464.6h0M676.2 530.4h0M772.7 436.4h0M699.7 429.1h0M768 446.2h0M802.1 456.5h0M801.8 426.8h0M774.2 406.4h0M762.1 452.1h0M750.6 475h0M774.1 453.2h0M740.4 449.8h0M803.9 430.1h0M813 475.4h0M807.7 487.8h0M789.1 417.3h0M712.6 454.8h0M751.4 400.1h0M826.7 438.4h0M763.3 470.3h0M697.2 421.2h0M745.2 431.7h0M777.7 477.3h0M725.7 436.5h0M783.3 424.5h0M757.3 526.4h0M685.3 428h0M757.6 470.5h0M801.3 410.8h0M773.3 454.5h0M730.8 415.7h0M686 479.1h0M755.3 532h0M797.1 414.7h0M785.8 402.9h0M783.1 507.9h0M787.7 427h0M684.7 461.6h0M810.6 448.5h0M758.5 464.6h0M805.8 457h0M705.4 454.4h0M785.1 426.2h0M713.1 450.8h0M823.1 471.5h0M782 450.7h0M764.5 382.5h0M761.1 415.8h0M795.3 447.7h0M746.1 438.7h0M805.8 486.3h0M711.9 451.4h0M760.5 440.3h0M764.6 418.4h0M793.9 401.2h0M762.6 398.6h0M801.2 443.4h0M808.6 446.6h0M789.3 450.7h0M734.5 477.2h0M685.8 451.7h0M757.9 403.5h0M795 542.3h0M714.1 438h0M772 463.9h0M729.1 516.8h0M753.9 467.8h0M793.1 443.6h0M775.5 487.6h0M812 445h0M719.8 425.5h0M790.4 469.1h0M720.9 435.5h0M719.2 415.6h0M748.6 447.4h0M765.1 374h0M766.7 451.9h0M796.1 413.9h0M813.6 525h0M817.4 443.8h0M730.2 462.6h0M679.6 501h0M775.2 499.8h0M749.6 521.2h0M793.7 414.6h0M777.8 517.7h0M730 515.7h0M788.2 482.8h0M793.8 483.2h0M764 470.1h0M801.2 431.2h0M770 492.7h0M709.9 421.5h0M773.5 437.7h0M809.9 483.1h0M815.5 436.7h0M786.2 417.2h0M808 508.4h0M748.5 453.1h0M763.3 482.7h0M809.3 492.5h0M754 468.2h0M760.1 437.5h0M753.5 399.6h0M757.2 440.4h0M794.1 406.3h0M708.6 428h0M781.1 493.2h0M793.6 413.8h0M738.8 423.2h0M808.7 514.8h0M768.8 476h0M766.4 415.8h0M787.6 440.9h0M732.4 516.1h0M785.9 379.6h0M731.9 447h0M763.9 511.7h0M779.9 505.6h0M800 458.7h0M728 484.3h0M812.4 443.5h0M723.1 427.4h0M775.1 429.3h0M771.4 424.5h0M734 502.5h0M795.9 464h0M752.6 465h0M762.1 409.7h0M761.1 399.4h0M696.2 473.5h0M773.6 426.7h0M737.1 467.8h0M763.9 494.8h0M792.4 453.3h0M803.7 406.9h0M767.6 392.4h0M794.6 383.9h0M765.8 439.4h0M813.3 507.6h0M781.1 454.2h0M736.8 408.1h0M731.7 469.9h0M724.3 415.2h0M742.8 446.7h0M720.8 404.7h0M725.6 415.6h0M730.9 445.9h0M722.3 519h0M766 424.4h0M778.6 430.3h0M813.1 438.3h0M692.8 476h0M733.8 472.4h0M785.9 419.4h0M755.9 446.5h0M785.5 429.5h0M743.1 523.8h0M750.7 420.8h0M790.6 400.5h0M754.2 475h0M777.3 439.4h0M781.7 541.6h0M748.6 480.9h0M776.3 435.1h0M800.8 445.1h0M789.2 395.3h0M782.4 441.9h0M706.4 433.6h0M789.7 400.2h0M738.7 456.5h0M794.7 419.7h0M817.4 435.7h0M702.7 472.7h0M775.5 527.6h0M738.6 437.5h0M691 489.2h0M777.5 519.3h0M794.6 473.7h0M768.1 433.3h0M788.5 481.4h0M728.8 472.5h0M807.9 454.5h0M776.9 512.1h0M796.9 410.4h0M773.5 488h0M728.1 451.2h0M807.8 428.6h0M697.8 439.4h0M710.9 467.3h0M747.7 408h0M795.9 417.4h0M771 456.9h0M724 470.5h0M698.6 480.4h0M689.5 477h0M805.2 421.1h0M802.9 452.7h0M797.5 452h0M768.3 500.7h0M763.1 495.7h0M759.6 422.1h0M757.7 415.9h0M767.5 516.3h0M766 416h0M761.6 460.6h0M782.1 493.3h0M794.4 449.4h0M797.5 423.2h0M711.1 470.7h0M769.6 448.3h0M784 451.3h0M797.1 455.6h0M807 436.3h0M746.9 453.1h0M728.3 469.4h0M783.9 429.1h0M776.3 472h0M786.1 437.8h0M782.8 446.3h0M772.6 506.5h0M795.6 401.4h0M712.8 503.4h0M688.2 428.5h0M805.2 419.3h0M768.1 515.5h0M808.7 481.1h0M808.9 463.9h0M692.2 515.9h0M702.4 505.7h0M774.8 463.9h0M737.6 511.4h0M782.1 420.3h0M759.4 417.2h0M759.4 452.8h0M690.2 469.5h0M704.5 430.1h0M699 421.7h0M749.9 420.7h0M820.2 423.6h0M796.4 519.5h0M755.6 472.3h0M755.3 456h0M782.2 449h0M691.3 449h0M815.5 425.5h0M760.8 433h0M766.6 460.5h0M783.6 370.4h0M771.7 510h0M722.4 445.4h0M691.7 428.2h0M802.1 487.1h0M745.6 495.7h0M822.1 441.4h0M738.8 525.5h0M758.8 488.6h0M823.9 460.3h0M748 503.3h0M774.7 499.7h0M802 533.9h0M808 459.4h0M807.6 520.8h0M809.2 430h0M781.5 451h0M751.8 452.7h0M750.2 422h0M770.5 412h0M775 436.1h0M761.5 468.1h0M767.4 419h0M796 412.8h0M682.8 464.2h0M782.5 396h0M781.3 444.1h0M769.1 454.4h0M747 509.6h0M755.9 485.5h0M770.9 407.5h0M757 431.2h0M788.8 481.3h0M793.9 433h0M779.3 425.5h0M780.3 483h0M724.6 453.2h0M730.5 481.3h0M765.1 494.4h0M796.5 425.9h0M759.3 446.9h0M797.9 516.1h0M809.2 416.7h0M780.9 506.1h0M801.1 406h0M746.2 419.8h0M741.7 423.6h0M762.4 473.6h0M797.2 430.2h0M786.4 429.6h0M794.7 452.8h0M740.4 434.1h0M754.6 437.9h0M750.3 510.2h0M764.5 459.5h0M751.8 427h0M825.1 426.1h0M750 408.9h0M732.5 443.9h0M689.7 427.3h0M719.6 447.2h0M778 486.3h0M796.1 443.9h0M758.8 475.6h0M739.8 486.4h0M791.9 423.5h0M698.2 466.7h0M797.1 443.8h0M724.9 435.9h0M701.2 425.6h0M758.9 476.8h0M739.5 519h0M750.5 433.3h0M774.7 511.2h0M779 407.5h0M785.6 530.4h0M774.4 489.3h0M806.6 418.5h0M766.5 467.3h0M788.6 444.1h0M734.4 427.3h0M751.6 461h0M773.6 446.5h0M716.9 461h0M790.6 477h0M782.6 442.6h0M796.5 433.6h0M788.8 413.7h0M788.3 405.1h0M701.4 444.6h0M742.7 462.7h0M781.3 444.1h0M766 457.4h0M773.9 479.2h0M753.6 432.2h0M745.9 458.7h0M709.9 453h0M808.2 501.8h0M796.4 437.2h0M761.6 484.3h0M758.2 443h0M733.9 430.2h0M813 447.5h0M792.4 487.5h0M743.7 408.8h0M784.1 467.8h0M788.4 438.8h0M757.9 501.7h0M769.6 465.7h0M789.1 419.3h0M748 415.2h0M731.2 402.7h0"/><path d="M703.9 465.3h0M748.7 438h0M788.1 406h0M791.9 434.5h0M780.2 466.3h0M771.1 444.5h0M815.3 436.4h0M725 407.1h0M773.4 431.2h0M742.1 532.7h0M775.7 422.4h0M735.2 419h0M774.2 514.4h0M811.9 501.1h0M784.2 534.4h0M767.6 500.5h0M759.8 417.6h0M782.9 426.5h0M786.6 468.2h0M735 475.3h0M727.4 448.2h0M757.5 445.3h0M806.4 479.9h0M793.6 475.1h0M750.3 361.7h0M763.5 441.6h0M769.8 418.5h0M679 426.9h0M797 468.2h0M768.4 419.7h0M687.1 444.5h0M775 433.5h0M763.6 512.7h0M798.9 423.8h0M780 453.7h0M785.2 425.4h0M780.4 492.9h0M775.8 425.8h0M784.1 473.1h0M767.8 493.6h0M755.2 502.8h0M809.8 448.9h0M731.3 485.3h0M748.3 492.2h0M781.2 420.9h0M760.6 436.2h0M783.1 435.2h0M771.5 400.3h0M763.6 398.8h0M794 536.3h0M728.9 409.9h0M741.1 448.4h0M769.2 456.8h0M763.1 458.2h0M769.6 470.4h0M686 392.3h0M687.4 420.7h0M775 412h0M756.1 453h0M757.8 434.6h0M777.1 490.9h0M787.1 464.8h0M780.8 450.3h0M777.6 449h0M787.1 446.8h0M715.5 451.9h0M763.3 470.6h0M782 409.2h0M782.2 453.7h0M746.7 445.4h0M754.9 523.3h0M769.5 449.5h0M746.3 481.1h0M759.9 436.2h0M760 411.9h0M758.1 436.6h0M833.9 427.2h0M796.4 485.5h0M771.6 476.9h0M752.3 489.2h0M776.4 429.2h0M784.2 472.7h0M746.5 511.2h0M778.1 493.9h0M797.3 515.8h0M746.5 410.3h0M817.2 492.8h0M788.5 467.9h0M806.4 426.7h0M767.8 410.5h0M752.6 458.9h0M771.1 426.4h0M765.1 454.6h0M789.2 440h0M794.7 429h0M776.2 460.5h0M791.6 428.9h0M768.3 425.8h0M777.3 411.9h0M765 493.4h0M803.7 520.7h0M790.7 396.9h0M809.1 458.5h0M810.8 507.3h0M779.8 463.9h0M830.7 432.1h0M793.9 455h0M794.6 489.9h0M707.1 444.6h0M804.7 471.8h0M761.3 472.1h0M795 526.3h0M783 431.6h0M814.5 440.1h0M827 464.4h0M750.4 487.6h0M783.7 439h0M755 512.9h0M825.7 444.1h0M737.6 447.1h0M785 450h0M811.2 432.5h0M806 437.9h0M777.6 427.4h0M788.8 440.6h0M685.4 449.4h0M777.5 524.9h0M812.2 433.3h0M710.7 393.6h0M770.9 439h0M810.8 443.5h0M814.4 455.1h0M759.6 428.5h0M717.6 422.6h0M789.1 491.9h0M676.6 434.8h0M817.8 489.6h0M778.3 448.5h0M756.1 475.1h0M796.4 512.9h0M786.6 416.4h0M754.3 517.3h0M748.6 406.5h0M752.8 439.2h0M801 406.5h0M774 428.4h0M784.4 462.4h0M773.1 475.5h0M802.8 458.8h0M734.9 425.5h0M788.5 462.6h0M752.5 483.6h0M790.2 448h0M750.2 394.3h0M766.7 471.1h0M750.2 467.5h0M762.4 474.6h0M720.6 428.9h0M747.5 437.5h0M799.7 437.3h0M748.6 439.2h0M760.1 458.9h0M790.5 441h0M770.4 415.7h0M750.2 445.6h0M703 384.7h0M768.5 449.4h0M743.2 501h0M785.1 489.3h0M785.1 530.9h0M804 426h0M761.5 447.1h0M804.9 450.7h0M785.8 469.8h0M810.5 432h0M725.7 443.2h0M749.3 499h0M789.1 443h0M781.2 456.3h0M806.1 462.5h0M764.3 510.3h0M808.4 440.5h0M788 492.7h0M813.9 462.1h0M761.8 431.3h0M766.3 473.4h0M815.4 470.4h0M744.2 419.3h0M807.7 471.4h0M715.6 460.6h0M679.4 470.2h0M782.9 482h0M685.6 439.5h0M725.3 493.6h0M736.9 413.9h0M815.1 539.2h0M752.4 448.9h0M744.1 483.8h0M782 473h0M792.2 393.8h0M782.7 407h0M723.5 436.8h0M749.3 445.6h0M763.1 417.5h0M682.1 434.8h0M742.3 410.2h0M791.4 408.9h0M799 422.9h0M681.9 450.8h0M763.7 514.2h0M708.9 447.4h0M807.9 457.8h0M803 387.2h0M759.4 439.5h0M796.7 414.2h0M771.1 484.2h0M786.3 517.1h0M785.1 461.1h0M804.4 455h0M785.2 461.4h0M802.2 454.7h0M757 538.1h0M780.6 491.5h0M714.7 423.6h0M805.4 520.9h0M764.4 420.5h0M749.3 439.1h0M684.7 457.1h0M682.8 480.2h0M774.8 513.4h0M717 417.2h0M761.9 411h0M698.7 426.4h0M751.4 407.5h0M762.8 429.9h0M814.7 463.9h0M765.7 409.8h0M713.7 454.5h0M782.7 432.1h0M800.8 427.8h0M797.5 383.2h0M814.4 423.6h0M803.3 480.7h0M739.8 528.9h0M713.1 459.5h0M761.7 439.3h0M785 461.9h0M723.9 493.6h0M792.5 447.9h0M761.5 433.3h0M717.3 456.1h0M780.5 456.4h0M798.9 404.4h0M810.2 490.9h0M747.6 406.9h0M807.8 443h0M776.5 467.6h0M736.3 476.5h0M801.5 456h0M697.1 461.9h0M754 489.9h0M771.4 524.4h0M797.2 434.9h0M744.1 507.1h0M777.5 467.5h0M758.8 416.3h0M716.5 413h0M733.5 465.2h0M813.2 468.5h0M775.5 450.7h0M824.9 431.3h0M761.6 476.6h0M794.2 463.9h0M772.5 460.2h0M806.9 508.7h0M781.5 436.9h0M750.5 484.2h0M770.8 428.9h0M719 406.4h0M733 469.5h0M736.5 442.9h0M742.6 515.9h0M819.8 526.7h0M805.6 440.6h0M719.1 477.7h0M731.6 429.9h0M687.8 422.3h0M714.4 460.8h0M780.7 418.7h0M687.2 517.5h0M781.4 453.9h0M772.6 466.7h0M799.3 452.9h0M776.8 454h0M766.7 534.6h0M795 424.4h0M814.5 497.4h0M787.3 483.3h0M760.7 528.9h0M702.6 480h0M830.7 439h0M769.8 506.4h0M794.5 446.5h0M704.7 433h0M783.8 506.9h0M773.7 450.1h0M746.5 498.6h0M786.1 407.9h0M730 463.4h0M758.8 470.4h0M744.7 421.7h0M772.5 422.9h0M794.7 482.9h0M822.8 454.8h0M791.5 449.4h0M784.9 425.8h0M753 389.9h0M739.1 456.4h0M774.3 522.4h0M776.4 500h0M786.8 461.6h0M734.6 535.2h0M758.4 463.9h0M779 438.9h0M790.4 435.1h0M724.5 415h0M761.6 434.4h0M779.8 418.7h0M790.9 458.7h0M783.1 390.4h0M738.7 504.9h0M728.1 470h0M797.1 456.5h0M757 503.8h0M786.2 445.8h0M800 469.5h0M835.8 422.9h0M758.9 395.4h0M786.2 479.7h0M818.2 429.3h0M768.2 501h0M766.1 418.1h0M709.4 440.2h0M757.3 458.3h0M717.7 465.6h0M796.7 410.2h0M697.6 422.7h0M721.1 426.6h0M739.9 519.4h0M772.6 397.7h0M760.5 534.1h0M754.8 440.6h0M790.9 406.2h0M800.3 461.4h0M779.3 403h0M735.3 416.8h0M776.1 399.9h0M792.6 428.3h0M786.3 405.1h0M792.9 429.8h0M808.1 466.9h0M748.3 409.1h0M731.1 463.6h0M737.5 446h0M844.6 433.7h0M778.6 429.7h0M784.4 463.5h0M716.2 439.2h0M820.3 425.2h0M743.8 507.8h0M740.7 424.5h0M802.8 444.8h0M786.1 481.9h0M775.8 407.7h0M729.4 418.6h0M696.7 529.7h0M766.1 431.5h0M808.8 500.8h0M828.3 455.9h0M763.2 440.1h0M793.4 465.3h0M687 478.6h0M800.7 447h0M761.2 400h0M743.6 486.8h0M791.5 439.2h0M751.3 435.8h0M733.8 495.5h0M755.4 470.2h0M776.6 430.1h0M800.5 508.5h0M742.9 518.2h0M789 480.6h0M770.2 470.9h0M776.6 473.8h0M760.7 469h0M786.2 530.2h0M800.1 430.1h0M694.7 497.4h0M750 450h0M779.3 430.9h0M706.2 442.9h0M776.5 420.7h0M736.4 444.9h0M756.7 440.2h0M775.3 437.3h0M759.4 433.5h0M796.6 423.5h0M745.8 426.2h0M795.1 474.9h0M728.5 455.7h0M791.2 468.9h0M794.7 425.1h0M720.4 402.1h0M812.8 417.7h0M790.3 436.5h0M773.5 433.2h0M764.1 497.4h0M787.3 418.7h0M760.5 423h0M758.7 526.2h0M698.9 450.1h0M797.1 457.7h0M725.7 440.4h0M817.2 435.3h0M785.1 390.5h0M759.5 496.1h0M692.1 527.5h0M708.9 448.6h0M707.2 439.7h0M745.8 424h0M763.9 484.2h0M799.1 438.7h0M731.8 485.2h0M732.2 474.8h0M805.9 459.7h0M797.3 450.4h0M690 425.7h0M780.8 442.3h0M766.7 531.8h0M793.1 448h0M699.1 483.2h0M774.8 405h0M788.8 482.5h0M792.1 454.5h0M758.6 483.6h0M719.6 431.6h0M820.1 471.4h0M803.8 431.9h0M726 473.5h0M790.8 408.8h0M756.2 416.5h0M745.4 464.4h0M784 425.1h0M775 427.3h0M772.5 442.9h0M740.6 473.4h0M734.4 407.8h0M756.1 388.3h0M798.3 422h0"/><path d="M778.9 416.8h0M814.7 473.8h0M740.6 478.9h0M789.2 438.9h0M794.9 451h0M804.1 509.7h0M779.1 422.5h0M812.2 443.9h0M817.1 427.2h0M786.2 496.6h0M734.2 483.4h0M776.9 470.3h0M736.8 479.5h0M737.8 421h0M784.9 418.6h0M724.8 492.2h0M744.4 395.1h0M810 433.4h0M722.5 420.9h0M795.3 445h0M810.4 529.8h0M749 505.9h0M705.2 462.6h0M793.4 456.3h0M756.9 457.6h0M757.7 448.9h0M819.2 449.7h0M779.5 487.8h0M798.3 513.2h0M795.9 518.1h0M793.2 457.5h0M770.4 394.3h0M782.2 423.3h0M771.4 409h0M784.8 457.2h0M754.8 480.4h0M759.2 465.4h0M753.1 442.3h0M755.9 457.2h0M785.9 461.6h0M811.8 439.4h0M780.4 407.5h0M747.6 499.4h0M720.7 445h0M786.7 429.4h0M762.2 443.2h0M694.6 515.6h0M740.2 462.3h0M769.5 434.8h0M771.6 483.3h0M724.4 402.5h0M777.5 408.7h0M742.3 474.6h0M747.2 485.2h0M778.7 407.6h0M777.6 503h0M815.8 419.7h0M829 448.4h0M768.2 471.7h0M761.2 434.4h0M735.3 457.2h0M780.6 410.4h0M685 427.1h0M678.8 457.6h0M788.8 442.4h0M808.9 415.7h0M705.7 418.6h0M700.5 484.6h0M757.6 465.5h0M796 511.4h0M811.8 444.2h0M751 466.6h0M752.2 419.7h0M760.5 443.4h0M794.7 415.1h0M766.3 419.7h0M806.4 443.4h0M797.5 428.2h0M831.9 471.5h0M754.4 440.7h0M776.4 437.1h0M791.2 399.7h0M751.3 493.7h0M777.8 410.3h0M773.2 478.1h0M747.8 509.7h0M805.7 428.4h0M792.4 441.7h0M797.9 481.6h0M752.5 480.2h0M766 451.6h0M782.9 416.3h0M691.7 433.9h0M687.1 475h0M745.1 433.6h0M783.8 488.9h0M757.7 491.7h0M783.5 422.9h0M763.2 424.5h0M767.5 428.3h0M774.9 465h0M786.7 497.1h0M741.4 433.2h0M772 447h0M704.1 439.2h0M772.1 451.9h0M805.5 451.2h0M753.8 431.2h0M803 503.2h0M711.9 449h0M791.6 449.1h0M767.3 435.3h0M785.7 396.5h0M798.2 439.8h0M785.6 462.7h0M773.8 447.7h0M790.6 510h0M737.9 445.2h0M794.3 438.6h0M791.8 444.3h0M794.4 492.3h0M795.6 453.5h0M755.3 445.8h0M774.1 447.3h0M760 466.9h0M801 502.2h0M808.6 417.7h0M685.5 416.9h0M777.4 413h0M773.4 462.3h0M733.4 521.1h0M754.3 483.6h0M785.7 517.3h0M777.1 475.6h0M794.8 522.8h0M780.8 453.1h0M779.2 414.7h0M756.1 523.8h0M799.2 451.1h0M782.6 540h0M813 499.8h0M766.7 428.9h0M719 423.2h0M798.3 423.6h0M785 494.1h0M768.7 437.6h0M716.8 442.5h0M769 494.2h0M757.1 405.4h0M791.8 476.4h0M808.2 418.8h0M732.1 518.2h0M779.9 401.4h0M786.6 436.1h0M776.6 462.1h0M797.9 432.1h0M784.3 492.1h0M737.7 510.6h0M755 431.6h0M788.7 456.5h0M695.7 456.1h0M791.1 470.3h0M807.8 497.5h0M683.1 500h0M779.6 422.4h0M789.6 402.3h0M758.6 410.7h0M751.9 451h0M759.6 452.8h0M735.4 460.8h0M781.5 484.3h0M799.4 466h0M788.6 455.9h0M795.7 529.8h0M780.8 414.5h0M764.6 526.7h0M797.5 498.7h0M791.1 468.1h0M799.1 465.5h0M745 482.4h0M766.1 434.1h0M690.7 442.8h0M799 436.1h0M740.4 444.9h0M791.1 412.8h0M703.9 457.4h0M747 429.1h0M729.5 460h0M784.1 456.1h0M803.3 458.8h0M790.5 412.9h0M799.9 427.4h0M786.3 436.3h0M782.1 478.3h0M747.7 441.2h0M780.6 473.3h0M812 436.3h0M742.6 453.9h0M765.1 477.1h0M743.4 457h0M763.6 506.1h0M795.3 445.2h0M794.1 427.3h0M787.3 453.8h0M768.5 443.9h0M748.5 413.8h0M778.9 498.3h0M791.7 463.4h0M793.5 394.1h0M686 459.5h0M787.9 448.6h0M788.7 415.1h0M811.6 510.6h0M782.3 433.3h0M811.4 417.5h0M759 442.6h0M781.4 358h0M798.7 458.8h0M803.1 501.6h0M800.9 481.7h0M793 454.3h0M783.6 443.2h0M797.9 501.2h0M777.7 428.6h0M720.7 435h0M784.9 424.7h0M795.4 444.4h0M736.3 425.5h0M717.8 427.4h0M774.2 428.7h0M805.5 434h0M752.4 491.2h0M772.4 495.7h0M746.9 393.1h0M786.2 468.2h0M773.3 493.7h0M756 519.9h0M765.9 395.9h0M689.8 435.9h0M810.7 421.6h0M777.9 530.3h0M737.1 428.5h0M796 445.7h0M716.3 432.3h0M755.5 481.2h0M751.9 446.5h0M697.7 428.7h0M788 503h0M691.6 428.5h0M790.7 490.9h0M786.6 425.1h0M779.8 447.8h0M757.2 414.4h0M770.2 471.9h0M725 440h0M689.8 441h0M791.5 469h0M787.1 497.7h0M792.3 418h0M798.7 445.9h0M824.5 435.1h0M755 445.5h0M761.6 401.8h0M787.7 453.4h0M785.7 463.1h0M726.6 516h0M766.4 479.3h0M788.4 417.8h0M777.9 456.5h0M749.6 481.7h0M745.6 489.2h0M810.8 456.6h0M677.9 458.6h0M731.6 423.1h0M681.6 457.4h0M772.9 471.8h0M807.7 474.5h0M768.5 484h0M777.1 369h0M716.2 440.9h0M719.4 420.5h0M826.4 468.3h0M681.4 537.3h0M785.9 366.5h0M788.6 411.7h0M757 476.9h0M704 438.2h0M802.8 468.8h0M711.3 469.4h0M745.5 428.2h0M719.8 527.2h0M706.8 438.7h0M737.9 453.3h0M791.6 486.4h0M744.5 539.2h0M790.1 441.1h0M804.9 436.9h0M806.5 417.9h0M830.1 466.4h0M700 441.6h0M826 453.2h0M789.3 412.3h0M764.7 431.7h0M773.8 494.2h0M738 477.6h0M770.6 448.5h0M780.4 457.4h0M772.4 475.6h0M726.7 434.7h0M776.1 417.3h0M841.6 466.7h0M687.9 460.5h0M779 452.3h0M774.9 453.7h0M718.1 410.4h0M753.2 455.1h0M725.1 479.9h0M777.2 409.4h0M799.4 392.2h0M761.5 449.4h0M770 460.8h0M736.6 498.8h0M786 426.4h0M794.4 453.5h0M726.2 431.1h0M816.6 458.2h0M706.4 434.6h0M802 466.2h0M768.2 472.6h0M771.1 488.6h0M792.1 412.3h0M780.3 466.4h0M699.2 486.2h0M740.5 422.2h0M709.1 451.5h0M846 423.9h0M800 457.6h0M789.6 519.6h0M778.6 456.4h0M796.6 392.5h0M776.9 399.2h0M738.1 472.3h0M808.7 422.9h0M745.3 456.4h0M772.6 424.1h0M773.7 473.7h0M758.3 457.6h0M750.2 522.8h0M745.6 483.8h0M754.2 476.4h0M781.5 492h0M777 434.3h0M816.8 440.7h0M779.2 471.6h0M775.2 437.4h0M793.5 432.2h0M807.7 464.9h0M726.7 420.9h0M681.3 428.8h0M742.5 441.7h0M692.1 442.2h0M792.2 431.1h0M764.8 440.2h0M814.6 475.1h0M732.6 436.1h0M799.3 472.6h0M777.7 505h0M715.7 433.9h0M711.6 467h0M723.8 428.5h0M794.9 434.5h0M735.3 512.9h0M780 412.5h0M773.4 471.5h0M737.5 410.5h0M768 439.4h0M813.1 423.6h0M816 420.2h0M742.6 440.5h0M685.2 472.3h0M689.7 503.8h0M734 449.5h0M736.4 496.4h0M734.9 429.7h0M790.4 448h0M772.3 488.5h0M828.1 428.6h0M802.2 442.1h0M749.4 412.2h0M765 426.4h0M778.8 501.8h0M760.3 446.9h0M781.1 462.8h0M736.9 455.5h0M743.3 432.4h0M767.7 425.4h0M769.5 455.5h0M777.8 455.5h0M770.2 494.4h0M751.1 473.7h0M680 427.2h0M796 516.4h0M792.3 473.3h0M738.9 451.6h0M769.5 510.8h0M761.2 469.9h0M763.9 456.5h0M832 470.2h0M728.2 407.7h0M777.2 434.2h0M752.3 455h0M774.9 425.9h0M704.2 470.6h0M742.4 470.1h0M791.1 436.5h0M796.9 406.9h0M709.2 425h0M719.9 424.7h0M705.5 423h0M777.5 492.2h0M746.9 387.4h0M769.9 500.7h0M796.4 408h0M767.4 442.3h0M763.1 434.5h0M785.9 465h0M768.4 436.6h0M751.2 404.5h0M813.2 507.4h0M806.8 503.3h0M760.2 466.6h0M768.2 467.6h0M763.2 405.5h0M720.2 465.7h0M798.3 441.4h0M727.4 431.5h0M799.1 443.2h0M784.6 472.1h0M758.1 441.6h0M778.1 480.7h0M810.3 376.2h0M733.8 409.9h0M690.9 421h0M760 448.4h0M780.3 418.3h0M805.2 503.3h0M805.3 466.7h0M721.5 502h0M733.9 515.8h0M804.5 419.4h0M808.4 462h0M772.9 448.2h0M788.7 419.3h0M780 415.3h0M760.9 476.7h0M791.2 446.7h0M796 474.3h0M792 446.5h0M774.9 512.9h0"/><path d="M799.8 408.6h0M763.2 480.8h0M798.1 406.3h0M761.6 440.5h0M772.6 433.9h0M789.5 463.6h0M801.1 413.9h0M709.5 415.6h0M748.8 430.1h0M764.3 518h0M808.2 482.1h0M798.3 519.4h0M779.5 518h0M783.7 495.4h0M771.5 447.1h0M793.4 474.1h0M813.7 483.9h0M791.4 521.8h0M785.5 501.3h0M776.4 463.1h0M790.7 430.8h0M779 407.7h0M755.2 442h0M817.2 422.5h0M795.9 507.4h0M745.3 415.1h0M820.6 447.6h0M801.7 429.7h0M786 481.7h0M798.9 436.1h0M719.1 422.7h0M754.4 441.8h0M765.2 418.7h0M762.9 439.5h0M792.1 449.1h0M719.7 448.1h0M754.5 471h0M819.3 429.5h0M799.7 480.6h0M768.8 480.2h0M786.2 442.8h0M782.1 442.5h0M740.9 435.2h0M778.1 385.4h0M793.1 443.8h0M764.3 413.3h0M744.3 399.6h0M778 420h0M745.6 484.1h0M770.4 409.8h0M808.6 447.1h0M748.8 479.9h0M729.7 454.6h0M691.5 457.3h0M774.3 454.4h0M740.7 422.6h0M802.8 452.5h0M792.4 468.4h0M717.6 450.2h0M752.5 528.3h0M780.2 414.5h0M724.9 403.8h0M749.2 397h0M781.6 484.4h0M713.4 475.3h0M814.5 487.1h0M777 476.3h0M678.7 508h0M694 428.9h0M797 435.2h0M816.5 494.4h0M814.7 425.3h0M801.2 440h0M769.2 460.8h0M681.3 450.5h0M757.9 509.5h0M758.7 509.9h0M765.8 431.4h0M798.4 523.8h0M744.8 471.7h0M696.4 433.9h0M789.4 491.1h0M803.1 447.8h0M745.2 405.4h0M742.2 472.5h0M764.3 526.8h0M729.7 423h0M758.7 393.6h0M766.3 498.1h0M695.8 468.6h0M774.5 424.8h0M728 457.4h0M808.4 453.4h0M765.3 461.9h0M782.3 460.7h0M796.9 439h0M753.4 483.2h0M782 417.5h0M794.3 450.6h0M791.2 450h0M787.8 406.4h0M757.2 425.2h0M768.8 439.6h0M804.1 448.3h0M766.7 487.4h0M813.2 455.9h0M799.9 513.8h0M766.8 532.1h0M737.7 445.7h0M751.1 402.7h0M802 506.7h0M762.8 401.3h0M714.2 413.4h0M783 411.2h0M742.1 439h0M771.8 459.1h0M765.3 407.6h0M773.1 457h0M713.7 461.5h0M786.4 422.5h0M797.2 485h0M772.2 401.7h0M764.5 426.7h0M764 434.9h0M783.5 417.2h0M768.3 383.7h0M796.3 525.5h0M701.3 425.4h0M798.1 452.3h0M768.9 467.6h0M781.7 531.4h0M760.5 509h0M759.2 430h0M758.3 401.8h0M689.6 425h0M789.5 442.2h0M846.2 502.5h0M690.9 434.5h0M757.2 427.5h0M820.3 542.7h0M783.1 493.5h0M778.5 458.7h0M777.4 419.3h0M792.8 426.5h0M770.1 390h0M808.3 423.9h0M754.8 463.9h0M746.3 457.4h0M772.6 398.2h0M768.7 478.8h0M805.3 535.6h0M775.2 542.9h0M782 449.4h0M757.3 516h0M801.6 392.8h0M718.6 419.7h0M698.1 467.4h0M768.2 454.7h0M738.9 455.3h0M796.2 410.6h0M713 505.1h0M752.9 533.8h0M813.9 465.8h0M808 427.5h0M791.4 431.5h0M793.8 428.3h0M790 403.3h0M810.7 482.6h0M790.9 405.9h0M744.5 503.3h0M776.3 514.4h0M732 481.1h0M772 467h0M693.8 521.2h0M678.8 477.4h0M723.3 472.9h0M768 434.2h0M777.6 455.4h0M783.6 487.4h0M774.7 473.6h0M784.7 472.5h0M820.5 466.4h0M774.6 363.1h0M676.9 444.5h0M753.4 535.6h0M819.3 434.1h0M762.9 454.4h0M700 460.8h0M788 470.8h0M746.2 463.3h0M765 517.4h0M789.2 526.3h0M802.7 458.3h0M795 444.6h0M773 423.9h0M778.5 487.1h0M748.3 432.1h0M744.6 402.1h0M755.2 395.5h0M780.4 461.8h0M683 487.5h0M751.4 449.2h0M722.9 472.3h0M757.1 416.8h0M840.3 451.2h0M821.4 463.7h0M749.5 446.6h0M774.3 458.5h0M770.8 394h0M763.7 498.1h0M741 432.3h0M820.7 534.2h0M766.8 452.6h0M762.8 429.9h0M735.7 494.5h0M773 465.5h0M750.9 426.3h0M692.4 454.2h0M785.2 470.7h0M747.2 430.7h0M777.4 470.2h0M797.6 396.8h0M770.1 446.2h0M755.4 491.1h0M774.8 453.2h0M774.7 495.1h0M753.3 464h0M720.6 464.4h0M813.9 523.5h0M776.6 438.5h0M796.4 473.7h0M830.4 446.7h0M790.3 412.1h0M741 404.7h0M722.7 459.5h0M764.2 443.8h0M783.5 446.4h0M722.6 404.6h0M747.8 507.5h0M791.8 464.2h0M830.3 450.6h0M745.1 409.4h0M768.3 414.5h0M799.1 408.2h0M810.7 431.6h0M795.1 421.3h0M796 438.4h0M723.2 436.5h0M778.8 454.3h0M802.2 433.4h0M774.3 476.1h0M789.1 418.5h0M757.9 423.2h0M788 429.5h0M782.9 405h0M706.5 475.9h0M784.8 480.3h0M754.3 455.7h0M800.4 427.9h0M774.8 540.6h0M783.6 459.6h0M818.5 421h0M796.2 434h0M766.2 421.4h0M741.6 479.7h0M697 493.9h0M793.8 487.2h0M798.1 475.6h0M755.8 423.7h0M792.7 408.4h0M800.5 514.4h0M741.8 464.3h0M767.2 439.2h0M769 484.2h0M762.9 463.3h0M726.3 420.1h0M818.1 446.1h0M708.1 486.3h0M786 528.5h0M780.2 408.8h0M806.6 538.6h0M717.3 414.5h0M812.5 467.1h0M776.4 425.1h0M785.6 442.9h0M802.4 450.2h0M769.3 471.4h0M747.2 457.3h0M711.6 455.7h0M754.6 447.3h0M737.9 444.3h0M791.4 465.3h0M794.1 502h0M771.1 505.9h0M731.4 456.8h0M736.2 440.1h0M785.1 466h0M811.5 505.5h0M793.8 451.9h0M762.2 412.1h0M781.9 466h0M791.7 473.7h0M763 474.1h0M694.2 395.9h0M737.8 452.2h0M812.1 447.7h0M761.9 482.7h0M788 496.1h0M712.3 487.7h0M748.6 537.5h0M780.4 446.9h0M796.7 523.7h0M754.6 423.4h0M777 438.7h0M711.1 492.8h0M697.6 478.7h0M717.5 411.8h0M704.5 451.1h0M696.1 445.6h0M752.5 454.4h0M773.2 421.8h0M727 427.5h0M720.1 462.2h0M755.2 477.1h0M782.1 479.3h0M797.8 472.4h0M785.9 456.4h0M758 464.1h0M787.5 474.7h0M779.9 477.4h0M770.2 424.1h0M782.2 489.8h0M769.7 461.4h0M719 476.6h0M760.6 459.5h0M728.4 477.1h0M764.1 408.8h0M752.1 422.9h0M771.3 437.3h0M815.5 435.9h0M738.4 431.2h0M785.8 423.9h0M772.6 450.5h0M746.4 423.8h0M806 464.2h0M821.1 480.2h0M790 462.5h0M812.1 486.1h0M784.4 436h0M784.1 477.8h0M735.3 431.4h0M760.1 426.4h0M732.5 430.9h0M781.6 438.6h0M719.3 462.5h0M796.3 415.9h0M821.4 484.3h0M687.4 439.4h0M751.3 507.9h0M798.2 438.5h0M801.3 463.6h0M773.9 416.8h0M793.2 493.8h0M795.1 373h0M773.9 433.2h0M773.2 497.8h0M803.9 421.4h0M779.7 467.6h0M754.5 454.7h0M740.8 430h0M746.8 443.2h0M769.2 453.8h0M721.4 447.3h0M677.5 528.7h0M758.2 454.6h0M776.3 402.2h0M700.2 462.9h0M776.8 521.5h0M792.3 505.4h0M789.5 419.6h0M767 455.2h0M757.6 429.2h0M776.9 506.2h0M752.5 431.1h0M809.9 420.2h0M809 436.5h0M775.8 411.7h0M798.2 428.1h0M764.9 493.1h0M728.5 421.1h0M781.7 441.8h0M719.6 478.8h0M676.5 453h0M779.5 452.4h0M792.8 491.3h0M748.6 448.1h0M764.9 431.4h0M729.3 422.8h0M809.3 466h0M721.9 389.4h0M743.5 440.7h0M811.7 415.9h0M790.2 426.6h0M793 422.4h0M756.1 442.4h0M812.5 434.9h0M794.6 498.2h0M732.6 416.9h0M796.6 452.1h0M779.8 472.7h0M804.7 415.9h0M747.7 489.9h0M813.1 432.3h0M767.6 460.8h0M810.9 493h0M793.8 440.8h0M773 470.5h0M718.6 422h0M813 419.4h0M766.6 457.1h0M790.8 443.3h0M795 488h0M791.7 405h0M787 472.4h0M732.3 457.6h0M728.3 466.9h0M738.6 413.5h0M772.8 408.9h0M753.9 465.3h0M769.6 397.8h0M769 434.9h0M726.7 453.6h0M726.5 420h0M791.2 487.8h0M764.1 492h0M780.5 494.3h0M773 447.1h0M728 499.8h0M780.6 421h0M807.5 475h0M760.3 510.2h0M761.9 424.2h0M814.4 435.1h0M741 525.1h0M748.5 385.4h0M806.3 431.3h0M798.2 448.9h0M791.1 488.8h0M754.1 486.5h0M771 510.3h0M801.8 442.1h0M763.1 460.5h0M769.7 414.7h0M776.4 476.4h0M774.1 505.1h0M726.9 437.6h0M725.8 460.3h0M820 428.3h0M747.7 493.7h0"/><path d="M775.7 510.4h0M745.3 418.7h0M802.6 537.6h0M786.4 417.2h0M755.8 422.6h0M765 434.9h0M717.5 473.3h0M744.2 505.1h0M762.8 503.2h0M788.6 485.9h0M786.3 450.1h0M733.7 429.9h0M784 462.9h0M777.1 436.4h0M794.7 444.7h0M774.9 483h0M799.6 510.6h0M768 419.1h0M767.6 419.9h0M795.3 457.8h0M701 415.6h0M788.1 483.1h0M810 484.2h0M788.4 459.4h0M727.3 440.6h0M775.2 475.9h0M797.4 497.4h0M824.4 474.2h0M764.3 461.2h0M789.7 525h0M771.5 440.9h0M818.3 423.3h0M688.9 488.4h0M759.7 407.6h0M811.3 504.3h0M815.8 462.8h0M789.5 413.8h0M783.5 448.6h0M757.8 440.9h0M791.9 442h0M788.2 410.8h0M800 489.7h0M805.2 410.1h0M706 522.8h0M806.4 487.5h0M726.6 443.1h0M775.1 433.7h0M817.6 424.3h0M772.6 438.3h0M825.1 530.1h0M807.4 430.9h0M799.6 414.9h0M720.5 448h0M796.8 457.3h0M778.8 460.5h0M781.2 414.2h0M799.1 435.3h0M797.1 447.6h0M762.6 420.6h0M796.3 439.1h0M741.1 420.4h0M769.5 471.3h0M814.7 464.1h0M754.1 417h0M714.9 481.6h0M768 423.3h0M782.1 483.2h0M803.7 415h0M733.5 520.4h0M715.3 526.2h0M774.7 428.8h0M756.2 412.8h0M730.8 434.3h0M798.4 468.4h0M775.7 467.2h0M767.9 421.2h0M764.1 407.2h0M813.8 442.5h0M750.5 472.7h0M763.3 449.3h0M802.5 464.1h0M789.7 431.5h0M728.3 435.6h0M793.1 520.4h0M750.9 439.9h0M801.1 495.3h0M807.2 421.9h0M751.4 436.3h0M681.4 450.7h0M802.4 391.8h0M784 407.5h0M807.4 431.4h0M761.1 467.9h0M807.2 505.5h0M787.1 473.4h0M724.8 474.7h0M775.5 533.8h0M735.3 446.5h0M795.4 452.2h0M808.2 499.9h0M764.2 444.7h0M717 451.2h0M795 496.8h0M771.7 444.8h0M756.8 425.5h0M800 433.3h0M716.3 414.4h0M752 466.2h0M752.9 442h0M757.9 424.1h0M786.3 511.5h0M726.4 481.3h0M766.8 398.2h0M772.1 490.5h0M706.3 431.8h0M740.6 447.6h0M679.1 432.7h0M793.4 514.9h0M698.6 471.6h0M780 481.9h0M821.4 442.5h0M810.3 424h0M784.9 419.5h0M809.2 478.6h0M784.5 457h0M757.2 448.9h0M770.4 516.8h0M764 421.1h0M735.3 447.5h0M689.5 413.8h0M797.9 463.6h0M793.6 399.3h0M772.9 466.1h0M702.7 461.8h0M752.2 502.2h0M799.3 516.8h0M782.5 403.2h0M785.2 457.6h0M774.4 469h0M800.7 440.4h0M806.5 446.1h0M804.3 490.2h0M788.1 456.4h0M759.8 410.3h0M831.3 534.6h0M784.5 457.9h0M716.3 420.6h0M782.2 455.1h0M734.3 431.9h0M766.6 416.2h0M768.1 458.4h0M805.8 445.8h0M765.5 450.7h0M684.8 422.3h0M758.5 386.6h0M716.9 448.2h0M816.3 444.3h0M799 426.1h0M799.8 456.4h0M771 441h0M809.4 454.1h0M738.6 445h0M796.6 411.9h0M811.5 434.4h0M797 444.5h0M718.3 418.6h0M754.1 460.7h0M807.8 516.2h0M712.3 469.7h0M747.7 456.4h0M706.4 492.4h0M753.8 531.8h0M818 438.7h0M814.4 481.5h0M723.9 437.5h0M731.1 433.5h0M786.9 399.5h0M796.4 425h0M719.2 479.2h0M749.7 516h0M792.7 445.1h0M815.2 433.7h0M776 443.5h0M814.5 493.4h0M772.2 528.8h0M761.3 453.5h0M799.3 438.9h0M740.1 487.9h0M744.1 516h0M765.4 485.5h0M793.2 490.4h0M804.4 463.8h0M776.8 458h0M772.5 418h0M745.1 453.4h0M804.6 457.6h0M760.8 453.8h0M793.2 428.4h0M827.4 449.4h0M820.3 476.6h0M787.3 454.6h0M743.5 508.8h0M822.2 432.3h0M730.4 463.8h0M764.1 417.2h0M741.9 425h0M795.6 457.4h0M806.3 441.3h0M753 426h0M766.1 446.2h0M813.7 459.4h0M742.3 404.2h0M681.6 442.1h0M798 460.2h0M751.7 465.4h0M783.7 478h0M785.5 491.2h0M693.2 448.4h0M815.7 449.1h0M728.4 444h0M760.2 449.5h0M743.1 479.3h0M737.4 458.6h0M766.9 429.7h0M777.4 466h0M734.8 434h0M763.8 426.3h0M788.8 494h0M792.4 476.5h0M779.5 446.7h0M710.8 403.7h0M697.3 439.3h0M778 428.3h0M781.6 416.9h0M806.7 414.4h0M792.4 441.6h0M750.4 418.1h0M782 475.2h0M805.6 452.4h0M773 410.2h0M769.1 457.8h0M700.8 473.1h0M741.3 434.3h0M711.1 440.9h0M738.5 505.1h0M746.4 464.5h0M775.1 501.9h0M786.3 408.1h0M732.9 415.2h0M787.6 432.9h0M778.2 462.4h0M811 439.8h0M742.9 429.7h0M727.8 444.9h0M784.2 502.4h0M790 432h0M786.3 420.4h0M803.8 414.5h0M725.2 445.1h0M785.3 475.6h0M722.1 417.3h0M688.1 429.2h0M714 417.5h0M804.5 464.8h0M773.2 420.2h0M774.4 376.4h0M810.2 429.4h0M684.6 467.2h0M679.7 480.3h0M788.5 437.1h0M777.8 416.7h0M794.2 403.6h0M824.3 465.5h0M768.3 441.8h0M753.2 446.8h0M745.6 442.2h0M760 408.8h0M777.5 501.4h0M758.1 406h0M771.1 438.3h0M800.6 503.5h0M816.7 465.8h0M782.4 529.2h0M756.1 445.7h0M737.6 442.9h0M768 537.5h0M686.4 469.5h0M755.8 498.1h0M794.6 436.1h0M746.2 405.3h0M702.7 436.6h0M751.7 490.1h0M770.6 436.8h0M770.1 427.9h0M810.6 432.6h0M798.2 432.1h0M773.5 434.5h0M781.2 494.4h0M786.2 476.2h0M767.9 493.3h0M781.5 440.4h0M744.2 399.1h0M743.9 437.9h0M708.1 469.4h0M709 431.3h0M782 467.6h0M781.6 431.4h0M793.8 518.6h0M772.6 459.3h0M783 470.7h0M718.1 460.1h0M714.9 416.4h0M782.7 447.9h0M802.4 454.2h0M820.4 445.5h0M730.2 453.5h0M725.5 434.4h0M783 514.4h0M778.5 436.7h0M713.3 413.7h0M757 457.1h0M797.5 424.5h0M774.3 420.1h0M700.6 490.2h0M727.8 411.3h0M768.5 438h0M789.9 464.1h0M765.4 478.6h0M779.7 493.6h0M753 398.5h0M799.3 477.4h0M811.9 483.5h0M775.8 410.3h0M759.1 475h0M788.5 441.7h0M779.6 439.3h0M792.8 540.6h0M780.4 438.4h0M777.4 451h0M762.1 440.4h0M752.9 517.7h0M739.6 432.2h0M763.7 426.6h0M771.9 413.7h0M678.1 471.1h0M790.4 409.6h0M749.1 488.7h0M763.6 494.5h0M769.6 457.5h0M767.9 415.7h0M752.6 515.3h0M810.6 460h0M746.1 534.1h0M758.5 469.9h0M731.6 422.4h0M792.1 492.6h0M764.3 506.4h0M813.9 461.7h0M775.2 485.5h0M757.8 433.3h0M751.7 448.7h0M685 501.4h0M773.4 394h0M810.9 444.7h0M749.7 425.7h0M704.5 413h0M770.1 487h0M813.1 446.3h0M783.5 420.5h0M782.1 520.4h0M796.2 470.7h0M795.4 468.1h0M804.2 441.6h0M749.1 495h0M785 530.7h0M789 483.6h0M742.5 517.9h0M829.7 535.6h0M749.5 457.7h0M745.3 485.4h0M767.8 406.1h0M793.9 374.8h0M712.1 438.5h0M771.5 443.1h0M700.6 416.6h0M757.2 530.6h0M799.8 440.5h0M732.7 450.1h0M734.2 420.8h0M804.1 442.9h0M824.5 502.7h0M794.9 394.9h0M824.7 499.7h0M765.4 410.5h0M746.8 486.6h0M742.4 416.4h0M726.9 454.4h0M781.6 436.1h0M777.4 502.7h0M790.3 456.4h0M730.1 527.6h0M820.4 521.9h0M799.3 517.4h0M795.1 425.5h0M733.4 458h0M745.1 445.8h0M807.4 432.4h0M772.5 390.8h0M793.2 426.5h0M791.4 424.6h0M719.1 434.7h0M744.4 462.4h0M793.8 509.6h0M763.2 454.7h0M700.1 444.8h0M773.5 496.3h0M790.2 514.2h0M770.6 431.3h0M809.2 526.7h0M749.4 467.5h0M749.8 490.9h0M804.7 375.6h0M795.3 440.1h0M785.4 455h0M782.9 459.2h0M774.1 465.5h0M773.8 404.8h0M809.2 537.4h0M731.8 400h0M779.1 473h0M820 491.3h0M709.4 518.3h0M751.1 417h0M803.3 488.9h0M705.3 502.4h0M775.3 447.7h0M767.3 437.1h0M812.2 362.8h0M738.8 452.2h0M719 492.8h0M772.8 398h0M758.6 501.2h0M769.2 499.6h0M784.4 482.9h0M789.3 417.8h0M732.9 426.2h0M753.1 433.1h0M770.9 462.7h0M747.2 435.6h0M797.5 443.5h0M723.8 497.7h0M771.4 484.3h0M791.3 427.9h0M802.5 481.9h0M742.5 471.4h0M686.4 441.3h0M730.4 385.7h0M739.5 436.3h0M797.8 454.3h0"/><path d="M764.9 490.5h0M773.1 404.6h0M717.9 504.2h0M765.6 453.7h0M758.2 446.4h0M778.7 536.1h0M748.7 412.1h0M779 419.8h0M718.4 405.6h0M757.9 469.7h0M799.9 438.9h0M790.1 454.7h0M790.3 411.9h0M778.8 429.6h0M768.8 393.9h0M805.9 429.2h0M738 453.3h0M808.8 461.6h0M768.2 430.9h0M745 428.1h0M704.7 434.5h0M790.7 447.7h0M760.1 443.5h0M685 465.4h0M746.1 536.7h0M814.2 423.3h0M771.1 449.3h0M761.5 455.3h0M782.7 422h0M716.9 455.8h0M798.7 457.8h0M686.8 470.9h0M751.1 501.3h0M791.9 369.7h0M748 434.8h0M765.2 406.3h0M801.9 503.3h0M742.5 426.3h0M730.6 424.3h0M774.8 457.6h0M789 448.2h0M773.6 481.4h0M770.7 416h0M807.1 416.7h0M812.6 472.1h0M781.3 412.7h0M744.2 479.7h0M756.9 428.6h0M777 441.9h0M725.2 508.9h0M771.4 451.1h0M774.4 400.9h0M796.8 465.4h0M731.8 516.5h0M704 429.4h0M710.1 520.6h0M734 416.5h0M680.5 447.6h0M776.6 430.7h0M771.2 488h0M753.9 425.3h0M786.1 450.4h0M751.5 427.7h0M787.2 483.8h0M782.2 460.5h0M735.5 466.4h0M795.1 424.5h0M767.9 439.2h0M757.8 451.9h0M773.6 433.3h0M793 509.2h0M690.7 459.8h0M813.5 510.2h0M797.9 449.6h0M711.2 404.1h0M772.6 469.5h0M796.2 469.7h0M752.7 431.6h0M795.5 510.4h0M797.3 413.5h0M790.6 423.9h0M759.5 436.9h0M794.6 446.8h0M791.9 467.8h0M762.2 474.8h0M774.7 529.1h0M820.8 431.9h0M694.2 439.8h0M760.3 430.2h0M752.1 393.6h0M770.6 471.5h0M775.9 467.3h0M711.9 485.4h0M743.2 442.7h0M768.6 423h0M779.5 439.6h0M693.6 414.5h0M768.9 429.9h0M771.5 434.1h0M807.4 438.7h0M770.6 483.4h0M803.8 418.6h0M783 423.2h0M791.2 464.3h0M812.2 468.9h0M789.1 367.2h0M779 420.8h0M740.6 457.1h0M702.5 491.2h0M777.1 485.8h0M760.3 472.5h0M693.9 422.9h0M776.1 488.4h0M791.9 482.5h0M782.2 448.4h0M794.4 410.6h0M781.7 465h0M814.9 455.3h0M793.2 464.7h0M713.4 426.7h0M721.9 453.1h0M711.4 444.1h0M760.4 441h0M698 510.1h0M753.2 456.8h0M798.4 529.6h0M753.7 460.5h0M795.2 510.6h0M782.1 454.5h0M758.5 377.8h0M789.2 444.2h0M761.2 447.3h0M696.7 463.9h0M798.7 444.7h0M807.4 480.6h0M789 412.7h0M788.8 530.2h0M699.5 511.2h0M676.3 542.8h0M709.8 446.6h0M741.4 417.6h0M798.5 427.2h0M685.9 432.5h0M792.1 476.6h0M771.1 527.9h0M726.7 463.5h0M783.2 417.9h0M714.8 458.9h0M684.6 388.8h0M788.5 494.3h0M783 452.3h0M800.5 429.3h0M830.1 528.6h0M764.7 453.8h0M761.1 401.7h0M793.3 538.1h0M782.7 501.1h0M793.4 400.6h0M783.4 489.4h0M740.6 426.9h0M697.2 421.5h0M752.4 520.5h0M728.2 512.2h0M815 514.2h0M785.7 431.3h0M772.6 397h0M797.8 460.4h0M777.1 480.5h0M810.5 462.5h0M774 513.2h0M785.6 421.8h0M773.9 479.3h0M825.9 469.9h0M720.7 443.9h0M822.1 495.9h0M788 417.8h0M773.4 445h0M779.2 416.9h0M792.8 522h0M730.7 497.2h0M769 485.2h0M746 457.9h0M835.7 463.7h0M743.7 503.7h0M785 471.2h0M779.7 421.2h0M748.4 428.7h0M764.1 523.8h0M777.7 479.9h0M790.5 474.5h0M726.4 435.9h0M765.6 543.4h0M761.6 425.8h0M768.4 450.7h0M777.3 438.8h0M746.2 457.9h0M790 427.4h0M770.8 453.8h0M781.2 484.9h0M747.1 529.2h0M753.5 534.9h0M748.1 464.1h0M792.5 498.6h0M764.2 433.2h0M761.9 404h0M710.9 510.4h0M794.4 461.1h0M756.6 525.9h0M738.2 426h0M778.6 414.6h0M771 404.5h0M790.8 516.6h0M807.7 498.4h0M796 434.2h0M730.3 479.9h0M803 468.5h0M701.2 436h0M742.4 442.9h0M717.8 434.8h0M789 438h0M806.6 451.8h0M746.5 519.8h0M761.3 395.7h0M753.6 384.3h0M761.7 418.1h0M766.7 434.5h0M771.7 496.4h0M798.5 442.7h0M815.3 458.3h0M794.4 444.3h0M744.3 437.5h0M760.1 506.3h0M762.9 473.1h0M771.8 450.4h0M781.9 421.1h0M777 440.3h0M757.8 413.1h0M759.9 417.7h0M793.6 470.7h0M779.3 460.7h0M794 460h0M764.8 389.9h0M728.7 407.7h0M766.3 422.3h0M791.6 388.9h0M743.2 455.3h0M816 524.6h0M798.3 441.4h0M728.1 416.1h0M742 442.5h0M804.5 409.4h0M760.5 415.8h0M705.7 447.4h0M797.3 488.9h0M780.1 453h0M804.7 444h0M807.4 473.5h0M790.7 470.1h0M771.2 427.5h0M745.2 486.6h0M770.2 419.1h0M736.1 511.9h0M794.2 470.9h0M774.9 455.2h0M813.6 420.8h0M761.4 464.6h0M771.8 451.2h0M766.4 463.2h0M787.3 506.9h0M788.2 409.7h0M775.5 450.7h0M766.7 477.6h0M761.2 463.9h0M764.2 542.2h0M787.4 426.8h0M722.2 468.2h0M771.1 435.9h0M691.7 453.9h0M806.5 418.3h0M801.6 422.5h0M752.8 453.7h0M777.8 449.1h0M798.3 464.8h0M684.4 463.1h0M741.4 457h0M781 510.6h0M728.2 481.4h0M794.7 472.7h0M775.1 391h0M771.5 498.9h0M744.7 418.1h0M785.5 463.4h0M741.9 420.5h0M772.4 463.4h0M784.5 441.7h0M826.5 466.1h0M731.7 505.4h0M716.5 410.8h0M777.1 465.4h0M705.9 443.5h0M753.2 407.6h0M750 468.2h0M771.5 497.8h0M747.7 444.9h0M763.8 466.4h0M802.9 465h0M726.3 447.3h0M773.3 447h0M801.7 437.8h0M677.8 466.2h0M772.2 512.3h0M725.4 456.7h0M692.1 463.2h0M767.6 426.5h0M764.5 455.4h0M776.8 470.3h0M761.5 378.9h0M682.8 477.2h0M789 437.2h0M784.8 444.7h0M733.7 491.8h0M790.5 441.5h0M797.9 416.1h0M761.5 533.8h0M749.6 457.3h0M809.8 442.2h0M773.9 421.6h0M767.4 435.2h0M791.5 464.9h0M747 398.2h0M803 443.7h0M751.2 457.5h0M794.3 408.2h0M800.4 447.6h0M777.6 519.7h0M748.1 461.1h0M798.9 424.7h0M745.3 424h0M779.7 448.2h0M777.6 516.1h0M765.2 450.7h0M777.4 465.5h0M782.6 421.6h0M773.7 446.7h0M713.2 434.7h0M687.4 449.5h0M790.8 452.2h0M752.8 476.8h0M787.2 500.4h0M772.7 432.4h0M779 438.7h0M749.5 434.2h0M792.8 461h0M741 436.7h0M801.3 475.6h0M781.8 508.9h0M789.4 512.8h0M711.2 432.6h0M763 491h0M684.3 458.7h0M733.5 427.3h0M790.7 540.1h0M791.8 440.7h0M796 491.5h0M705 429.5h0M694.4 473h0M795.5 390.8h0M774.7 524h0M775.9 413.7h0M737.9 445.8h0M758.7 448.6h0M789 407.6h0M768.6 416.3h0M781.7 419h0M722.9 457.7h0M744.4 486.4h0M785.6 432.8h0M785.8 482.9h0M779.7 413.4h0M756.9 438.4h0M787.2 435.4h0M763.2 449.1h0M724 430.1h0M798 456.2h0M689.1 456.3h0M767 469.2h0M791.8 464.1h0M807.7 466.1h0M783.4 423.4h0M762.6 418.4h0M775.9 411.5h0M780.3 424.7h0M776 455.8h0M737.6 444.4h0M693.9 459.4h0M808.3 432.6h0M780.7 467.5h0M725 461.2h0M772 424.2h0M771 473.4h0M798.1 486.9h0M797.3 381.9h0M804.6 479.5h0M775.5 460.5h0M724.3 415.7h0M785.5 433.4h0M718.4 443.7h0M768 419h0M774.7 414.2h0M739.7 412.5h0M759.2 480.1h0M770.7 490.3h0M767.7 451.6h0M773 406.1h0M788 424.7h0M740.7 437.8h0M804.7 519.9h0M780.8 500.7h0M758.4 456.7h0M817.5 421.3h0M758.9 440.2h0M825.2 432.1h0M730.6 436.3h0M798.5 415.3h0M743.8 450.2h0M777.9 456.9h0M774.7 488.4h0M714.6 467.9h0M786.3 481.8h0M699.6 458.4h0M786.1 457.3h0M760.1 443.4h0M756.4 482.7h0M683.3 427.8h0M751.7 462.8h0M748.8 432.5h0M777.3 420.4h0M764.8 413.9h0M793.4 426.2h0M713.8 454.8h0M687.8 437.9h0M713.7 469.6h0M792.6 490.8h0M713.1 443.6h0M714.5 436.7h0M767.7 412.8h0M774.3 447.5h0M773.3 468.5h0M797.8 419.6h0M726.4 529.5h0M780.2 423h0M728.2 458h0M735.9 486.7h0M744.8 463.5h0M730.3 464.8h0M781.8 412.1h0M792.2 431.6h0M779.1 535.6h0M776.3 470.2h0"/></g><g fill="none" stroke="#000" stroke-opacity="0.27" stroke-width="3.2" stroke-linecap="round"><path d="M930.2 290.7h0M936 289h0M955.4 272.4h0M966.8 264.5h0M1001.1 224.2h0M918.9 305.9h0M872.5 351.2h0M925.6 299.8h0M800.2 423.6h0M938.8 279.6h0M844.8 357.8h0M1010.2 213.6h0M946.1 283.3h0M823.3 404.9h0M835.7 404.2h0M808 417.8h0M907.8 321.8h0M909.9 302.9h0M866.4 372.2h0M814 409.8h0M808.7 421h0M832 395.5h0M901.9 320.8h0M960.9 266.4h0M884.1 347.5h0M941.7 284.1h0M798.3 424.8h0M891.9 362h0M824.8 404h0M859.4 351.6h0M945.1 282.7h0M938 284.1h0M799.5 422.4h0M929.5 295.2h0M927.5 296.6h0M954.3 272.5h0M816.5 407.4h0M837.6 394.6h0M891.1 333.1h0"/><path d="M892.5 331.6h0M801.4 423.6h0M850.9 375.6h0M956.2 273.8h0M850 372.9h0M805 420.2h0M808.3 418.1h0M835.8 379.7h0M809.1 415.2h0M855.7 362.8h0M971.3 252.6h0M876.3 357.5h0M807.8 392h0M885.7 350.2h0M826.8 399.1h0M993.3 230.4h0M803.5 421.1h0M836.9 357.8h0M945.2 281.7h0M921.2 304.3h0M949 279.1h0M916.9 309.8h0M931.2 292.2h0M859.7 351.6h0M807.4 417.9h0M909.7 313.5h0M941.6 284.5h0M918.6 308.4h0M798.3 424.7h0M933.4 285.8h0M848.8 385.7h0M923 293.6h0M868.2 363.5h0M941.3 280.2h0M915.3 310.7h0M914.9 307.5h0M802.1 422.4h0M801.5 422.8h0"/><path d="M821.3 401.2h0M925.5 294.1h0M953.7 272.1h0M967 257h0M823.2 399.2h0M950.5 280.6h0M896.9 317.5h0M837.6 401.9h0M973.6 259.3h0M915.9 305.7h0M855 366.8h0M922.4 303h0M848.6 349.6h0M808.3 416.9h0M959.9 264.8h0M950.5 275.6h0M939.2 278.6h0M875.3 349.1h0M822.4 402.5h0M820.3 406.3h0M933.5 292.4h0M867.8 327.8h0M909 304.5h0M906.7 313.7h0M838.2 391.9h0M821.1 403.5h0M818.7 407.8h0M892.5 337.5h0M934.6 293h0M928.9 297.2h0M837.9 382.5h0M830.4 400.4h0M814.7 385.8h0M885.3 336.9h0M799.2 425.3h0M810.2 415.1h0M862.4 364.2h0M923.1 297.9h0"/><path d="M922.1 302.1h0M953.3 276.7h0M807.6 417.1h0M939.8 284.6h0M947.7 277.7h0M816.6 409.2h0M941.6 288.8h0M927.9 294.5h0M949 277.4h0M941.8 284h0M811.1 416.4h0M944.5 280.9h0M935 293.2h0M956.6 265.6h0M1044.8 181.7h0M931.7 293.1h0M893.5 327.8h0M857.8 373.5h0M952.8 270.9h0M929.8 288.3h0M809.5 420.2h0M1006.6 217.9h0M921.7 305h0M1023.3 201.1h0M824.6 400.5h0M855 380.2h0M862.6 371.1h0M889.5 327.3h0M866.1 354.5h0M883.3 339.2h0M932.6 290.5h0M929.4 291.7h0M940.3 283.1h0M874 371.7h0M953.9 278h0M808.7 413.2h0M954.2 274.9h0M917.7 304.3h0"/><path d="M859.4 369.4h0M969.5 254.8h0M799.5 423.8h0M957.3 272.1h0M939.2 289.2h0M797.8 425h0M1001.9 223.6h0M929.9 291.5h0M906.2 316h0M798.3 425.3h0M1017 208.7h0M937.9 283.8h0M803.4 420h0M890.5 331.8h0M1059.9 162.8h0M857.6 346.1h0M936.5 287.5h0M941.8 291.5h0M945.5 282.3h0M815.5 408h0M938.2 284h0M825.7 401.4h0M942.3 286.5h0M808 417.4h0M902 326.7h0M808.7 417.1h0M942 283.9h0M842 381.1h0M1009.2 213.3h0M900 338.6h0M967.6 256.2h0M944 274.7h0M943.3 278.9h0M803.8 420.5h0M1014.6 206.6h0M949.9 273.8h0M806.8 416.6h0M822.5 403h0"/><path d="M934.8 288.4h0M828.8 409.9h0M961.3 259.4h0M945.1 271.5h0M872.3 354.7h0M926.4 295.1h0M940.2 288.1h0M877.4 366.5h0M926.8 295.8h0M826.1 401h0M816.1 409.2h0M831.1 401.8h0M948.4 278.6h0M797.4 424.8h0M940.7 286.5h0M879.6 346.6h0M804.7 417.9h0M804.6 417.7h0M949.2 283.3h0M840.6 399h0M817 403.3h0M920.2 305.2h0M969.7 255.4h0M881.7 341.7h0M1017.7 205.8h0M937.1 298.4h0M877.6 355.7h0M808.3 415.6h0M933.7 292h0M897.5 322.9h0M809.8 414.3h0M822.8 408.3h0M819 409.9h0M820.4 390.1h0M871.9 360.2h0M934.3 291.4h0M940.2 285.3h0M832.5 388.3h0"/><path d="M826.3 396.8h0M951.1 279.5h0M874.6 356.1h0M937.6 291.7h0M927.9 296.9h0M860.8 340.1h0M801.2 422.5h0M839 387.5h0M809.5 416.5h0M808 416.6h0M813.6 411.2h0M941.6 284.4h0M804.2 420.2h0M936.2 284.1h0M799.7 424h0M806.9 416.6h0M933.1 292.9h0M938.5 287.2h0M812.1 414.2h0M798.3 425.2h0M939.2 284.9h0M901.6 319.4h0M942.5 278.1h0M908 305.3h0M955.5 273.9h0M929.5 291.8h0M805.6 418.3h0M809.8 413.5h0M910.5 316.8h0M898.4 321.7h0M941.6 282h0M949.8 278.8h0M865.7 384.7h0M938.1 287.5h0M844.8 372.6h0M842.4 367.2h0M904.4 319.9h0M826.8 403.1h0"/><path d="M961.1 253.3h0M946.8 279h0M1016.8 205.7h0M812.4 408.2h0M846 376.7h0M949.8 276.7h0M808.3 416.9h0M866.3 360h0M817.1 392.5h0M807.3 418.2h0M937.1 291.3h0M829.9 393.6h0M911.4 306.6h0M926.1 296h0M946.8 273.1h0M944.9 280.6h0M853 348.5h0M942.5 284.3h0M950.3 272.5h0M809.1 415.8h0M811.9 412.9h0M803.6 421h0M924.9 300.1h0M966.5 261.3h0M929.1 289.6h0M817.3 390.7h0M823 398h0M914.9 306.2h0M803.2 420.6h0M798 425.7h0M1043.7 181.2h0M845.4 383.6h0M944.6 283.5h0M816.7 406.2h0M871.1 362.8h0M945.2 280.5h0M956.3 268h0M804.3 419.4h0"/><path d="M903.4 325.3h0M841.6 373.3h0M1001.6 222.7h0M894.1 329.5h0M811.4 410.1h0M944 277.3h0M869.9 367.4h0M988.9 238.3h0M870.3 354.9h0M856.3 350.9h0M928.8 289.7h0M797.8 425.7h0M883.9 346.1h0M942.8 286h0M995.9 224.8h0M801.5 421.6h0M804.4 415.5h0M813.4 415.1h0M958.1 268.3h0M952.3 281.1h0M932.8 288.5h0M902.1 306.7h0M801.6 421.6h0M808.4 415.8h0M922.7 301.2h0M1021.3 204.5h0M943.7 277.7h0M956 270.8h0M827 402.5h0M931.6 295.1h0M934.2 289.3h0M800.7 424.1h0M827.7 399.2h0M954.1 269.9h0M938.5 288.7h0M832.6 397.6h0M875.4 333.8h0M801.5 422.6h0"/><path d="M805.4 419.5h0M879.3 339h0M949.9 274h0M1003.5 217.6h0M936.4 284.1h0M869.2 337.3h0M942.6 282.7h0M939.2 283.1h0M869.2 340.7h0M943 284.4h0M812.4 411.9h0M925.5 296.4h0M799.7 424h0M888.5 333.9h0M798.9 424.1h0M872.5 349.5h0M952.8 273.3h0M939.2 278.5h0M992.6 230.1h0M808.3 416.3h0M954 265.3h0M822.2 400.2h0M822.9 400.2h0M951.8 266.5h0M1010.3 213.5h0M967.9 262.5h0M959.6 267.9h0M882.5 350h0M805.3 416.6h0M1026.1 201h0M935.7 296.7h0M866.7 365.8h0M879.9 348.4h0M939.1 284.3h0M909.4 309.2h0M956.9 268.4h0M832.2 386.1h0M864.1 370.6h0"/><path d="M951.5 268h0M908.1 325.1h0M824.2 405.5h0M940.5 275.7h0M946 282.3h0M916.9 295.5h0M933.5 284.3h0M809.4 414h0M952.4 280.5h0M932.3 294.8h0M940.6 287.3h0M821.4 406.4h0M807.7 417.1h0M946.4 280.7h0M805 420h0M802.3 421.2h0M872.2 344.5h0M936.3 283.7h0M921.9 303.4h0M887.7 340.9h0M827.6 389.8h0M907.6 328.6h0M812.2 411.6h0M1008.2 214.2h0M819.4 405.6h0M907.7 304.5h0M949.8 278.4h0M967.6 252.9h0M807.2 418.2h0M844.2 391.4h0M810.3 414.8h0M852.1 373.9h0M925.8 305h0M940.2 283.7h0M949.9 273.3h0M933 287.2h0M903.4 321h0M909.3 323.7h0"/><path d="M925.6 295.7h0M944.2 281.4h0M937.8 286.9h0M905.9 328.4h0M809.3 418h0M954.9 272h0M925.7 297.5h0M931.7 289.5h0M882 360.9h0M811 392.8h0M869.8 344.4h0M824.4 394.9h0M892.3 351.6h0M827.8 397.6h0M816.6 408h0M952.3 276.5h0M809.4 418.9h0M942 281.4h0M932.1 298.6h0M811.4 410.8h0M930.2 294.3h0M946.4 274.7h0M876.1 350.2h0M935.8 292.3h0M847.7 394.2h0M828.2 408.4h0M851.8 372h0M805.7 418.3h0M842.2 406.1h0M947.1 272.2h0M807.4 417.4h0M957.3 273.1h0M867.6 372.7h0M814 410.4h0M925 297.9h0M1010.5 216.6h0M837.5 380.5h0M943.2 278.7h0"/><path d="M872.5 339.5h0M947.8 279.6h0M981.3 243.6h0M932.6 291.1h0M814.9 413.3h0M812.2 415.3h0M824 407.2h0M904.5 316h0M897.7 325.8h0M884.2 353.7h0M830.5 390.3h0M892 331.6h0M814 414.8h0M798.1 424.9h0M856.8 365.9h0M841.9 388.9h0M878.4 343.8h0M918.5 305.2h0M804.4 420.2h0M952.5 279.4h0M820.5 410.1h0M801.8 422.6h0M879.3 355.1h0M851.9 370.5h0M910.8 318.7h0M944.3 283.8h0M868.3 342.5h0M896.4 330.1h0M929.1 300.6h0M830.2 398.5h0M943 278.9h0M881.2 338h0M826 401.7h0M975.6 251.2h0M948.2 270.5h0M831.8 395.8h0M873.1 351.3h0M938.1 285h0"/><path d="M928.8 296.3h0M946.5 278.8h0M797.9 425.2h0M859.4 371.3h0M942.7 278.7h0M950.4 283.3h0M946.9 277.2h0M939.4 287.7h0M943.1 278.3h0M804.7 419.2h0M822.8 401.9h0M864 350.8h0M831.6 400.4h0M854 353.1h0M1025 199.1h0M940.3 287.7h0M857.6 357.7h0M958.3 271.1h0M858.1 378.3h0M953.7 271.7h0M883.3 336.9h0M860.8 368.9h0M922.9 301h0M954.7 270.7h0M845.3 367.6h0M941 281.3h0M939.2 287h0M927.1 299.8h0M802.3 422.3h0M1015.5 207.3h0M802.3 422.4h0M821.7 405.1h0M931.1 292.9h0M937.1 285.9h0M949.8 271.2h0M811.5 419.5h0M922.8 304.6h0M828.6 398.8h0"/></g></g><g clip-path="url(#ca3)"><path d="M145.0 1064.28H519.0" stroke="#000" stroke-opacity="0.97" stroke-width="3.3" stroke-linecap="round" fill="none"/><polyline points="502.3,905.9 510.3,901.4 519.4,896.3" fill="none" stroke="#000" stroke-opacity="0.3" stroke-width="3" stroke-linecap="round" stroke-linejoin="round"/><polyline points="517.4,897.5 520.4,895.6 525.4,890.4 530.5,884.6 552.6,867.5" fill="none" stroke="#000" stroke-opacity="0.72" stroke-width="2.7" stroke-linecap="round" stroke-linejoin="round"/><g fill="none" stroke="#000" stroke-opacity="0.14" stroke-width="3.2" stroke-linecap="round"><path d="M466.6 1045h0M537.3 879.1h0M535.1 880.3h0M460.5 946.8h0M537.3 879.7h0M324.2 1043h0M352.5 1030.6h0M524.4 894.3h0M508.1 928.9h0M336 1039.4h0M449.7 964.2h0M411.2 1001.9h0M485.5 1043.2h0M491.2 976.7h0M525 899.6h0M491.5 992.5h0M494.4 915.2h0M446.6 1021.7h0M324.1 1047.8h0M397.2 1010.2h0M420.2 1036.3h0M537.8 878.5h0M341.7 1032.9h0M531.3 884.2h0M548.3 870.7h0M389.6 1015.7h0M459.6 948.4h0M509.5 907.2h0M347.2 1031.9h0M450.7 1044.4h0M349.1 1046h0M503.5 904.2h0M348.9 1048.2h0M504.2 1035.7h0M540.3 881.2h0M527.6 887.4h0M519.5 895.6h0M529.1 885.4h0M516.7 903.8h0M471.2 1028.7h0M529.1 885.4h0M340.4 1048h0M416 1028.9h0M446.8 1049.5h0M540.2 876.9h0M331.6 1050.1h0M530.9 885h0M447.4 1038.9h0M500.1 907.5h0M440 1043h0M335.5 1045h0M471.9 1045.2h0M466.8 940.3h0M531.4 886.4h0M502.1 907.6h0M475.7 1020.9h0M328.3 1042.3h0M384 1045.8h0M533.2 881.8h0M551 868.1h0M360.9 1047.2h0M342.6 1047.4h0M517.9 896.4h0M522.3 893.2h0M376 1027.6h0M524.6 890.9h0M472.7 1050.9h0M399.4 1029.8h0M445.2 1049.9h0M476.2 1049.5h0M525.6 889.5h0M492.5 1050h0M336.9 1036.7h0M353.7 1032.4h0"/><path d="M341 1036.3h0M391.7 1047.9h0M410.4 1015.6h0M513.1 899.5h0M360.1 1049h0M542.5 874.8h0M540.1 894h0M443.8 1050.2h0M527.1 891.9h0M515.1 903.5h0M528.1 886.8h0M457.4 1046.3h0M474.2 1026.8h0M329.4 1036.2h0M397.6 1043.7h0M511.3 901.3h0M544.3 873.8h0M423.1 1043.9h0M543.3 878.2h0M448.1 1004.7h0M504.8 906.2h0M536.6 879.7h0M391.6 1043.4h0M511.7 956.9h0M517.4 900h0M546.6 875.9h0M493.7 910.9h0M430.7 1042.2h0M517.5 928.5h0M521.2 894h0M546.8 873.4h0M412 1031.8h0M512.5 900.9h0M441.7 1048.4h0M458.5 1050.8h0M516.8 897.4h0M413.8 1044.5h0M346.8 1042.6h0M526.4 888.5h0M364.7 1047.7h0M543.6 874.9h0M467.3 986.1h0M370.1 1025.8h0M548.6 870.3h0M543.6 875.6h0M455.8 1037.7h0M413.3 1001.7h0M542 876.1h0M321.8 1043.2h0M391.6 1019h0M381.4 1049.8h0M349 1040.8h0M347.6 1038.5h0M356.4 1048.6h0M497.8 967.3h0M528.5 890.7h0M538.6 878.6h0M493.9 1050.3h0M358.3 1046.1h0M428.9 1007.8h0M425 1020.1h0M364.5 1036.5h0M542.8 902h0M439.2 973.7h0M508.5 902.5h0M525.3 908.1h0M534.1 881.1h0M354.4 1040.4h0M304 1045.5h0M521.1 894.2h0M528.6 888.3h0M319.7 1046.8h0M536.5 879.5h0M412.3 1037h0"/><path d="M347.7 1049.7h0M478.5 935.1h0M544.5 873.1h0M523.4 898h0M523.7 900.5h0M336.4 1035h0M462.6 1043.8h0M498.1 917.8h0M370.3 1046.1h0M452.5 1021.5h0M498.7 1011.5h0M545.3 872.5h0M547.8 880h0M342.9 1042.8h0M540.7 876.2h0M359.1 1033.7h0M493.3 922.4h0M385.2 1033h0M422.6 1040h0M514.2 899.6h0M428.2 991.8h0M496.9 1047.5h0M447.1 966.2h0M506.1 908.3h0M444.4 968.7h0M504.2 1049h0M548.7 870.5h0M351.5 1048.2h0M413.4 1049.6h0M449.2 1038.5h0M478.8 934.2h0M483.8 1045.2h0M348.9 1040.2h0M522.2 893.2h0M471.6 1049.4h0M377.2 1046.2h0M550.1 868.9h0M329.1 1047.4h0M519.8 895.3h0M534.4 881.1h0M478.3 1003.9h0M470.5 1013.9h0M550.6 868.4h0M487.7 1044h0M526.5 888.6h0M383.8 1035.3h0M540.5 885.8h0M383.9 1044.7h0M325 1042.6h0M539.1 878.5h0M500.4 1029.2h0M510.8 902.3h0M434.8 979.1h0M448.9 1048h0M512.1 1050.4h0M328.8 1038.6h0M541.9 875.6h0M512.4 899.6h0M516.3 897.4h0M344.4 1049.7h0M525.3 889.8h0M390 1048.7h0M543.4 874.7h0M515.8 897.9h0M476.4 951.1h0M416.7 998.7h0M518.3 896.2h0M525.7 889h0M536 879.6h0M514.7 904.2h0M529.1 885.6h0M531.6 883h0M502.1 907.6h0M445.3 1042.3h0"/><path d="M498.4 1044.2h0M418.2 1029.3h0M437.7 1042.5h0M347.3 1048.5h0M463.4 1001.3h0M549.4 869.3h0M492.3 915h0M505.8 1051h0M496.3 1004.5h0M531.6 883.1h0M459.8 1050.7h0M448.1 1048.2h0M386.7 1050h0M521.4 894.6h0M540.5 876.2h0M407.4 1029.6h0M531.6 884.7h0M464.5 1023.4h0M343.6 1033.3h0M440.5 1048.1h0M309.9 1049.7h0M546.4 871.7h0M520.1 897.6h0M501.2 917h0M481.2 953.4h0M428.1 994.7h0M426.2 1037.6h0M377.4 1048.5h0M377.5 1046.1h0M398.5 1012.4h0M492.7 983.8h0M498.7 905.9h0M515.5 897.9h0M488.9 1051.3h0M333.4 1048.3h0M393.1 1042.9h0M514.8 899.3h0M524.5 894.5h0M525 895.1h0M370.6 1027.3h0M427.4 1025.8h0M546.3 871.9h0M366.4 1049.2h0M538.8 882.6h0M327.3 1048.4h0M445.4 968.7h0M342.6 1050.1h0M359.7 1031.2h0M391.2 1038h0M465 1049h0M399.8 1019.4h0M550.7 869.1h0M511.7 900h0M513.3 899.8h0M546.6 871.5h0M495 916.1h0M522.5 893.3h0M538.1 887h0M459.6 1032.7h0M499.4 904.9h0M526.5 893.6h0M548.7 884.8h0M528 886.5h0M535.4 880.4h0M500.6 931.5h0M505.7 902.9h0M317.8 1048.5h0M500.1 1040.2h0M493 910.7h0M471.8 980.5h0M489.3 913.6h0M498.4 1050.8h0M487.5 917.2h0M484.9 1048.2h0"/><path d="M547 874.6h0M519.5 895.8h0M353.1 1049h0M548 879.7h0M529.2 885.7h0M525.9 893.5h0M528 886.8h0M527.6 892.9h0M330.9 1040.6h0M516.2 897.6h0M327.7 1036.7h0M531.8 883h0M528.7 886.2h0M461 945.8h0M513 899.4h0M503.8 903.9h0M498.9 907.3h0M520.2 895.4h0M538.9 877.4h0M417.1 1050.3h0M507 1050.8h0M458.7 1050.1h0M364.1 1038.5h0M412.5 1044h0M508.4 913.1h0M537.8 878.2h0M495.4 1046.4h0M529.7 885.7h0M467.1 1044.1h0M487 1027.2h0M420.7 1022.3h0M510.8 901h0M471.7 1048.7h0M551.4 868.2h0M355.8 1036h0M509.6 948.7h0M389.1 1041.1h0M509.3 903.8h0M432.2 1050h0M521.3 894.3h0M453.8 1018.4h0M387 1035.8h0M463.7 942.8h0M491.4 1037.2h0M531.6 899.9h0M548.9 870.8h0M493.3 1045.2h0M441.6 1041.3h0M538.8 877.7h0M388.6 1028.3h0M451.4 967.8h0M369.5 1045.2h0M424 1047.9h0M547 872.2h0M421.4 1029.9h0M505.1 908.6h0M416.3 1047.2h0M525.3 890.5h0M379.8 1037h0M492.4 909.6h0M491.3 1038.1h0M479.9 960.4h0M501.1 904.3h0M358.8 1025.7h0M532.8 893.9h0M396.3 1041.3h0M527.4 887.9h0M442.5 1031.8h0M424.6 1009.3h0M495.9 925.2h0M498 1044h0M508.9 1045.1h0M333.9 1043h0M334.4 1040.5h0"/><path d="M505.5 911.9h0M337 1046.4h0M445.1 1031h0M432.3 1049.8h0M410 1002.7h0M545.1 872.5h0M418.8 1000.7h0M487.8 1047.3h0M383.5 1048.6h0M408.8 1030.4h0M504.2 918.5h0M504.3 905.7h0M457.3 1043.5h0M531.1 883.5h0M506.1 905.2h0M502.4 904.4h0M541.2 875.6h0M521.7 894h0M510.7 900h0M413.5 1050.4h0M526.1 889.1h0M384.5 1043.5h0M453.6 993.7h0M324.7 1037.6h0M526.5 888.4h0M341.8 1036.5h0M544 873.7h0M392.8 1013.7h0M530.7 884.8h0M520.5 925h0M461.9 1032.9h0M508.7 903.9h0M545.3 892.3h0M394.3 1030h0M364.1 1044.8h0M420.4 1042h0M332.4 1045.9h0M331.5 1044.4h0M370.3 1021.5h0M468.3 940.4h0M531.7 883.4h0M366.8 1044.4h0M303.9 1049.4h0M497.8 1048.6h0M547.8 870.9h0M525.7 891.2h0M371.1 1049.3h0M402.4 1022.1h0M335.5 1048.1h0M446 966.9h0M334.4 1048.8h0M475.7 1046.6h0M546.9 871.4h0M445.9 1043h0M406.6 1047.9h0M545.4 873h0M334 1037h0M538.2 879.1h0M399.8 1037.9h0M428.1 987.8h0M552.3 867.3h0M433.3 1044.5h0M520.2 895.5h0M493.9 938.4h0M455.5 1014.9h0M543.7 878.2h0M486.4 1046h0M346.2 1035.6h0M551.6 867.9h0M523.2 903.6h0M495.6 909.4h0M331 1048.9h0M513.1 899.6h0M437 1041.5h0"/><path d="M466.7 1048.5h0M389.8 1019.6h0M444.7 1042.8h0M516.6 898.1h0M552.6 869.1h0M519.9 896.5h0M466.8 985.5h0M448.3 986.6h0M531.2 884.1h0M482.8 1019.8h0M530.8 893.8h0M540.2 876.9h0M518.5 896.2h0M513.8 899.1h0M311.6 1048.3h0M533.4 882.2h0M504.7 905.9h0M479.9 935.4h0M440.5 1038.9h0M512.5 900.3h0M524.8 890.8h0M543.1 874.6h0M375.9 1046.8h0M524.5 890.7h0M507.1 1045.2h0M491.5 1049.2h0M441.8 1025.2h0M521.7 893.6h0M501.6 911.3h0M518 896.9h0M406 1050.3h0M515.4 900.9h0M541.5 876.8h0M455.3 957.2h0M367.8 1050.2h0M540.2 895.3h0M550.2 868.9h0M542.8 874.9h0M474.9 1045.6h0M516.1 898h0M529.1 885.6h0M496.4 934.2h0M419.8 995.6h0M376.5 1038.9h0M502.8 1049.5h0M482.6 918.9h0M540.2 876.5h0M398 1038.9h0M542.1 875.6h0M516 901.4h0M534.4 889.8h0M477.1 1050.7h0M403.1 1037h0M465.5 968.7h0M396 1020.6h0M354.2 1034.9h0M359.5 1040.5h0M547.1 873.3h0M398.5 1048.4h0M526.4 888.6h0M355.4 1027.5h0M370.9 1040.5h0M475.8 926.7h0M374.8 1041.2h0M411.2 1046h0M496.5 1051.3h0M361.2 1048.6h0M406.5 1024.6h0M430.5 1048h0M394.4 1021.2h0M333.9 1050.2h0M341.3 1042.2h0M450.8 1049.4h0M475.1 1051h0"/><path d="M386.2 1026.3h0M452.4 964.3h0M537.4 879.5h0M510.7 997.5h0M513.6 899h0M499.5 909.3h0M368.2 1050.1h0M434.2 1046.1h0M485.6 1014.7h0M543 874.3h0M527.1 894.9h0M330.9 1049.8h0M501.2 912.1h0M442.9 1012.9h0M505.6 907.4h0M531.7 885.8h0M451.5 1049.1h0M330.7 1036.3h0M508.9 924.5h0M479.7 945.2h0M516 897.6h0M368 1031.3h0M538.9 877.9h0M348.3 1037.1h0M309.2 1045.9h0M339.6 1037h0M407.9 1020.3h0M545.1 872.5h0M517.1 896.8h0M411.8 1038.2h0M360.2 1048.6h0M549.7 869.2h0M300 1047.7h0M534.1 881.1h0M532.6 897.9h0M445.6 1046.3h0M542.8 874.9h0M449 963h0M375.8 1049.2h0M511.9 903.2h0M544.3 873.5h0M457.1 1029.7h0M534.3 881h0M518 896.3h0M482.7 1049.2h0M481 930h0M377.2 1049.4h0M327.1 1042.2h0M342.5 1032.7h0M521.1 907.4h0M505.9 1028.1h0M510.6 902.6h0M391.2 1039.3h0M538.9 884.4h0M419.8 995.1h0M438.9 1043.9h0M530.7 884.2h0M437.5 988h0M547.3 871.8h0M515.5 900.2h0M549.4 869.5h0M412.6 1050.3h0M521.6 893.5h0M333 1049.5h0M548.3 870.2h0M504 907.7h0M461.5 1009.6h0M525.4 889.7h0M459.8 1035.2h0M391.4 1046.9h0M521.9 900.5h0M509.4 974.3h0M407.5 1011.5h0M325.2 1045.9h0"/><path d="M515.3 898.4h0M330.5 1049.4h0M529.4 889.1h0M353.9 1045h0M385.5 1036.3h0M501.2 907h0M429.3 1044h0M410.6 1049.3h0M447.6 1029.8h0M547.2 871.3h0M540.1 876.8h0M312 1047.3h0M508.2 903h0M448.9 965.7h0M549.3 870.1h0M499.6 915.4h0M505 974.4h0M492.4 918.8h0M479.2 1042.5h0M373.6 1047.1h0M517.6 897.1h0M324.7 1047h0M525.3 904.2h0M535.7 880.5h0M526 898.2h0M524 890.9h0M498.9 975.4h0M544.1 877.2h0M501.7 985.2h0M429.3 1025.8h0M543.3 876h0M505.2 903.9h0M541.4 903.3h0M401 1039h0M490.5 1037.9h0M349.3 1037.6h0M396.3 1015.8h0M547.9 870.5h0M517 898.5h0M534.1 884.6h0M418 1047.2h0M510.3 1034.4h0M343.7 1033.4h0M521 895.8h0M501.1 922.9h0M521.6 908.3h0M546.7 873.3h0M551 868.7h0M527 887.8h0M393.1 1046.2h0M518.9 895.9h0M541.9 875.2h0M479.8 923.4h0M407.7 1042.5h0M514.5 898.9h0M441.1 979.1h0M506.5 1007.3h0M479.7 1049.9h0M429.3 1048.9h0M397.3 1034.1h0M420.7 1046.4h0M501.5 1050h0M541.8 875.4h0M521.4 894.1h0M451 1047.6h0M327.2 1036.7h0M517.4 897.7h0M376.4 1049.2h0M539 886.7h0M504.7 904h0M540.5 876.3h0M523.4 891.7h0M529.3 885.1h0M358.4 1047.1h0"/><path d="M364.5 1046h0M371.1 1038.4h0M304.2 1047.2h0M519.4 896.2h0M525.3 889.5h0M405.4 1049.8h0M543 874.5h0M471.8 1044.6h0M358.9 1027h0M514.1 898.9h0M399.5 1050.2h0M389.4 1022.9h0M419.2 1048.9h0M538.5 878.1h0M465.7 943.4h0M372.2 1041.5h0M368 1032h0M318.6 1045.6h0M399.1 1029.2h0M390.3 1047.2h0M436.9 980.3h0M543.3 887.7h0M432.7 1048.5h0M552.4 867.5h0M379.8 1031.9h0M510.5 987.8h0M398.3 1027.2h0M455.5 1023.3h0M548.4 872.3h0M437.7 1003.3h0M461.7 953.7h0M346.1 1046.5h0M549 876.3h0M488.8 1007.1h0M549.8 869.2h0M400.6 1014.1h0M352.5 1050h0M533.8 881.8h0M507.4 1005.1h0M442.6 973h0M393.2 1040.6h0M527.5 887.5h0M524.4 895h0M539.6 877.4h0M469.5 935.3h0M344.5 1039.3h0M477.7 1040.4h0M485.3 930.3h0M381.6 1048.5h0M446.6 1047.2h0M347.4 1039.6h0M401.2 1039.2h0M527.8 887h0M390.5 1044.2h0M533.7 881.9h0M407.2 1042.8h0M459.1 1033.7h0M328.3 1049.2h0M466.8 942.2h0M469.3 1035.3h0M346.1 1044.1h0M466.3 941.3h0M392.7 1035.4h0M547 871.3h0M431.7 1019.7h0M406.4 1045.7h0M354.6 1032.8h0M334.5 1040.6h0M519.1 895.8h0M494.6 1050.5h0M550.6 868.3h0M471 1041.8h0M408 1048.6h0M525.9 889h0"/><path d="M525.3 889.9h0M450.2 1041.6h0M493 985.9h0M399 1011.7h0M533.2 881.8h0M535.3 882.9h0M340.7 1038.3h0M540.3 880.9h0M519.9 895.5h0M504 1040.7h0M339.5 1048.4h0M503.2 906.2h0M516.1 898.3h0M542.5 875.3h0M510.6 900h0M524.8 890.5h0M521.7 894.1h0M533.1 883.1h0M513.4 898.9h0M397.6 1049.4h0M431.7 1048.3h0M524.7 890.7h0M522.4 892.9h0M532.5 883h0M515.4 898.4h0M331.2 1047.5h0M498.3 947.5h0M342.9 1043.9h0M537.4 889.8h0M515.9 897.5h0M467.8 1046.1h0M421.4 1026.2h0M542.8 880h0M483.1 1042.2h0M517 900.8h0M401.1 1014h0M411.5 1045.9h0M313 1047.3h0M501.9 1006.7h0M542.3 875.1h0M546.5 871.7h0M467.9 1042.6h0M444.2 1038.1h0M528.1 886.7h0M503.1 1015.9h0M397.1 1034.2h0M435.1 983.4h0M487.1 932.1h0M453.5 1045.3h0M545.2 873h0M477.7 943.8h0M375.8 1042.3h0M525.4 889.6h0M464.8 940h0M535.4 880.5h0M515.7 901.4h0M345.3 1049.3h0M502.6 1036.3h0M370 1040.4h0M465.9 1050.6h0M340.2 1047.3h0M513.6 900.8h0M546.7 873.6h0M352.7 1049.9h0M470.7 960.3h0M461.4 1040.3h0M515.3 899h0M532.5 882.7h0M544.7 873.1h0M389.7 1048.6h0M340.1 1047.1h0M547.1 871.3h0M451.3 996.5h0M535.3 880.8h0"/><path d="M506 907.8h0M316.4 1045.8h0M356.3 1039.7h0M383.8 1046h0M541.9 892.3h0M387.7 1049.4h0M471.8 1047.5h0M518.3 919.6h0M373.7 1049.6h0M403.7 1044.7h0M514.9 898.3h0M456.5 979h0M547.6 871.2h0M543.2 874.5h0M507.1 904.8h0M528.6 907.3h0M508.3 903.3h0M520.2 895.6h0M501.5 909.8h0M539.1 877.7h0M314.2 1048.6h0M321.7 1049.6h0M363.2 1024.4h0M415 1017.5h0M516.5 897.8h0M517.4 896.8h0M542.2 875.5h0M412.2 1034h0M519.9 895.8h0M550.3 869.5h0M399.4 1009.7h0M525.7 889.5h0M542.8 875.5h0M488.1 973h0M374 1044.4h0M500.5 907.3h0M535.7 879.9h0M473.2 1001.4h0M421.4 1037.4h0M481.4 1038h0M454.2 981h0M532.6 882.3h0M509.1 1047.1h0M328.5 1045.7h0M325.5 1046.7h0M392.1 1028.1h0M411.6 1003h0M354.6 1048.6h0M543 874.5h0M535.7 880.4h0M388.6 1024h0M515.1 899.4h0M504.9 904.3h0M463.8 1022.6h0M541.6 875.7h0M535.8 880.4h0M397.2 1041.2h0M508.9 905.5h0M470.7 937.5h0M513.1 899.6h0M530.4 884.5h0M515.4 898h0M541.9 876.2h0M406.7 1025.9h0M404.6 1048.4h0M505.7 987.4h0M454 955.8h0M391.2 1020.4h0M303.2 1049h0M550.1 869.7h0M441.5 1029.4h0M535.6 879.9h0M433.9 993.1h0M370.1 1048.7h0"/><path d="M519.9 895.5h0M316.2 1045.1h0M390.1 1047.5h0M340.2 1041h0M518.7 896.1h0M437.8 1015.3h0M529.1 890.9h0M514.2 898.5h0M535.8 879.8h0M481.2 920.2h0M460.3 979.7h0M523.4 900.9h0M405.1 1016h0M543.7 873.6h0M513.5 900.8h0M442.6 971.9h0M520.9 895.3h0M502 907.6h0M312.5 1045.8h0M482.9 1049.8h0M318.1 1049.1h0M516.4 897.5h0M387.6 1043h0M420.7 1005.8h0M516 897.6h0M366.4 1040.5h0M334.6 1047.9h0M450.7 963.4h0M527.3 887.3h0M321.5 1045h0M363.5 1029.1h0M510.3 904.2h0M380.2 1047.2h0M445.9 970.1h0M337.9 1036.7h0M545.1 872.6h0M349.1 1048h0M435.2 1042.6h0M418 1048h0M524.4 890.7h0M505.3 905.9h0M442.4 1039.6h0M430 1038.9h0M329 1037.7h0M542.5 876.7h0M431.4 1022.9h0M456.9 955.6h0M508.7 904.2h0M444.2 969.4h0M401 1030.3h0M518.7 896.5h0M405.9 1022.6h0M397.2 1015.7h0M502.3 1034.2h0M393.3 1018.7h0M466.5 937.8h0M443.6 971.7h0M505.4 913.1h0M544.4 873.1h0M515.6 898h0M481.4 922.5h0M544.5 873.9h0M515.7 897.8h0M504.6 905.9h0M350.7 1048.6h0M546.7 872.1h0M552.2 867.5h0M390.3 1017.1h0M430.1 996.7h0M334.5 1041h0M540.1 877.4h0M425.2 1015.3h0M526.5 894.7h0M534.9 885.7h0"/><path d="M540.1 876.4h0M335.6 1034.5h0M546.8 871.4h0M525.7 889.5h0M503.5 915.6h0M538.6 894.8h0M355.5 1044.4h0M346.9 1036.7h0M548.7 870h0M351.3 1048.1h0M516.5 1064.3h0M346.8 1044.3h0M391.3 1013.4h0M483.9 955.9h0M542.1 875h0M528.8 886.5h0M508 912.3h0M340.5 1048.9h0M541.6 875.7h0M519.2 904.1h0M523.4 892.1h0M531.2 884.1h0M327.6 1048h0M497.6 912.9h0M374 1049.2h0M307.4 1047.2h0M404.4 1028.8h0M322.1 1043.1h0M497.3 916.9h0M515 898.2h0M355.7 1027.7h0M435.6 993.4h0M411.5 1003.2h0M404.4 1040h0M409 1050.4h0M308.8 1044.9h0M547.9 875.2h0M397.3 1050.2h0M523.7 891.3h0M549.5 871.6h0M437.4 1039.9h0M509.3 932.1h0M365.3 1046.6h0M528.9 891.4h0M540.2 876.7h0M530.2 884.4h0M395.9 1049.4h0M518 897.1h0M519.6 895.6h0M328.9 1044.5h0M526 889.3h0M531.8 883.3h0M542.4 875.5h0M488.8 974.1h0M500.7 905.4h0M545.5 872.2h0M322.1 1038.8h0M364.5 1050.1h0M346.2 1039h0M551 871.3h0M520.2 895.6h0M378.6 1040.9h0M340.7 1040.5h0M328 1046.8h0M501 910.3h0M410.6 1043.8h0M498.2 907.7h0M355.8 1049h0M440.6 1010.4h0M480.4 928.5h0M316.6 1046.1h0M340.8 1033.9h0M458.9 1033.2h0"/><path d="M417.3 998.1h0M479.2 924h0M414 1000.7h0M317 1047h0M521.6 893.7h0M487.3 1049.8h0M527 917.5h0M514.5 898.3h0M424.1 1038.7h0M516.6 897.7h0M547.2 870.9h0M537.6 878.6h0M503.1 915.8h0M469 1040.1h0M505.8 982.4h0M392.2 1016.9h0M512.7 899.5h0M519.9 895.3h0M520.8 894.6h0M551.7 867.6h0M416 1001.7h0M345.6 1035h0M349.6 1049h0M357.4 1049.9h0M526.6 888.5h0M523 892.9h0M493.6 909.9h0M425.9 1041h0M498.9 912.2h0M486.5 953.6h0M551.6 867.9h0M517.6 896.5h0M371.7 1036.8h0M408.9 1049.2h0M341.5 1043.4h0M549.9 877.5h0M388.9 1049.1h0M418.9 1003.2h0M313.6 1049.4h0M505.3 917.4h0M314 1045.3h0M315.7 1042.3h0M326.7 1041.3h0M514.1 901h0M372 1025.1h0M443.1 975.1h0M435.6 1002.6h0M396.7 1050.1h0M466.7 1035.9h0M533.8 881.9h0M531 883.4h0M518.3 896.9h0M521 907.5h0M487.8 961.6h0M504.3 1046.3h0M492.4 917h0M400.2 1037.7h0M453.4 968.8h0M483.1 1049.6h0M543.6 883.2h0M537.6 878.7h0M544.1 873.6h0M539.2 877.2h0M517.5 1064.3h0M454.2 1048h0M380.4 1038.7h0M550.4 868.7h0M531 883.6h0M533.9 881.3h0M321.6 1047.9h0M415.9 1048.5h0M498.4 908.4h0M523.1 892.6h0"/><path d="M500 906.6h0M525.1 889.9h0M339.6 1033.4h0M502.5 905.3h0M502.3 905.5h0M536.1 880.2h0M501.7 1036.4h0M495 969.4h0M373.5 1034.7h0M496.5 909.4h0M430.3 1024.3h0M519.9 896.7h0M495 920.8h0M523 892.2h0M526.8 887.8h0M472.6 1041.2h0M371.7 1041.8h0M431.6 1050.6h0M529.7 890h0M523.1 892.5h0M439.4 981.5h0M548.5 870h0M514.8 908.3h0M513.4 899.7h0M508.9 906.6h0M545.7 874.1h0M347.8 1048.4h0M478.7 1029.6h0M532.2 883h0M351.6 1046.7h0M551.5 897.5h0M403.8 1049.2h0M319.4 1050.1h0M518.7 895.9h0M439.3 1040.4h0M548.8 869.7h0M525.4 889.3h0M550.4 868.9h0M492.6 1029.7h0M474.3 935.2h0M445.9 1038.2h0M351.5 1044.5h0M403.4 1025.8h0M504.9 905.4h0M518.7 1064.3h0M519.7 895.5h0M472.2 964.1h0M503.8 905.7h0M513.5 907h0M472.4 1002.9h0M542.3 875.3h0M342.8 1040.6h0M541.1 877h0M522.3 893h0M335.6 1050.1h0M392.2 1041.3h0M523.4 892.4h0M430.6 1007.4h0M438.2 1050.4h0M518.1 906.6h0M528.5 887h0M435.9 1033h0M486.8 1014.7h0M551.2 868.1h0M388.9 1030.2h0M478.9 999.1h0M395.8 1040.6h0M332.1 1049.1h0M531.8 883.2h0M423 1023.4h0M329 1035.9h0M471 965.3h0M478.1 1043.2h0"/><path d="M490.3 934h0M551 868.3h0M429.9 1042.1h0M517 897.1h0M536.5 881.6h0M361.1 1042.5h0M527.3 887.8h0M501.5 1035.5h0M328.8 1036h0M381.9 1038.3h0M479.1 1049.6h0M355.1 1035.2h0M390.6 1044.9h0M434.4 986.6h0M451.2 1045h0M412.6 1045.8h0M541.9 875.8h0M420.6 994.7h0M430.6 1050.4h0M366.3 1029.1h0M398.7 1042.7h0M512.2 905.7h0M335 1035.6h0M497.1 1047.6h0M514 898.8h0M471.5 1045.8h0M494.7 1038.6h0M533.4 890h0M423.8 1005.8h0M529.9 886.7h0M427.4 989.2h0M503.2 1049.6h0M501.1 958.5h0M524 910.3h0M540.9 876.2h0M547.6 871.4h0M547.2 873.2h0M430.5 1045.8h0M466.1 1044.7h0M530.7 884.3h0M472.5 931.9h0M328.6 1049.3h0M436.6 984.1h0M348.1 1047.1h0M518.2 1064.3h0M376.2 1019.5h0M470.9 1050.8h0M520.1 918.9h0M411.3 1019.5h0M428.3 986.9h0M417 1045.7h0M325.3 1045.1h0M504.1 905.4h0M537.2 879.2h0M455.5 979.7h0M427 1039.1h0M451.5 1002.6h0M382.3 1034.3h0M404.6 1014.4h0M531.9 883.1h0M480.1 927.1h0M340.3 1034.6h0M423.1 1025.3h0M387 1044.3h0M323.8 1038.2h0M516.9 898.9h0M426.7 1034.8h0M341.3 1047.7h0M331.9 1046.4h0M495.1 1041.8h0M383.2 1027.8h0M543.6 893.3h0M545.3 872.7h0"/><path d="M524.2 892.6h0M509.9 995.7h0M425.1 1039.8h0M376.3 1046h0M551.9 867.3h0M361.4 1046.8h0M552.4 867.3h0M492.4 912.4h0M540.6 879h0M394.7 1040.4h0M453.5 1035.1h0M365.8 1041.8h0M451.1 1048.4h0M396.5 1047.6h0M534.2 887.6h0M411.6 1044.1h0M318.8 1044.2h0M461.1 1039.6h0M451.9 1049.6h0M480 1048.2h0M416.6 1039.6h0M538.1 878.4h0M370.7 1046.2h0M492.8 946.8h0M501.8 1044.7h0M441.6 1046.4h0M490.2 1046.7h0M552.5 878.8h0M371.3 1036.6h0M517.5 896.9h0M458.7 1048.1h0M493 911.1h0M381.1 1049.9h0M470.2 948.1h0M543.1 885h0M447.4 964.8h0M520.7 894.6h0M513.3 900.6h0M506.5 1027.5h0M503.4 1049.3h0M430.6 1014.5h0M494.2 911.6h0M541.9 878.7h0M473.1 1016.8h0M519.1 896.8h0M416.2 1012.2h0M445.4 1050.1h0M540.1 885.1h0M381.6 1032h0M541.5 875.7h0M389 1040.5h0M455.2 979.5h0M489.3 929.4h0M502.6 1043.1h0M528.6 886.4h0M510.6 1036.2h0M422.5 1013.9h0M545.8 882.6h0M542.5 874.7h0M428.6 1023.6h0M520 895.8h0M345.5 1047.1h0M541.9 875.1h0M509.2 902.1h0M528.9 886h0M503.1 902.8h0M439.8 1048.1h0M552.5 867h0M541.8 876.5h0M416.5 1050h0M481.8 1049.9h0M437.6 980.9h0M360.5 1045.2h0"/><path d="M396.5 1011.2h0M538.4 878.5h0M498.8 917.7h0M401.1 1040.2h0M524.9 890.2h0M425.9 987.6h0M552 868h0M507.4 1045.8h0M443.3 971.4h0M519.5 902.3h0M332.9 1037.8h0M422.4 1027.1h0M499.9 917.5h0M451.9 1043.7h0M502.8 1049h0M401.2 1049.2h0M426.7 1002.2h0M498.5 908.4h0M516.6 1064.3h0M505 1047.6h0M547 871.2h0M416.2 1041.5h0M520.7 894.8h0M542.9 875h0M545.6 872.9h0M329.6 1037.7h0M516.7 1064.3h0M468.5 1045.4h0M465.8 1032.5h0M541.9 875.6h0M522.1 895.2h0M505.4 1050h0M318.1 1042.8h0M374.4 1046.1h0M545.1 877.6h0M302.9 1047.5h0M406.8 1014.4h0M540 888.6h0M548.5 870.3h0M499.8 1046.6h0M493.1 909.2h0M495.6 1031.3h0M418.8 1006.5h0M438.1 1050.1h0M427.3 1047.7h0M551.3 868.6h0M516.5 904.8h0M352.8 1029.2h0M509 1051.1h0M450.1 1045h0M496.1 907.3h0M531.6 883.9h0M546.2 871.9h0M538.7 877.7h0M325.8 1049.3h0M549.2 869.5h0M503.1 907.4h0M401.1 1049.2h0M494.5 906.7h0M551.3 868h0M549.6 869.7h0M416.5 1050.5h0M475 928.2h0M474.6 927.2h0M436.3 1013h0M543.2 874.1h0M534.9 880.9h0M519.7 895.3h0M402 1026.9h0M345.5 1049h0M330.4 1040.6h0M426.1 1045.6h0M488.9 1050.2h0"/><path d="M332.5 1045.4h0M543.8 873.6h0M500.8 909.7h0M535.1 880.8h0M536.8 880.7h0M490.5 1044.8h0M377.5 1030.6h0M479.3 922.2h0M541.8 876.2h0M510.6 904h0M440.5 984.9h0M424.9 1045.4h0M400.3 1035h0M380.7 1049.9h0M529 885.7h0M483.7 1042.3h0M532.6 882.4h0M315.8 1047.7h0M405.5 1005.7h0M327.6 1040.7h0M534.6 881.8h0M325.3 1044.9h0M451.3 1000.4h0M534.8 881.4h0M340.3 1041.9h0M391.3 1035.3h0M391.2 1048.8h0M489.8 921.1h0M545.9 872.3h0M331.9 1043.9h0M479.8 1031.6h0M417.5 1001.6h0M523.9 891.3h0M322.3 1040.7h0M440.6 1050.2h0M547.4 871h0M377.5 1044h0M327.1 1046.3h0M483.2 918.4h0M539.8 877.6h0M436.8 976.1h0M409.9 1029.4h0M494.2 1038.4h0M363.5 1041.8h0M398.5 1042.9h0M493.4 912.5h0M362.9 1029h0M492.5 913.9h0M543.6 874.8h0M509.7 904.6h0M515.6 897.7h0M335.9 1040h0M516.2 898.3h0M530.8 884.3h0M506.7 975.9h0M534.1 881.1h0M516.1 898.5h0M500.5 907.9h0M378.4 1031.2h0M440.9 1045h0M331.9 1040.2h0M512.8 900h0M352.5 1050.1h0M523.2 893.4h0M361.1 1037.6h0M542 882.1h0M546.2 873.5h0M515.6 897.7h0M363 1028.4h0M528.2 886.7h0M407.8 1048.3h0M519.5 895.7h0M552.6 867h0"/></g><path d="M346.27 1064.38H356.33V1047.52H346.27ZM351.30 1047.52V1031.23M348.78 1031.23H353.81M366.40 1064.38H376.46V1046.22H366.40ZM371.43 1046.22V1024.38M368.91 1024.38H373.94M386.53 1064.38H396.59V1045.26H386.53ZM391.56 1045.26V1018.38M389.04 1018.38H394.07M406.66 1064.38H416.72V1046.22H406.66ZM411.69 1046.22V1019.41M409.17 1019.41H414.20M426.79 1064.38H436.85V1048.49H426.79ZM431.82 1048.49V1026.52M429.30 1026.52H434.33M446.92 1064.38H456.98V1048.49H446.92ZM451.95 1048.49V1024.38M449.43 1024.38H454.46M467.05 1064.38H477.11V1049.39H467.05ZM472.08 1049.39V1026.52M469.56 1026.52H474.59M487.18 1064.38H497.24V1027.49H487.18ZM492.21 1027.49V975.28M489.69 975.28H494.72M507.30 1064.38H517.37V924.55H507.30ZM512.34 924.55V901.29M509.82 901.29H514.85M527.43 899.35H537.50V890.76H527.43ZM532.47 899.35V912.47M529.95 912.47H534.98M532.47 890.76V882.55M529.95 882.55H534.98M547.56 883.20H557.63V871.57H547.56ZM552.60 883.20V901.94M550.08 901.94H555.11M552.60 871.57V868.34M550.08 868.34H555.11" fill="none" stroke="#000" stroke-width="1.3875000000000002" stroke-linecap="square"/><path d="M165.10 1064.38H175.16M185.23 1064.38H195.29M205.36 1064.38H215.42M225.49 1064.38H235.55M245.62 1064.38H255.68M265.75 1064.38H275.81M285.88 1064.38H295.94M306.01 1064.38H316.07M326.14 1064.38H336.20M346.27 1064.38H356.33M366.40 1064.38H376.46M386.53 1064.38H396.59M406.66 1064.38H416.72M426.79 1064.38H436.85M446.92 1064.38H456.98M467.05 1064.38H477.11M487.18 1064.38H497.24M507.30 1048.23H517.37M527.43 895.28H537.50M547.56 877.51H557.63M567.69 875.45H577.76" fill="none" stroke="#ff7f0e" stroke-width="1.3875000000000002"/></g><g clip-path="url(#ca4)"><path d="M652.3 1064.28H1026.3" stroke="#000" stroke-opacity="0.97" stroke-width="3.3" stroke-linecap="round" fill="none"/><polyline points="1009.5,905.9 1017.6,901.4 1026.7,896.3" fill="none" stroke="#000" stroke-opacity="0.3" stroke-width="3" stroke-linecap="round" stroke-linejoin="round"/><polyline points="1024.6,897.5 1027.7,895.6 1032.7,890.4 1037.7,884.6 1059.9,867.5" fill="none" stroke="#000" stroke-opacity="0.72" stroke-width="2.7" stroke-linecap="round" stroke-linejoin="round"/><g fill="none" stroke="#000" stroke-opacity="0.14" stroke-width="3.2" stroke-linecap="round"><path d="M1054 871.6h0M853.7 1049.4h0M911.5 1017.2h0M1031.8 890.9h0M1057 869.2h0M868.8 1029.1h0M920.4 1049h0M1018.2 1051.2h0M843.1 1042.6h0M1019.7 899.7h0M869.9 1042.6h0M939.2 984.5h0M1049.8 874.8h0M944 981.9h0M1007.3 954.8h0M846.4 1037.4h0M850.1 1033.7h0M1052.7 892.8h0M1009.4 905.5h0M837.3 1044.3h0M1045.7 877.9h0M963.2 1042.7h0M1040 882.2h0M986.9 1049.1h0M1032.4 891.3h0M940.8 982.5h0M1024.6 897.2h0M1018.3 905.8h0M1051.2 873.5h0M897.1 1013.9h0M990 1047.9h0M927.9 993h0M986.8 923.5h0M882.6 1030.5h0M881.6 1047.7h0M926.5 1031.4h0M879.3 1042.3h0M1021.6 899.5h0M844.4 1040.9h0M863.3 1029.9h0M1035.1 886.8h0M976.2 941.8h0M863.1 1029.2h0M983.3 1047.7h0M834.8 1049.2h0M845.9 1041h0M935.9 1004.5h0M1039.6 884.6h0M941.2 1047.7h0M1020.4 900.3h0M918.3 1006.7h0M834.1 1044.1h0M885.5 1032.1h0M972.1 1004.5h0M837.6 1046.3h0M1029.6 894.6h0M1000.5 914.5h0M855.9 1045h0M965.1 1037.7h0M878 1049.1h0M1024.5 898h0M813.2 1046.1h0M992.9 1050.8h0M1051.8 873.3h0M889.3 1031.4h0M1024.2 909.1h0M1058.3 868h0M886.8 1035.6h0M992.2 918h0M1016.6 1050h0M875.5 1049.6h0M838 1045.4h0M924 1048.1h0M1029 893.8h0"/><path d="M1022.5 899.1h0M875 1045.9h0M922.5 1034h0M1022.9 898.6h0M1041.1 881.5h0M1004.4 1033.2h0M913.7 1046.4h0M1045.2 878.5h0M1008.1 914h0M884.4 1027.9h0M1027.5 895.2h0M968.7 1048.4h0M954.7 1027.3h0M864.1 1045.4h0M1036.9 885.8h0M994.8 1050.2h0M984.1 1024h0M1050.6 877h0M1039.5 903.4h0M934.9 1049.9h0M1039.7 882.5h0M1011.3 902.2h0M1002.6 908.8h0M878.4 1022.1h0M1024.1 897.3h0M1034.4 893.5h0M1054.2 871.7h0M893.3 1023.1h0M1039.3 882.8h0M958.4 968.9h0M1049.4 892.9h0M898.1 1048.1h0M1051.5 874.3h0M1024.4 898.1h0M1052.9 872.5h0M912.2 1047.4h0M814.3 1047.1h0M1057.4 868.8h0M871.2 1028.7h0M1002.6 1050.8h0M970.4 1023.4h0M1010.7 905.4h0M1034.7 887.2h0M987.6 1048.3h0M1053.8 871.6h0M1023.3 898h0M976 1048h0M1033.1 889.4h0M1035.3 886.5h0M993.3 1048.2h0M850.7 1046.8h0M995.1 1027.8h0M1056.7 871.9h0M1035.1 887.1h0M968.8 1048.8h0M982.5 1049h0M1035.6 890.3h0M1035.3 887.1h0M842.2 1034.9h0M1040.7 887h0M1011.8 915.6h0M1016.2 1050.6h0M864.6 1040.3h0M866.2 1038h0M1009.3 938.8h0M998.4 1050h0M1014.1 904h0M1028.6 904.1h0M860.4 1030.8h0M949.4 973.3h0M927.3 1006.2h0M941.3 1039.2h0M1053.1 872.6h0M1022.3 898.7h0"/><path d="M1033.9 888.5h0M837.9 1047h0M907 1032.4h0M1047.5 882.6h0M996.7 916.6h0M1057.9 868.5h0M1011.4 908.2h0M1029.7 892.7h0M889.9 1020.2h0M1021.1 898.6h0M980.4 1042.3h0M1045.8 877.6h0M1020.2 899.3h0M1055.7 870.8h0M940.4 1042.7h0M1017.9 1036.5h0M851.9 1042.2h0M964.4 1044.4h0M915.3 1050.2h0M1014.2 958.7h0M930 1030.3h0M955 1049.2h0M973.7 1045.7h0M825.5 1046.4h0M1013.3 1050h0M968.9 1049.4h0M1042.7 880.5h0M860.4 1046.8h0M890 1043.3h0M1033.3 889.1h0M1051.8 873.6h0M894.6 1035.8h0M1050.7 875h0M997.4 1051.2h0M1041.6 883h0M889.8 1049.5h0M1019.9 899.5h0M1047.8 878.9h0M1050.8 874.4h0M964.9 966.4h0M1023.7 898.1h0M1014.9 1011.9h0M1033.5 894.9h0M1022.9 919.8h0M915.6 1003.6h0M809.8 1047.5h0M920.2 1045.8h0M875.5 1030.5h0M965.1 1009.6h0M1051.8 873.3h0M874.5 1026.6h0M1010.2 914h0M849.5 1038.4h0M964.4 1050.2h0M985.3 1012.8h0M1008.7 903.7h0M972.4 1050.7h0M1040.1 882.3h0M1033.2 888.9h0M1003.5 1047.2h0M867.4 1043.3h0M953.7 997.2h0M876.5 1044.5h0M1027.7 895.3h0M844.4 1041.3h0M948.9 1048.8h0M936.5 1027.3h0M1022.2 898.4h0M900.5 1040.2h0M1043.9 879.5h0M889.4 1022.8h0M1058.8 869.1h0M945.2 983.6h0M1029.4 893.2h0"/><path d="M1046.9 880.5h0M839.6 1045.9h0M987.8 1050.1h0M810.9 1048.9h0M1030.7 891.8h0M894.9 1047.1h0M900.8 1020.7h0M953.4 1047.8h0M854.3 1035.9h0M1047.5 900.7h0M1004.6 938.6h0M908.6 1048.1h0M1024.6 1064.3h0M963.9 957.3h0M1000 911.8h0M914.4 1046.2h0M860.8 1034.3h0M1049 876.6h0M1031.5 891.4h0M1050.6 874.3h0M999.5 911.3h0M1028.2 913.4h0M1031.7 891.3h0M973.2 1047h0M1029.6 892.8h0M975.6 1007.2h0M1028.2 926.1h0M956.3 1048.1h0M839 1050.1h0M814.8 1047h0M1004 920.9h0M829 1047.6h0M1033.8 896.9h0M939.8 1046.4h0M1035 887.3h0M1045.4 878.3h0M979.3 940.2h0M1052.7 877.9h0M1055.5 871h0M1023.7 897.2h0M873.2 1035.9h0M837.7 1049.2h0M1003.6 921.4h0M998.6 996.6h0M891.9 1015.4h0M946.5 988.6h0M1030 894.8h0M841.3 1034.5h0M1048.8 878.5h0M990.3 950.2h0M927 1029.9h0M1036.2 885.6h0M1028.9 894.3h0M917 1005.7h0M1057.7 868.8h0M1044.8 889.9h0M1024.5 1064.3h0M887.7 1047.3h0M976.5 936.2h0M1000 1042.7h0M844.6 1034h0M1059.3 870.1h0M920.9 1035.3h0M911 1035.9h0M898.8 1048.1h0M1054.1 871.2h0M1057.5 868.5h0M1019.7 899.7h0M1011.1 1048.5h0M850.3 1034.2h0M1054 876.5h0M1059.5 867.1h0M843.3 1043.3h0M988.2 989.9h0"/><path d="M825.4 1044.4h0M843.6 1034.9h0M852.3 1030.5h0M884.4 1050.2h0M865.2 1029.1h0M1015.2 930.5h0M957.7 1013.5h0M1038.9 883h0M999.9 910.7h0M1020 899.3h0M1057.9 868.6h0M1054.6 871.7h0M1014 920.9h0M1025.5 927.1h0M1005.5 1028.3h0M1041.1 881.3h0M903.4 1015h0M1025.3 902h0M1037.3 884.5h0M1029.3 893.1h0M891.5 1024.8h0M1035 887.8h0M976.1 1033.4h0M1001 910h0M1038.3 883.6h0M876.5 1044.9h0M866.3 1045.4h0M1022.3 897.9h0M1023.9 897.1h0M862.7 1036.3h0M847.8 1032.3h0M905 1036.8h0M1047.2 877.3h0M894.6 1038.9h0M832.8 1037.8h0M1039.7 882.5h0M1034.2 887.8h0M1022.4 898.1h0M1028.9 894.7h0M1008.8 905.4h0M995.1 1047.6h0M999.7 909.2h0M1014.7 904.6h0M1024.2 906.1h0M1031.6 891.3h0M1054.6 871.1h0M905.6 1011h0M976.1 1051h0M878.8 1045.6h0M1001 927.9h0M1031.4 892.1h0M974.3 1047.3h0M887.8 1019.6h0M1021.8 906.8h0M1001.4 1022.9h0M846.2 1043.4h0M924.9 1043h0M1050.6 874.3h0M892.7 1043.5h0M1042.6 880.4h0M1024.3 897.7h0M1049 878.5h0M1048.9 883.8h0M889.1 1016.3h0M974.2 1050.4h0M1002.1 955h0M1017.1 901.7h0M995 1051.4h0M891.6 1041.9h0M844.1 1043.5h0M874.8 1041.2h0M1029.5 895h0M948.6 1026.2h0M836.2 1045.5h0"/><path d="M894.5 1048.7h0M848.6 1036.9h0M878.2 1033.4h0M953.2 988.7h0M956.3 963.8h0M1045.5 878.1h0M905.7 1013.4h0M1022.2 898.4h0M1017.1 913.3h0M986.9 924.4h0M887.9 1028.3h0M881.5 1038.8h0M972.3 992.6h0M823.1 1042.3h0M920.6 1018.6h0M1050.6 877h0M1048.9 881.8h0M1027.5 896h0M1037.5 884.7h0M946.3 1046.3h0M948.6 982h0M850 1045.8h0M918.1 1046.3h0M1032.9 890.3h0M1001.6 997.5h0M948.6 1050.4h0M963.4 1020.4h0M908.8 1042.9h0M984.7 998.8h0M1045 878.6h0M942.1 1045.3h0M1031.9 892.4h0M1012.1 905.5h0M1020 906.8h0M923.3 999.3h0M843.1 1048.9h0M1037.7 884.6h0M1041.4 888.6h0M843.7 1047.3h0M906.2 1050.1h0M909.5 1043.9h0M944.2 996.5h0M923.8 1049.4h0M1057.9 868.3h0M1028.6 894.1h0M912.8 1028.6h0M990.7 1034.3h0M1029.8 893.4h0M1039.4 887.4h0M884 1040h0M905.1 1038h0M896.3 1045.8h0M1041.5 889.4h0M1024.1 897h0M1018.4 904h0M1018.9 914.7h0M1058.2 868.2h0M1002.8 1050.8h0M1010.6 906.5h0M882.9 1029.1h0M978.4 930.9h0M1000.9 930.4h0M936.5 1047.1h0M988.4 924.7h0M1033.5 888.5h0M1038.6 891.1h0M1031.2 891.9h0M1054.4 871h0M873.7 1048.1h0M1039.4 883.5h0M975.4 940.2h0M855 1050.1h0M950.6 1012.4h0M974 1045.4h0"/><path d="M1008.3 914.7h0M920.2 1003.2h0M953.6 1030.9h0M1042 883.7h0M958.6 1050.2h0M1053.1 879.8h0M984 926.6h0M1007.9 920.1h0M1010.4 963.3h0M851.1 1035h0M1015.9 1049.4h0M842.1 1049.2h0M1036.9 885.4h0M992.3 1040.9h0M1003.8 1036.1h0M840 1037.6h0M934.6 1042h0M949.7 1042.3h0M1025.2 896.6h0M970.8 942.8h0M957 1049.9h0M939.2 1001.4h0M1021.9 898.7h0M818.5 1049h0M848.3 1046.7h0M933.1 1000.3h0M1036 886.4h0M968.6 1029h0M1058.5 867.8h0M867 1036.1h0M850.2 1046.9h0M1033.6 889.4h0M1012.2 915.1h0M919.5 1014.3h0M1043.7 882.3h0M892.2 1020.7h0M982.4 1003.1h0M1028.9 894.1h0M952.2 1049.8h0M1024 897.3h0M1011.6 907h0M1012.4 1047.9h0M1052.5 873.3h0M817.4 1045.7h0M884 1022h0M1052.9 872.9h0M968.2 951h0M987.8 1015h0M950.4 1049.8h0M888.4 1034.2h0M1004.4 905.3h0M826.6 1049.7h0M1001.3 1047.9h0M964.8 990.8h0M1028.1 895h0M1035.3 887.1h0M918.9 1040.8h0M849.3 1041.6h0M897.8 1050.2h0M925.9 1009.8h0M1009.7 1044.1h0M1024.1 897.2h0M1031.6 890.9h0M1003.4 972.1h0M1056.8 871.8h0M852.9 1046.8h0M951.5 1044.9h0M1025.6 909.9h0M1038.4 883.7h0M849.3 1044.2h0M1012.9 909.5h0M821.2 1049.8h0M823.8 1047.6h0M1030.6 898.4h0"/><path d="M888.7 1027.4h0M828.6 1043.1h0M1030.9 891.3h0M995.7 969.5h0M1039.6 883.2h0M1043.3 881h0M1022.1 898.8h0M1048.7 876.1h0M946.5 973.7h0M984.3 928.1h0M1013.7 903h0M1003.9 924.1h0M1043.1 883.2h0M872.9 1050.1h0M865.5 1027.6h0M837.6 1044.6h0M1003.9 1022.2h0M942.6 978.3h0M976 984.6h0M839.6 1045h0M952.5 1043.6h0M1001.1 918.6h0M993.8 1051h0M902.2 1025.2h0M827.8 1047.5h0M1036.6 895.9h0M1023.9 897h0M933.7 991h0M851 1042.6h0M964.4 954.8h0M915.8 1048.8h0M860 1035.8h0M846.5 1049.3h0M1026.2 896h0M1018.2 900.1h0M848.8 1043.5h0M1047 900.6h0M954.6 1044h0M905.8 1049.7h0M1027.4 896.8h0M832.8 1044.4h0M965.9 1047.9h0M996.7 1048.4h0M913.1 1009.2h0M1002.5 913h0M1020.9 899.5h0M1024.1 898.5h0M1024.7 897.6h0M933.7 988.8h0M1032.3 890.6h0M861.9 1038.8h0M1048 899.8h0M1024.6 896.7h0M983.5 924.5h0M969.5 1045.8h0M998.4 1051.1h0M1019.9 900h0M868.7 1037.1h0M1014.3 1028h0M1030 892.5h0M933.7 1049.4h0M993.3 1036.4h0M931.1 1027.3h0M840.3 1036.5h0M939.7 1034.6h0M977.3 932.8h0M940.8 986.3h0M1059.1 869.8h0M867.6 1036.1h0M876.6 1048.5h0M1055.9 870.1h0M849.4 1032.2h0M924.8 1045h0M1000.9 917.4h0"/><path d="M1030.6 892.3h0M876.7 1039h0M871.1 1025.5h0M1004.4 910.1h0M951.6 970.2h0M1025.9 896h0M1029.5 894.1h0M859.6 1047.2h0M838.4 1041.5h0M840.1 1035.2h0M1022.5 897.9h0M906.8 1027h0M973.5 1043.9h0M1031.1 894h0M1025.6 896.3h0M912.1 1046h0M917.1 1047.2h0M1051.6 873.1h0M1051.8 873.3h0M1048.4 880.6h0M852.2 1050.1h0M841.3 1034.9h0M1002.9 913h0M1008.7 909h0M1022.1 898.1h0M1026.5 1064.3h0M867.4 1038.2h0M881.1 1041.2h0M1056.4 870h0M895.4 1043.9h0M1014 1050.4h0M1004 915.5h0M848.4 1049.8h0M1021.5 899.8h0M1040 882.6h0M1054.2 873.3h0M985.3 1050.7h0M1004 938.4h0M1005.9 908.6h0M1031.8 891.9h0M953.9 967h0M1043 879.8h0M966.3 1049.7h0M927.7 1042.7h0M1029.6 893.3h0M935.5 1047.2h0M923.4 1043.1h0M836.8 1040.1h0M993 917h0M993.6 1024.7h0M1026 895.9h0M918 1027.9h0M925.2 1028.1h0M1039.2 882.8h0M935.2 1043.9h0M1028.4 894.3h0M860.1 1030.5h0M1008.2 914.9h0M934 1028.1h0M1021 898.9h0M857.9 1042.9h0M866.8 1028.6h0M892.8 1047.7h0M1002 912.8h0M878.5 1021.4h0M830.8 1049.2h0M914 1019h0M859.5 1045.7h0M1052.8 878.6h0M1044.3 879.1h0M956.6 1010.4h0M898.7 1048h0M870.7 1044.5h0M944.6 986h0"/><path d="M993.9 1042.4h0M841.3 1042h0M840.5 1034.7h0M862.2 1040.1h0M857.1 1038.2h0M1041.8 883.1h0M1059.2 867.4h0M1014 903.3h0M952.7 973.2h0M894.3 1047.7h0M942 978.9h0M959.2 1049.1h0M1009.8 907.1h0M883.8 1040h0M922.2 1049.8h0M848.5 1050h0M847.1 1049h0M1007 914.3h0M926.5 1039h0M888.6 1027.9h0M1045.2 878.6h0M1042.9 880.3h0M922.9 1035.1h0M1025.3 896.5h0M1050.7 878.8h0M925.7 1050.2h0M812.9 1048.9h0M840.1 1038.8h0M892.3 1043.8h0M974 1049.2h0M858.2 1036.9h0M1039.9 885.1h0M1050.1 874.3h0M1005.6 905.7h0M1031.7 890.5h0M1029.2 893.9h0M1005.3 1046.8h0M1005.1 909.9h0M987.2 1046.5h0M958.6 1044.6h0M999.1 1051.2h0M944.4 1006.6h0M962.1 981.6h0M993.3 1038.7h0M835.4 1043.3h0M1007.5 912.9h0M1028.8 893.9h0M948.1 1016.7h0M1038.6 899.7h0M1052.5 872.8h0M874.9 1040.8h0M972.1 1026.7h0M1028.8 893.7h0M862 1044.9h0M1025.3 896.7h0M1042 881.4h0M1045.7 878.7h0M999.7 910.1h0M1000.4 1050.7h0M847.1 1046.4h0M1030.2 892.1h0M1017 902.4h0M977.1 970h0M882.5 1034h0M839.6 1036.6h0M828.9 1040.7h0M1023.1 898.1h0M1048.5 875.9h0M962.4 1041.3h0M1054.9 871.2h0M1024.5 897.7h0M1016.6 901.1h0M1013.6 948.6h0M965.7 952.1h0"/><path d="M1059.3 868h0M999.5 1045.3h0M942.8 980.6h0M991.1 938.7h0M851.1 1038.1h0M1022.3 902h0M1026.7 896.6h0M1059.7 869.5h0M1012 903.2h0M864.9 1025.8h0M834 1042.3h0M1014.8 903.1h0M1024.9 897.5h0M893.9 1038h0M903.8 1036.3h0M897.7 1017.5h0M901.5 1011.8h0M1012.2 1043.1h0M983.9 1041.4h0M1005.9 907.1h0M846.9 1049.8h0M1002.7 995.7h0M1057 870.1h0M1052.4 881.4h0M887.3 1046.5h0M1047.4 877.2h0M859.3 1034.7h0M821.4 1047.7h0M1043.7 879.5h0M985.1 989.7h0M1032 891.1h0M1020.8 899.6h0M1021 899.2h0M976.9 1049.4h0M1036 890.1h0M984.6 929.6h0M1041.2 882.6h0M1025.9 896h0M882 1046.4h0M1035.9 886h0M989 1004.5h0M1048.1 906.4h0M1008 1044.4h0M997 1042.5h0M913.3 1027.4h0M1048.7 876.1h0M921.3 1035.5h0M1018.6 903.6h0M973.3 995.6h0M863.3 1041.4h0M1045.1 889h0M846.7 1042.2h0M904.2 1027.3h0M971 1051.1h0M1002.8 964.4h0M964 1033.8h0M907.4 1041.4h0M939.1 1035.1h0M838.8 1046.4h0M1000 1044h0M913 1005.5h0M1023.6 910.3h0M1004.9 911.2h0M1013.2 913.4h0M1047.6 876.3h0M951.4 980.1h0M1017.1 936.8h0M838.9 1042.4h0M959.4 1049.2h0M1004.6 907.2h0M1032.8 899.2h0M843.6 1047.2h0M940.8 983.6h0M1052.7 883.3h0"/><path d="M1024.4 896.7h0M991 1004.4h0M1034.7 887.2h0M1026 896.9h0M877.7 1039.8h0M978 981.7h0M938.9 1045.2h0M1037.2 885.8h0M832 1048.5h0M839.7 1047h0M1039.1 883.7h0M1054.7 874.5h0M859.9 1038.6h0M932.8 1034.8h0M970.2 1038.5h0M892.6 1044.9h0M1008.9 972.3h0M1043.8 883.5h0M1050.5 882.6h0M1032.6 897.8h0M974.6 1051.1h0M1043.8 880.5h0M979.2 933.7h0M1014.7 904.5h0M1013.8 904h0M1043 884h0M978.2 936.1h0M903 1028.4h0M873.4 1023h0M1010.8 1035.3h0M1033.8 888.4h0M826.9 1046.9h0M1051.5 873.9h0M829.9 1039.6h0M989.3 1032.1h0M864.7 1046.1h0M865.7 1025.2h0M871 1037.1h0M1031.4 899.6h0M864.1 1048.8h0M1043.4 880.2h0M905.3 1050.1h0M1029.6 892.9h0M942.7 1037.6h0M917.5 1047h0M1053.9 872.2h0M1024.8 896.8h0M816.9 1049.2h0M817.4 1048.9h0M835.6 1045.2h0M1044.2 879.3h0M873.8 1025.4h0M994.7 1046.6h0M980.6 1047.4h0M1039 883.3h0M832.3 1043.6h0M906.4 1011.1h0M1058.9 867.8h0M1031.9 890.5h0M899.1 1043.7h0M1049.3 876.1h0M1017.1 900.9h0M1015 944.6h0M1036.6 885.3h0M1053.3 872.6h0M871.8 1029.9h0M1002.8 960.6h0M862.2 1046.3h0M1056.4 871h0M1028.8 894.3h0M1014.3 1040.8h0M1007.2 1014.5h0M836.4 1040.9h0M890.5 1016.7h0"/><path d="M891.3 1029.6h0M879 1043.7h0M1025.4 1064.3h0M940.3 1049.9h0M1049.5 877.2h0M956.5 1046.2h0M871.8 1025.1h0M944.1 979h0M902.9 1011.5h0M965.1 1047.7h0M1046.6 877.4h0M1027.5 895h0M1040.2 882h0M900.1 1047.7h0M1040.7 882h0M880.2 1029.6h0M1051.7 873.2h0M848.2 1045.1h0M1058.4 867.9h0M1021.1 902h0M1059.3 867.2h0M896.3 1049.5h0M1010.6 905.4h0M831.6 1044.2h0M1052.7 872.8h0M944.9 1046.4h0M956.4 964h0M1051.4 884.1h0M1057.9 888.7h0M893.6 1017h0M930.8 1043.2h0M1040 886.8h0M1047 877.6h0M832.6 1047.6h0M1020.2 899.4h0M923.3 1018.8h0M846.1 1041.4h0M1023.3 897.4h0M883.4 1018.6h0M858.5 1039.5h0M915.9 1049h0M980.2 1049.8h0M1048.8 875.6h0M962.9 964.5h0M1041.4 885.7h0M1022.2 898.5h0M1035.9 885.9h0M818.2 1044.1h0M1023.4 897.5h0M864.6 1048.8h0M897 1014h0M1018.3 902.9h0M918.1 1013.4h0M888.4 1018.8h0M1019.8 899.8h0M847.8 1032.3h0M989.6 1049.2h0M1013.5 1047.3h0M1040.1 882.6h0M1002.4 914.5h0M822.8 1048h0M868.2 1034.5h0M917 1042.2h0M829.9 1049.7h0M1044.9 878.4h0M1013.7 965.8h0M1024.4 896.7h0M827.1 1049.8h0M994.2 1041.2h0M974.1 1050.9h0M812.9 1048h0M1004.2 919.2h0M1033.1 889.3h0M836.1 1046.1h0"/><path d="M893 1041.8h0M853.7 1042.6h0M960.5 1044.6h0M956.1 962.7h0M1005.7 1001.8h0M863.3 1028.7h0M1048.1 875.9h0M1034.2 890.8h0M1026.3 898.3h0M1018.2 903.4h0M1023.7 909.2h0M865.8 1048.8h0M995.9 1031.6h0M1042.3 880.6h0M938 1030.4h0M1015.3 1034.5h0M1030.2 913.1h0M1003.6 1007h0M947.9 979.6h0M1038.2 886.7h0M1004.8 912.7h0M1021.7 898.4h0M1051.8 873.1h0M882 1021.5h0M1006.7 1032.9h0M910 1036h0M1038 883.8h0M1057.2 869.3h0M1020.3 900.1h0M1047.7 877.8h0M989.2 1048.9h0M1057.5 877.2h0M876.7 1047.9h0M1028.4 894.4h0M1043.4 879.6h0M1053.8 879.9h0M830.5 1048.5h0M852.6 1032.2h0M882.2 1020.7h0M1007.5 920.2h0M1050.9 874.1h0M883.7 1024.2h0M832.9 1047.1h0M1047.8 876.4h0M1055.9 870.5h0M1026.3 896.4h0M1005.1 1010.1h0M1023.3 898.1h0M921.3 1016.5h0M1053.2 872.2h0M856.1 1045h0M951.3 1001.2h0M1027.6 896.9h0M1036.3 894h0M921.5 1037.1h0M876.1 1021.7h0M890.2 1020.9h0M1029.3 893.5h0M992.4 1007.9h0M883.1 1040.9h0M917.6 1010.4h0M1052.2 872.9h0M916.2 1022.3h0M1034.3 888.1h0M1027.5 1064.3h0M987.8 1048.4h0M923.6 1017.2h0M873.2 1022.7h0M1055.5 870.7h0M1055 870.7h0M927 1050.4h0M1027.1 895.4h0M1009.9 914.6h0"/><path d="M865.6 1046.5h0M1017.1 907.5h0M877.8 1047.7h0M1004.6 909.5h0M892.9 1015.3h0M1048.8 875.8h0M1057.9 872.5h0M1049.3 887.7h0M957.2 1034.6h0M923.6 1045.9h0M996.3 914.8h0M1055.1 870.8h0M1044.3 881.6h0M982.8 1048.8h0M1028.7 895.7h0M851.7 1047.6h0M968.4 945.8h0M1048.5 902.4h0M949.8 1048.8h0M1042.9 879.9h0M890.7 1025.2h0M858.6 1048.8h0M853.8 1049.5h0M971.5 1050.8h0M1008.6 906.2h0M930.6 1046.3h0M1012.6 904.7h0M1022.1 898.2h0M1014 1049.6h0M1026.4 895.7h0M891.2 1036.4h0M858.4 1038.3h0M1054.4 871.7h0M1025.7 900.6h0M1019.8 901.4h0M992 1051.3h0M834.4 1050.1h0M983.9 929h0M999.7 1049.6h0M1006.8 1050.6h0M1038.2 890.7h0M1053.2 873.2h0M1009 1044.2h0M871.6 1049h0M1037.3 884.8h0M1023.4 909.2h0M1007.2 906.1h0M838.4 1039.9h0M834 1046h0M845.9 1050h0M822.8 1048.5h0M1042.1 891.1h0M969.2 1037.9h0M903.4 1048.5h0M897.6 1027.8h0M1015.4 903.7h0M1055.9 870.5h0M868.3 1040.1h0M1030.7 892.6h0M1046.3 885.5h0M1023.2 898h0M940.7 1048.5h0M1055.3 871.3h0M888.9 1022.2h0M1046.8 883.6h0M879.1 1030h0M907.2 1015.4h0M1016.6 1037.7h0M1011.5 905.8h0M1038.1 884h0M1004.6 912.4h0M1029.2 894.1h0M1021.7 898.5h0"/><path d="M1037.3 884.6h0M926 1048.7h0M1020.9 899.3h0M917.2 1010.7h0M841.7 1041.9h0M1035.5 892.2h0M1020.4 899.7h0M899.8 1029.5h0M863.8 1050h0M838.9 1038.2h0M852.8 1039.6h0M1031 892h0M1037.2 885h0M874.8 1042.9h0M992.7 916.8h0M943 1008.2h0M1013.9 904.6h0M972.6 1016.4h0M900.1 1045.8h0M905.5 1043.8h0M857.4 1028.6h0M862.4 1044.7h0M875.8 1024.5h0M1059.7 874.1h0M1028.9 897.8h0M1039.7 883.3h0M1026.1 914.7h0M1057 869.1h0M1017.1 902.8h0M1026 1064.3h0M875.1 1047.3h0M845.3 1036.2h0M906.2 1046.5h0M1013.2 907.4h0M935.4 1025.3h0M947.3 973.3h0M1007.7 925.3h0M863.1 1046.4h0M1055.7 870.3h0M855.6 1042.5h0M1021.6 898.7h0M1053.5 871.7h0M1031.1 891.5h0M973.4 1032.1h0M1055.6 879.9h0M881.8 1024.8h0M1035 888h0M1055.8 875h0M1045.1 878.3h0M935 1033.2h0M1050.2 874.8h0M1054.1 871.7h0M999.1 1049.7h0M1001.5 941.7h0M1027 896h0M959.1 1016.2h0M1045.2 899.5h0M1057.6 870.6h0M986.7 1046.7h0M881.4 1029.4h0M941.3 1049.3h0M1020.4 901.6h0M1006.4 971.2h0M956 1027.2h0M809.7 1049.8h0M973.4 1038.4h0M991.4 920.6h0M1022.6 897.9h0M959.9 1049.1h0M1037.7 894.2h0M848.8 1044.3h0M964.4 952.1h0M1018 900.7h0"/><path d="M888.4 1045.4h0M1030.5 891.7h0M1030.9 894.3h0M1019.6 900.8h0M1001.4 917.7h0M968.4 1048.2h0M872.4 1037.6h0M1057.8 868.4h0M845.6 1042.6h0M966.9 954.3h0M840.3 1046h0M908 1039.8h0M1042.1 880.9h0M946.6 973.9h0M943.9 976.4h0M1018.3 995.4h0M915.7 1032.9h0M949.3 1050h0M897.5 1018h0M940.2 1049.5h0M838.5 1049.6h0M835.1 1047.7h0M957.7 1048.7h0M921.2 1049.4h0M855.6 1039.6h0M1030.8 892.8h0M1044.4 879.3h0M1023.8 897.4h0M851.4 1033h0M985.6 1003.2h0M1048.6 875.8h0M844.3 1043.5h0M965.9 1050.1h0M1033.8 889.4h0M844.4 1042.9h0M1049.4 875.1h0M1013.6 903.3h0M870.3 1025.6h0M928.8 1014.7h0M901.1 1047.1h0M1027 895.6h0M1032.2 891.1h0M1009.8 1048.6h0M998.7 909.3h0M1047.8 883.7h0M863.7 1031.3h0M1049.7 875.2h0M1018.3 901.4h0M1038.1 883.6h0M1051.1 873.8h0M975.8 987.9h0M963.7 954.1h0M1006.9 906h0M1053.4 871.8h0M835.4 1036.4h0M896.8 1049.7h0M972 946.3h0M905.9 1031.4h0M916.4 1049.8h0M971.2 1046.4h0M1013.3 914.1h0M1003.2 1041.9h0M1028.6 894.1h0M1053.2 876h0M849.5 1041.3h0M1027.8 895.1h0M1040.1 883.1h0M1038.8 883.4h0M996.8 1048.6h0M1028.3 894.8h0M850 1050h0M1007.9 1048h0M883.1 1024.2h0"/><path d="M928.8 993.2h0M1025.1 897.2h0M955.5 973h0M1027.3 905.2h0M943 1046h0M955.1 1038.9h0M1005.2 1047.1h0M899.7 1030.6h0M1004.9 911.6h0M1042.8 880.5h0M937.1 984.3h0M1038.5 888.3h0M1040.3 881.9h0M922.9 1020.9h0M1054.6 871.4h0M954.2 1008.7h0M956 999h0M1029.7 892.6h0M983 929.7h0M1053.7 871.6h0M979.7 1043.1h0M861.7 1029h0M1024 897.5h0M1032.8 889.5h0M1031.7 892.8h0M993.1 1040.8h0M1024.7 897.5h0M1043.3 898.1h0M1027.6 895.8h0M936.8 1050.7h0M932 1032h0M817.8 1047.8h0M1059.2 867.3h0M1031.7 891.1h0M1024.3 896.8h0M956.8 1050.7h0M846.6 1034.8h0M1002.9 1047.8h0M828.2 1039.9h0M999.5 949.3h0M1012.6 903.2h0M1052.8 872.6h0M1031.5 906.3h0M993.4 1031.1h0M823.6 1048.8h0M851 1043.2h0M1056 870.3h0M914 1037.6h0M1047.1 877.2h0M882.3 1045.2h0M1000.1 1042.2h0M1045.7 878.6h0M945.6 1043.2h0M926.7 1046.5h0M884 1037.5h0M1034.4 887.5h0M1012.4 1043.4h0M1008.8 906.5h0M1046.2 878.2h0M950.6 980.1h0M883 1024.1h0M916.3 1015.3h0M879.6 1032.8h0M1024.1 900.1h0M840.1 1038.1h0M1042.8 892.5h0M810.9 1050.2h0M1001.8 913.2h0M1049 877h0M1056.7 871.3h0M1032.9 889.2h0M1045.3 900.6h0M892.4 1026h0"/><path d="M1025.5 896.5h0M992.7 1047.3h0M840.2 1048h0M1019.5 1050.5h0M968.4 1016.7h0M910.2 1049.8h0M1034.4 888.2h0M909.6 1013.1h0M1012.5 912.9h0M1052.7 872.3h0M904.8 1046.9h0M902.1 1039.1h0M925.6 1047.1h0M1057.7 870.3h0M1015 1043.2h0M849.3 1034.9h0M1043.6 879.3h0M1058 868.3h0M834.6 1041.2h0M1017.4 910.8h0M932.2 1045.5h0M948.9 1045.2h0M917.3 1050.1h0M940.5 1044.7h0M1009.8 910h0M1055.3 870.6h0M1011.4 908.6h0M1046.9 877.2h0M992.6 920.9h0M866.9 1040h0M1048.7 885.4h0M813.9 1048.8h0M1051.7 873.3h0M819.8 1043.3h0M817 1049.2h0M1031.9 890.7h0M955.7 1041.7h0M927.4 1044.4h0M843.9 1034.1h0M972.2 1049.8h0M1038.8 883.6h0M1035.9 886.6h0M1036.5 905.1h0M1033.7 888.3h0M1009 910.3h0M1044.5 879h0M1039.2 883.1h0M944.3 1039.5h0M1017.4 1049.9h0M918.7 1001.3h0M915.8 1046.2h0M1025.4 896.2h0M864.9 1048.4h0M882.3 1048.8h0M1045.9 877.8h0M1016.4 1019.6h0M983 1046.3h0M997.7 986.7h0M982.6 965.3h0M909.3 1019.4h0M914 1005h0M902.8 1038.8h0M1046 877.8h0M829.4 1047h0M869.5 1031.3h0M827.2 1039.9h0M931.2 1029h0M865 1034.5h0M1025.8 903.1h0M1008.8 938.7h0M1031.2 891.5h0M1021.4 898.8h0M1029.2 893.5h0"/><path d="M905.1 1049.5h0M1011.5 1037.3h0M1027.8 895.4h0M839.2 1038.5h0M982.3 1048.3h0M868.9 1030.6h0M1055.2 870.5h0M896.8 1044h0M958.3 1036.2h0M1041.5 881h0M1038 883.8h0M837.1 1047.6h0M1025.9 896h0M940 1045.8h0M1034.8 902.3h0M994.3 916.2h0M1018.2 902.7h0M828.9 1045.5h0M849.8 1037.8h0M1018.7 904.1h0M980.9 934.1h0M948.9 1049.4h0M1014.6 904.5h0M1012.3 905h0M1007.2 1046.6h0M1051.8 894.5h0M1031.3 891.3h0M881.8 1025.8h0M1040.6 900.8h0M985.6 1051.1h0M985.4 1047.7h0M1044.6 879.1h0M865.2 1048h0M1051.2 874.1h0M1012.4 905.1h0M864.1 1029.6h0M975.6 935.3h0M1046.7 889.9h0M840.2 1044h0M1056.9 869h0M950.7 975.9h0M973.9 1031h0M1022.2 898.8h0M904.2 1039.1h0M1031.2 891.6h0M1028.8 894.4h0M859.2 1032.5h0M912.9 1035.7h0M1050.5 876.1h0M964.9 976.8h0M829 1044.4h0M861.2 1042.9h0M1016 977.2h0M1038.4 883.6h0M819.9 1045.8h0M1013.6 950.4h0M932.7 1048.7h0M1045.2 879.5h0M813 1048.9h0M894.3 1035.3h0M850.5 1042.8h0M1053.3 872h0M1002.1 908.4h0M930.9 1048.6h0M1020.3 899.7h0M1023.1 903.7h0M875.3 1041.5h0M923.7 998.7h0M1019.9 899.8h0M1045.4 878.2h0M1046.9 878.7h0M1032.7 893.6h0M1021.1 899.5h0"/></g><path d="M873.67 1064.38H883.73V1044.48H873.67ZM878.70 1044.48V1023.74M876.19 1023.74H881.22M893.80 1064.38H903.86V1045.51H893.80ZM898.83 1045.51V1018.50M896.32 1018.50H901.35M913.93 1064.38H923.99V1046.48H913.93ZM918.96 1046.48V1020.25M916.44 1020.25H921.48M934.06 1064.38H944.12V1047.52H934.06ZM939.09 1047.52V1025.48M936.57 1025.48H941.61M954.19 1064.38H964.25V1050.49H954.19ZM959.22 1050.49V1029.49M956.70 1029.49H961.74M974.32 1064.38H984.38V1047.52H974.32ZM979.35 1047.52V1024.26M976.83 1024.26H981.87M994.45 1064.38H1004.51V1033.24H994.45ZM999.48 1033.24V987.49M996.96 987.49H1002.00M1014.58 1064.38H1024.64V921.52H1014.58ZM1019.61 921.52V900.65M1017.09 900.65H1022.13M1034.71 899.35H1044.77V890.76H1034.71ZM1039.74 899.35V910.34M1037.22 910.34H1042.26M1039.74 890.76V882.55M1037.22 882.55H1042.26M1054.84 883.20H1064.90V871.57H1054.84ZM1059.87 883.20V901.94M1057.35 901.94H1062.39M1059.87 871.57V868.34M1057.35 868.34H1062.39" fill="none" stroke="#000" stroke-width="1.3875000000000002" stroke-linecap="square"/><path d="M672.37 1064.38H682.44M692.50 1064.38H702.57M712.63 1064.38H722.70M732.76 1064.38H742.82M752.89 1064.38H762.95M773.02 1064.38H783.08M793.15 1064.38H803.21M813.28 1064.38H823.34M833.41 1064.38H843.47M853.54 1064.38H863.60M873.67 1064.38H883.73M893.80 1064.38H903.86M913.93 1064.38H923.99M934.06 1064.38H944.12M954.19 1064.38H964.25M974.32 1064.38H984.38M994.45 1064.38H1004.51M1014.58 1045.51H1024.64M1034.71 895.28H1044.77M1054.84 877.51H1064.90M1074.97 875.45H1085.03" fill="none" stroke="#ff7f0e" stroke-width="1.3875000000000002"/></g><rect x="150.50" y="144.50" width="423.00" height="420.00" fill="none" stroke="#000" stroke-width="1.11"/><rect x="657.50" y="144.50" width="423.00" height="420.00" fill="none" stroke="#000" stroke-width="1.11"/><rect x="150.50" y="648.50" width="423.00" height="420.00" fill="none" stroke="#000" stroke-width="1.11"/><rect x="657.50" y="648.50" width="423.00" height="420.00" fill="none" stroke="#000" stroke-width="1.11"/><path d="M150.50 564.50v4.86M235.50 564.50v4.86M319.50 564.50v4.86M404.50 564.50v4.86M488.50 564.50v4.86M573.50 564.50v4.86M150.50 564.50h-4.86M150.50 480.50h-4.86M150.50 396.50h-4.86M150.50 312.50h-4.86M150.50 228.50h-4.86M150.50 144.50h-4.86M679.50 564.50v4.86M734.50 564.50v4.86M788.50 564.50v4.86M842.50 564.50v4.86M896.50 564.50v4.86M950.50 564.50v4.86M1005.50 564.50v4.86M1059.50 564.50v4.86M657.50 543.50h-4.86M657.50 489.50h-4.86M657.50 435.50h-4.86M657.50 381.50h-4.86M657.50 328.50h-4.86M657.50 274.50h-4.86M657.50 220.50h-4.86M657.50 166.50h-4.86M170.50 1068.50v4.86M190.50 1068.50v4.86M210.50 1068.50v4.86M231.50 1068.50v4.86M251.50 1068.50v4.86M271.50 1068.50v4.86M291.50 1068.50v4.86M311.50 1068.50v4.86M331.50 1068.50v4.86M351.50 1068.50v4.86M371.50 1068.50v4.86M392.50 1068.50v4.86M412.50 1068.50v4.86M432.50 1068.50v4.86M452.50 1068.50v4.86M472.50 1068.50v4.86M492.50 1068.50v4.86M512.50 1068.50v4.86M532.50 1068.50v4.86M553.50 1068.50v4.86M573.50 1068.50v4.86M150.50 1068.50h-4.86M150.50 1003.50h-4.86M150.50 939.50h-4.86M150.50 874.50h-4.86M150.50 810.50h-4.86M150.50 745.50h-4.86M150.50 680.50h-4.86M677.50 1068.50v4.86M698.50 1068.50v4.86M718.50 1068.50v4.86M738.50 1068.50v4.86M758.50 1068.50v4.86M778.50 1068.50v4.86M798.50 1068.50v4.86M818.50 1068.50v4.86M838.50 1068.50v4.86M859.50 1068.50v4.86M879.50 1068.50v4.86M899.50 1068.50v4.86M919.50 1068.50v4.86M939.50 1068.50v4.86M959.50 1068.50v4.86M979.50 1068.50v4.86M999.50 1068.50v4.86M1020.50 1068.50v4.86M1040.50 1068.50v4.86M1060.50 1068.50v4.86M1080.50 1068.50v4.86M657.50 1068.50h-4.86M657.50 1003.50h-4.86M657.50 939.50h-4.86M657.50 874.50h-4.86M657.50 810.50h-4.86M657.50 745.50h-4.86M657.50 680.50h-4.86" stroke="#000" stroke-width="1.11" fill="none"/><g opacity="0.999"><g stroke="#000" stroke-width="0.22"><text x="253.75" y="135.67" font-size="17.0" textLength="215.63" lengthAdjust="spacingAndGlyphs">Ranks - (red &gt;= 0.05 IDR)</text></g><text x="309.75" y="604.38" font-size="14.1" textLength="103.63" lengthAdjust="spacingAndGlyphs">Sample 1 Rank</text><text transform="translate(109.02 405.95) rotate(-90)" x="0" y="0" font-size="14.1" textLength="103.50" lengthAdjust="spacingAndGlyphs">Sample 2 Rank</text><text x="139.76" y="584.82" font-size="14.1" textLength="20.88" lengthAdjust="spacingAndGlyphs">0.0</text><text x="224.31" y="584.82" font-size="14.1" textLength="20.87" lengthAdjust="spacingAndGlyphs">0.2</text><text x="308.85" y="584.82" font-size="14.1" textLength="20.88" lengthAdjust="spacingAndGlyphs">0.4</text><text x="393.34" y="584.82" font-size="14.1" textLength="21.00" lengthAdjust="spacingAndGlyphs">0.6</text><text x="477.88" y="584.82" font-size="14.1" textLength="21.00" lengthAdjust="spacingAndGlyphs">0.8</text><text x="562.43" y="584.82" font-size="14.1" textLength="21.00" lengthAdjust="spacingAndGlyphs">1.0</text><text x="119.10" y="569.60" font-size="14.1" textLength="20.88" lengthAdjust="spacingAndGlyphs">0.0</text><text x="119.10" y="485.60" font-size="14.1" textLength="20.88" lengthAdjust="spacingAndGlyphs">0.2</text><text x="119.10" y="401.60" font-size="14.1" textLength="20.88" lengthAdjust="spacingAndGlyphs">0.4</text><text x="118.98" y="317.60" font-size="14.1" textLength="21.00" lengthAdjust="spacingAndGlyphs">0.6</text><text x="118.98" y="233.60" font-size="14.1" textLength="21.00" lengthAdjust="spacingAndGlyphs">0.8</text><text x="118.98" y="149.60" font-size="14.1" textLength="21.00" lengthAdjust="spacingAndGlyphs">1.0</text><g stroke="#000" stroke-width="0.22"><text x="730.59" y="135.67" font-size="17.0" textLength="276.50" lengthAdjust="spacingAndGlyphs">Log10 Scores - (red &gt;= 0.05 IDR)</text></g><text x="793.40" y="604.38" font-size="14.1" textLength="150.87" lengthAdjust="spacingAndGlyphs">Sample 1 log10 Score</text><text transform="translate(616.29 429.58) rotate(-90)" x="0" y="0" font-size="14.1" textLength="150.76" lengthAdjust="spacingAndGlyphs">Sample 2 log10 Score</text><text x="669.26" y="584.82" font-size="14.1" textLength="20.87" lengthAdjust="spacingAndGlyphs">0.5</text><text x="723.39" y="584.82" font-size="14.1" textLength="21.00" lengthAdjust="spacingAndGlyphs">1.0</text><text x="777.58" y="584.82" font-size="14.1" textLength="21.00" lengthAdjust="spacingAndGlyphs">1.5</text><text x="831.84" y="584.82" font-size="14.1" textLength="20.88" lengthAdjust="spacingAndGlyphs">2.0</text><text x="886.04" y="584.82" font-size="14.1" textLength="20.87" lengthAdjust="spacingAndGlyphs">2.5</text><text x="940.23" y="584.82" font-size="14.1" textLength="20.88" lengthAdjust="spacingAndGlyphs">3.0</text><text x="994.43" y="584.82" font-size="14.1" textLength="20.88" lengthAdjust="spacingAndGlyphs">3.5</text><text x="1048.63" y="584.82" font-size="14.1" textLength="20.87" lengthAdjust="spacingAndGlyphs">4.0</text><text x="626.38" y="548.60" font-size="14.1" textLength="20.87" lengthAdjust="spacingAndGlyphs">0.5</text><text x="626.25" y="494.75" font-size="14.1" textLength="21.00" lengthAdjust="spacingAndGlyphs">1.0</text><text x="626.25" y="440.91" font-size="14.1" textLength="21.00" lengthAdjust="spacingAndGlyphs">1.5</text><text x="626.38" y="387.06" font-size="14.1" textLength="20.87" lengthAdjust="spacingAndGlyphs">2.0</text><text x="626.38" y="333.22" font-size="14.1" textLength="20.87" lengthAdjust="spacingAndGlyphs">2.5</text><text x="626.38" y="279.37" font-size="14.1" textLength="20.87" lengthAdjust="spacingAndGlyphs">3.0</text><text x="626.38" y="225.52" font-size="14.1" textLength="20.87" lengthAdjust="spacingAndGlyphs">3.5</text><text x="626.38" y="171.68" font-size="14.1" textLength="20.87" lengthAdjust="spacingAndGlyphs">4.0</text><g stroke="#000" stroke-width="0.22"><text x="236.13" y="639.67" font-size="17.0" textLength="250.87" lengthAdjust="spacingAndGlyphs">Sample 1 Ranks vs IDR Values</text></g><text x="291.00" y="1108.38" font-size="14.1" textLength="141.13" lengthAdjust="spacingAndGlyphs">Sample 1 Peak Rank</text><text transform="translate(122.15 893.95) rotate(-90)" x="0" y="0" font-size="14.1" textLength="71.50" lengthAdjust="spacingAndGlyphs">-log10 IDR</text><text x="166.39" y="1088.82" font-size="14.1" textLength="7.88" lengthAdjust="spacingAndGlyphs">1</text><text x="186.58" y="1088.82" font-size="14.1" textLength="7.75" lengthAdjust="spacingAndGlyphs">2</text><text x="206.71" y="1088.82" font-size="14.1" textLength="7.75" lengthAdjust="spacingAndGlyphs">3</text><text x="226.84" y="1088.82" font-size="14.1" textLength="7.75" lengthAdjust="spacingAndGlyphs">4</text><text x="246.97" y="1088.82" font-size="14.1" textLength="7.75" lengthAdjust="spacingAndGlyphs">5</text><text x="267.04" y="1088.82" font-size="14.1" textLength="7.88" lengthAdjust="spacingAndGlyphs">6</text><text x="287.23" y="1088.82" font-size="14.1" textLength="7.75" lengthAdjust="spacingAndGlyphs">7</text><text x="307.30" y="1088.82" font-size="14.1" textLength="7.88" lengthAdjust="spacingAndGlyphs">8</text><text x="327.43" y="1088.82" font-size="14.1" textLength="7.88" lengthAdjust="spacingAndGlyphs">9</text><text x="343.19" y="1088.82" font-size="14.1" textLength="16.62" lengthAdjust="spacingAndGlyphs">10</text><text x="363.25" y="1088.82" font-size="14.1" textLength="16.75" lengthAdjust="spacingAndGlyphs">11</text><text x="383.45" y="1088.82" font-size="14.1" textLength="16.62" lengthAdjust="spacingAndGlyphs">12</text><text x="403.58" y="1088.82" font-size="14.1" textLength="16.62" lengthAdjust="spacingAndGlyphs">13</text><text x="423.71" y="1088.82" font-size="14.1" textLength="16.62" lengthAdjust="spacingAndGlyphs">14</text><text x="443.84" y="1088.82" font-size="14.1" textLength="16.62" lengthAdjust="spacingAndGlyphs">15</text><text x="463.90" y="1088.82" font-size="14.1" textLength="16.75" lengthAdjust="spacingAndGlyphs">16</text><text x="484.10" y="1088.82" font-size="14.1" textLength="16.62" lengthAdjust="spacingAndGlyphs">17</text><text x="504.16" y="1088.82" font-size="14.1" textLength="16.75" lengthAdjust="spacingAndGlyphs">18</text><text x="524.29" y="1088.82" font-size="14.1" textLength="16.75" lengthAdjust="spacingAndGlyphs">19</text><text x="544.55" y="1088.82" font-size="14.1" textLength="16.50" lengthAdjust="spacingAndGlyphs">20</text><text x="564.61" y="1088.82" font-size="14.1" textLength="16.63" lengthAdjust="spacingAndGlyphs">21</text><text x="132.23" y="1073.60" font-size="14.1" textLength="7.75" lengthAdjust="spacingAndGlyphs">0</text><text x="132.10" y="1008.98" font-size="14.1" textLength="7.88" lengthAdjust="spacingAndGlyphs">1</text><text x="132.23" y="944.37" font-size="14.1" textLength="7.75" lengthAdjust="spacingAndGlyphs">2</text><text x="132.23" y="879.75" font-size="14.1" textLength="7.75" lengthAdjust="spacingAndGlyphs">3</text><text x="132.23" y="815.14" font-size="14.1" textLength="7.75" lengthAdjust="spacingAndGlyphs">4</text><text x="132.23" y="750.52" font-size="14.1" textLength="7.75" lengthAdjust="spacingAndGlyphs">5</text><text x="132.10" y="685.91" font-size="14.1" textLength="7.88" lengthAdjust="spacingAndGlyphs">6</text><g stroke="#000" stroke-width="0.22"><text x="743.40" y="639.67" font-size="17.0" textLength="250.87" lengthAdjust="spacingAndGlyphs">Sample 2 Ranks vs IDR Values</text></g><text x="798.34" y="1108.38" font-size="14.1" textLength="141.00" lengthAdjust="spacingAndGlyphs">Sample 2 Peak Rank</text><text transform="translate(629.42 893.95) rotate(-90)" x="0" y="0" font-size="14.1" textLength="71.50" lengthAdjust="spacingAndGlyphs">-log10 IDR</text><text x="673.67" y="1088.82" font-size="14.1" textLength="7.87" lengthAdjust="spacingAndGlyphs">1</text><text x="693.86" y="1088.82" font-size="14.1" textLength="7.75" lengthAdjust="spacingAndGlyphs">2</text><text x="713.99" y="1088.82" font-size="14.1" textLength="7.75" lengthAdjust="spacingAndGlyphs">3</text><text x="734.12" y="1088.82" font-size="14.1" textLength="7.75" lengthAdjust="spacingAndGlyphs">4</text><text x="754.25" y="1088.82" font-size="14.1" textLength="7.75" lengthAdjust="spacingAndGlyphs">5</text><text x="774.31" y="1088.82" font-size="14.1" textLength="7.88" lengthAdjust="spacingAndGlyphs">6</text><text x="794.51" y="1088.82" font-size="14.1" textLength="7.75" lengthAdjust="spacingAndGlyphs">7</text><text x="814.57" y="1088.82" font-size="14.1" textLength="7.88" lengthAdjust="spacingAndGlyphs">8</text><text x="834.70" y="1088.82" font-size="14.1" textLength="7.88" lengthAdjust="spacingAndGlyphs">9</text><text x="850.46" y="1088.82" font-size="14.1" textLength="16.62" lengthAdjust="spacingAndGlyphs">10</text><text x="870.53" y="1088.82" font-size="14.1" textLength="16.75" lengthAdjust="spacingAndGlyphs">11</text><text x="890.72" y="1088.82" font-size="14.1" textLength="16.62" lengthAdjust="spacingAndGlyphs">12</text><text x="910.85" y="1088.82" font-size="14.1" textLength="16.62" lengthAdjust="spacingAndGlyphs">13</text><text x="930.98" y="1088.82" font-size="14.1" textLength="16.62" lengthAdjust="spacingAndGlyphs">14</text><text x="951.11" y="1088.82" font-size="14.1" textLength="16.62" lengthAdjust="spacingAndGlyphs">15</text><text x="971.18" y="1088.82" font-size="14.1" textLength="16.75" lengthAdjust="spacingAndGlyphs">16</text><text x="991.37" y="1088.82" font-size="14.1" textLength="16.62" lengthAdjust="spacingAndGlyphs">17</text><text x="1011.44" y="1088.82" font-size="14.1" textLength="16.75" lengthAdjust="spacingAndGlyphs">18</text><text x="1031.57" y="1088.82" font-size="14.1" textLength="16.75" lengthAdjust="spacingAndGlyphs">19</text><text x="1051.82" y="1088.82" font-size="14.1" textLength="16.50" lengthAdjust="spacingAndGlyphs">20</text><text x="1071.89" y="1088.82" font-size="14.1" textLength="16.62" lengthAdjust="spacingAndGlyphs">21</text><text x="639.50" y="1073.60" font-size="14.1" textLength="7.75" lengthAdjust="spacingAndGlyphs">0</text><text x="639.38" y="1008.98" font-size="14.1" textLength="7.87" lengthAdjust="spacingAndGlyphs">1</text><text x="639.50" y="944.37" font-size="14.1" textLength="7.75" lengthAdjust="spacingAndGlyphs">2</text><text x="639.50" y="879.75" font-size="14.1" textLength="7.75" lengthAdjust="spacingAndGlyphs">3</text><text x="639.50" y="815.14" font-size="14.1" textLength="7.75" lengthAdjust="spacingAndGlyphs">4</text><text x="639.50" y="750.52" font-size="14.1" textLength="7.75" lengthAdjust="spacingAndGlyphs">5</text><text x="639.38" y="685.91" font-size="14.1" textLength="7.87" lengthAdjust="spacingAndGlyphs">6</text></g></svg></body></html>
